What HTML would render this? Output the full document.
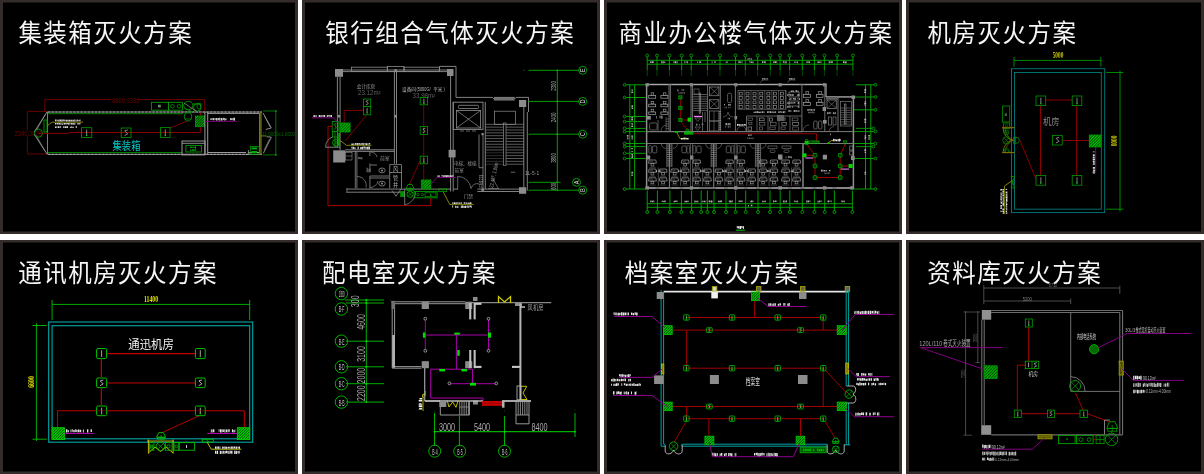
<!DOCTYPE html><html><head><meta charset="utf-8"><title>CAD</title><style>html,body{margin:0;padding:0;background:#fff;overflow:hidden}body{width:1204px;height:474px;font-family:"Liberation Sans",sans-serif}</style></head><body><svg width="1204" height="474" viewBox="0 0 1204 474" style="display:block"><defs><filter id="bl" x="-2%" y="-2%" width="104%" height="104%"><feGaussianBlur stdDeviation="0.3"/></filter><filter id="bl3" x="-2%" y="-2%" width="104%" height="104%"><feGaussianBlur stdDeviation="0.45"/></filter><filter id="bl2" x="-2%" y="-2%" width="104%" height="104%"><feGaussianBlur stdDeviation="0.35"/></filter></defs><rect width="1204" height="474" fill="#fff"/><rect x="0" y="0" width="298" height="234" fill="#332c2b" stroke="none" stroke-width="1"/><rect x="3" y="2.5" width="292" height="229" fill="#000" stroke="none" stroke-width="1"/><rect x="302" y="0" width="298" height="234" fill="#332c2b" stroke="none" stroke-width="1"/><rect x="305" y="2.5" width="292" height="229" fill="#000" stroke="none" stroke-width="1"/><rect x="604" y="0" width="298" height="234" fill="#332c2b" stroke="none" stroke-width="1"/><rect x="607" y="2.5" width="292" height="229" fill="#000" stroke="none" stroke-width="1"/><rect x="906" y="0" width="298" height="234" fill="#332c2b" stroke="none" stroke-width="1"/><rect x="909" y="2.5" width="292" height="229" fill="#000" stroke="none" stroke-width="1"/><rect x="0" y="240" width="298" height="234" fill="#332c2b" stroke="none" stroke-width="1"/><rect x="3" y="242.5" width="292" height="229" fill="#000" stroke="none" stroke-width="1"/><rect x="302" y="240" width="298" height="234" fill="#332c2b" stroke="none" stroke-width="1"/><rect x="305" y="242.5" width="292" height="229" fill="#000" stroke="none" stroke-width="1"/><rect x="604" y="240" width="298" height="234" fill="#332c2b" stroke="none" stroke-width="1"/><rect x="607" y="242.5" width="292" height="229" fill="#000" stroke="none" stroke-width="1"/><rect x="906" y="240" width="298" height="234" fill="#332c2b" stroke="none" stroke-width="1"/><rect x="909" y="242.5" width="292" height="229" fill="#000" stroke="none" stroke-width="1"/><g filter="url(#bl)"><text transform="translate(18.38 42) scale(0.94 1)" font-family="'Liberation Sans', 'Noto Sans CJK SC', sans-serif" font-size="25" letter-spacing="1.6" fill="#f6f6f6" text-anchor="start">集装箱灭火方案</text><text transform="translate(325.19 42) scale(0.94 1)" font-family="'Liberation Sans', 'Noto Sans CJK SC', sans-serif" font-size="25" letter-spacing="1.6" fill="#f6f6f6" text-anchor="start">银行组合气体灭火方案</text><text transform="translate(618.54 42) scale(0.94 1)" font-family="'Liberation Sans', 'Noto Sans CJK SC', sans-serif" font-size="25" letter-spacing="1.6" fill="#f6f6f6" text-anchor="start">商业办公楼气体灭火方案</text><text transform="translate(927.53 42) scale(0.94 1)" font-family="'Liberation Sans', 'Noto Sans CJK SC', sans-serif" font-size="25" letter-spacing="1.6" fill="#f6f6f6" text-anchor="start">机房灭火方案</text><text transform="translate(18.15 282) scale(0.94 1)" font-family="'Liberation Sans', 'Noto Sans CJK SC', sans-serif" font-size="25" letter-spacing="1.6" fill="#f6f6f6" text-anchor="start">通讯机房灭火方案</text><text transform="translate(321.92 282) scale(0.94 1)" font-family="'Liberation Sans', 'Noto Sans CJK SC', sans-serif" font-size="25" letter-spacing="1.6" fill="#f6f6f6" text-anchor="start">配电室灭火方案</text><text transform="translate(624.66 282) scale(0.94 1)" font-family="'Liberation Sans', 'Noto Sans CJK SC', sans-serif" font-size="25" letter-spacing="1.6" fill="#f6f6f6" text-anchor="start">档案室灭火方案</text><text transform="translate(927.33 282) scale(0.94 1)" font-family="'Liberation Sans', 'Noto Sans CJK SC', sans-serif" font-size="25" letter-spacing="1.6" fill="#f6f6f6" text-anchor="start">资料库灭火方案</text></g><g filter="url(#bl2)"><polyline points="44.8,111 44.8,99.5 204.6,99.5 204.6,111" fill="none" stroke="#740000" stroke-width="0.9"/><polyline points="47,111.4 27.4,111.4 27.4,154 47,154" fill="none" stroke="#740000" stroke-width="0.9"/><rect x="111" y="97.5" width="27" height="5" fill="#000" stroke="none" stroke-width="1"/><text transform="translate(112 103) scale(0.83 1)" font-family="Liberation Sans, sans-serif" font-size="7" fill="#6a0000" text-anchor="start">8860.9386</text><rect x="14" y="130.5" width="24" height="6" fill="#000" stroke="none" stroke-width="1"/><text transform="translate(14.5 136) scale(0.83 1)" font-family="Liberation Sans, sans-serif" font-size="7" fill="#6a0000" text-anchor="start">2340.0000</text><line x1="48" y1="112" x2="262" y2="112" stroke="#6c6c6c" stroke-width="1.1"/><line x1="48" y1="112" x2="262" y2="112" stroke="#b0b0b0" stroke-width="0.9" stroke-dasharray="2.4 1.2"/><line x1="48" y1="113.7" x2="183" y2="113.7" stroke="#009c00" stroke-width="0.9"/><line x1="48" y1="152.6" x2="182" y2="152.6" stroke="#009c00" stroke-width="0.9"/><line x1="48" y1="154.4" x2="262" y2="154.4" stroke="#6c6c6c" stroke-width="1.1"/><line x1="48" y1="154.4" x2="262" y2="154.4" stroke="#b0b0b0" stroke-width="0.9" stroke-dasharray="2.4 1.2"/><line x1="47.5" y1="111.5" x2="47.5" y2="154.5" stroke="#8c8c00" stroke-width="1"/><polyline points="47,112 34,132.3" fill="none" stroke="#9a9a9a" stroke-width="0.9"/><polyline points="47,154 34,134" fill="none" stroke="#9a9a9a" stroke-width="0.9"/><polyline points="45.3,114.5 36.3,130.5" fill="none" stroke="#9a9a9a" stroke-width="0.6"/><polyline points="45.3,151.5 36.3,135.5" fill="none" stroke="#9a9a9a" stroke-width="0.6"/><circle cx="38.5" cy="133.2" r="4" fill="none" stroke="#009c00" stroke-width="0.9"/><rect x="44" y="120" width="3" height="12" fill="none" stroke="#009c00" stroke-width="0.9"/><polyline points="47.5,125.5 52,122.2 83,122.2" fill="none" stroke="#8c8c00" stroke-width="0.9"/><path d="M55 119.61h0.99v1.7h-0.99zM56.41 119.61h1.03v1.62h-1.03zM57.81 119.87h0.76v1.57h-0.76zM58.82 119.62h0.9v1.87h-0.9zM60.08 119.62h1.58v1.82h-1.58zM61.92 119.62h0.81v1.8h-0.81zM63.16 119.62h1.28v1.64h-1.28zM64.65 119.7h0.89v1.57h-0.89zM65.97 119.68h1.11v1.78h-1.11zM67.38 119.65h1.22v1.83h-1.22zM68.91 119.85h1.58v1.57h-1.58zM70.75 119.74h1.14v1.71h-1.14zM72.32 119.7h1.49v1.73h-1.49zM74.24 119.61h1.11v1.87h-1.11zM75.82 119.8h0.75v1.7h-0.75zM77.1 119.6h0.96v1.71h-0.96zM78.44 120.01h0.85v1.36h-0.85zM79.55 119.61h0.92v1.83h-0.92z" fill="#fff" opacity="0.85"/><path d="M55 123.02h1.48v1.57h-1.48zM57.03 123.01h1.56v1.43h-1.56zM58.89 122.9h1.14v1.48h-1.14zM60.39 122.92h1.03v1.87h-1.03zM61.83 123.39h1.26v1.36h-1.26zM63.6 123.04h1.49v1.55h-1.49zM65.33 123.01h1.27v1.37h-1.27zM66.86 122.99h1.01v1.33h-1.01zM68.11 122.94h1.03v1.83h-1.03zM69.39 122.94h0.93v1.54h-0.93zM70.86 122.93h1.59v1.61h-1.59zM72.7 122.92h1.01v1.8h-1.01zM73.91 123.16h1.56v1.41h-1.56zM77.4 122.96h1.33v1.54h-1.33zM79.24 122.99h1.18v1.52h-1.18z" fill="#fff" opacity="0.85"/><path d="M55 126.43h1.44v1.46h-1.44zM56.78 126.31h0.73v1.49h-0.73zM57.98 126.24h1.56v1.86h-1.56zM60.12 126.29h1.03v1.46h-1.03zM63.23 126.21h1.13v1.79h-1.13zM64.83 126.27h1.52v1.76h-1.52zM66.62 126.31h1.41v1.79h-1.41zM69.94 126.64h0.85v1.42h-0.85zM71.31 126.21h0.83v1.89h-0.83zM72.49 126.75h1.19v1.34h-1.19zM75.69 126.31h1.31v1.45h-1.31z" fill="#fff" opacity="0.85"/><polyline points="38.5,133.4 68,133.4 70,132.5 200.4,132.5 200.4,112.5" fill="none" stroke="#880000" stroke-width="1"/><line x1="170" y1="128" x2="187" y2="121" stroke="#880000" stroke-width="0.9"/><rect x="81.5" y="127.7" width="10.3" height="9.8" fill="none" stroke="#009c00" stroke-width="0.8"/><line x1="86.65" y1="129.46" x2="86.65" y2="135.54" stroke="#a4a4a4" stroke-width="0.8"/><circle cx="86.65" cy="135.54" r="0.7" fill="#00e000" stroke="none" stroke-width="1"/><rect x="121.2" y="128" width="9.8" height="9.5" fill="none" stroke="#009c00" stroke-width="0.8"/><polyline points="127.86,129.9 124.73,130.85 127.67,133.89 124.53,135.6" fill="none" stroke="#a4a4a4" stroke-width="0.8"/><rect x="160.6" y="127.5" width="9.4" height="10" fill="none" stroke="#009c00" stroke-width="0.8"/><line x1="165.3" y1="129.3" x2="165.3" y2="135.5" stroke="#a4a4a4" stroke-width="0.8"/><circle cx="165.3" cy="135.5" r="0.7" fill="#00e000" stroke="none" stroke-width="1"/><text transform="translate(112.59 150.3) scale(0.8 1)" font-family="'Liberation Sans', 'Noto Sans CJK SC', sans-serif" font-size="11.6" fill="#00c8c8" text-anchor="start">集装箱</text><rect x="151.4" y="102.3" width="17.1" height="7.9" fill="none" stroke="#009c00" stroke-width="0.9"/><path d="M158 104.8h0.92v2.49h-0.92zM159.17 104.8h1.52v2.68h-1.52z" fill="#9c9" opacity="0.8"/><rect x="168.5" y="102.3" width="13.9" height="7.9" fill="none" stroke="#009c00" stroke-width="0.9"/><circle cx="172.5" cy="106.3" r="1.8" fill="none" stroke="#009c00" stroke-width="0.8"/><circle cx="179" cy="106.3" r="1.8" fill="none" stroke="#009c00" stroke-width="0.8"/><ellipse cx="188.3" cy="105.5" rx="4.6" ry="4.2" fill="none" stroke="#009c00" stroke-width="0.9"/><ellipse cx="197.3" cy="107.3" rx="3.8" ry="3.8" fill="none" stroke="#009c00" stroke-width="0.9"/><ellipse cx="188" cy="116.5" rx="3.6" ry="4.6" fill="none" stroke="#009c00" stroke-width="0.9"/><line x1="184" y1="103" x2="196" y2="111" stroke="#9a9a9a" stroke-width="0.7"/><line x1="184" y1="108" x2="193" y2="112" stroke="#009c00" stroke-width="0.8"/><line x1="193" y1="104" x2="201" y2="104" stroke="#009c00" stroke-width="0.8"/><ellipse cx="199" cy="106" rx="2" ry="3" fill="none" stroke="#009c00" stroke-width="0.7"/><line x1="184.5" y1="119" x2="191.5" y2="119" stroke="#009c00" stroke-width="0.7"/><line x1="185" y1="113" x2="191" y2="113" stroke="#009c00" stroke-width="0.7"/><clipPath id="c150"><rect x="195.4" y="116" width="9.1" height="10.7"/></clipPath><rect x="195.4" y="116" width="9.1" height="10.7" fill="#004400" stroke="none" stroke-width="1"/><path d="M184.7 126.7L195.4 116M187.3 126.7L198 116M189.9 126.7L200.6 116M192.5 126.7L203.2 116M195.1 126.7L205.8 116M197.7 126.7L208.4 116M200.3 126.7L211 116M202.9 126.7L213.6 116" stroke="#00b000" stroke-width="1" clip-path="url(#c150)" fill="none"/><rect x="195.4" y="116" width="9.1" height="10.7" fill="none" stroke="#009800" stroke-width="0.8"/><line x1="204.9" y1="112" x2="204.9" y2="154.5" stroke="#9a9a9a" stroke-width="1"/><line x1="207.7" y1="112" x2="207.7" y2="154.5" stroke="#9a9a9a" stroke-width="1"/><polyline points="207.7,113.4 259.8,113.4 259.8,152.5" fill="none" stroke="#9a9a9a" stroke-width="1"/><line x1="207.7" y1="152.5" x2="246" y2="152.5" stroke="#9a9a9a" stroke-width="1"/><line x1="248.4" y1="152.5" x2="259.8" y2="152.5" stroke="#9a9a9a" stroke-width="1"/><line x1="248.4" y1="150" x2="248.4" y2="154.5" stroke="#9a9a9a" stroke-width="0.8"/><line x1="205.2" y1="121.3" x2="236.8" y2="121.3" stroke="#800080" stroke-width="1"/><path d="M210.4 118.14h1.18v1.83h-1.18zM211.85 118.11h0.7v1.95h-0.7zM213.05 118.01h1.2v2.22h-1.2zM214.76 117.96h0.8v2.01h-0.8zM216.06 117.97h1.16v2.41h-1.16zM217.6 118.06h1.25v2.22h-1.25zM219.23 117.83h1.18v2.55h-1.18zM220.96 118.12h1.55v2.26h-1.55zM223.05 117.83h0.82v2.16h-0.82zM224.17 117.95h0.77v2.43h-0.77zM225.19 118.39h1.34v1.93h-1.34zM230.05 117.93h0.85v2.22h-0.85zM231.18 118.22h0.99v1.84h-0.99zM232.54 117.95h0.72v2.31h-0.72zM233.48 117.8h1.52v2.58h-1.52z" fill="#fff" opacity="0.85"/><rect x="182" y="141" width="23" height="13.9" fill="none" stroke="#9a9a9a" stroke-width="1"/><line x1="182" y1="143.3" x2="205" y2="143.3" stroke="#9a9a9a" stroke-width="0.9"/><rect x="185.9" y="145.4" width="15.5" height="6.6" fill="none" stroke="#009c00" stroke-width="0.9"/><path d="M190 146.65h0.74v1.41h-0.74zM191.1 146.66h1.52v1.4h-1.52zM193.19 146.63h1.21v1.31h-1.21zM194.88 146.62h1.08v1.77h-1.08z" fill="#0c0" opacity="0.9"/><path d="M190 149.4h1.48v1.44h-1.48zM192.05 149.26h0.94v1.54h-0.94zM193.23 149.33h0.85v1.37h-0.85zM194.4 149.25h1.38v1.53h-1.38z" fill="#0c0" opacity="0.9"/><line x1="261" y1="112" x2="261" y2="154.5" stroke="#8c8c00" stroke-width="1"/><polyline points="263,113 271.3,128 265.8,129.4" fill="none" stroke="#9a9a9a" stroke-width="0.9"/><polyline points="264.5,116 270,127" fill="none" stroke="#9a9a9a" stroke-width="0.6"/><polyline points="266.6,136.7 271.3,137.2 263.4,153.3" fill="none" stroke="#9a9a9a" stroke-width="0.9"/><polyline points="269.5,139 264.2,150" fill="none" stroke="#9a9a9a" stroke-width="0.6"/><line x1="261" y1="135.9" x2="266.6" y2="135.9" stroke="#8c8c00" stroke-width="0.9"/><line x1="275.8" y1="110.9" x2="275.8" y2="154.9" stroke="#009000" stroke-width="0.8"/><line x1="263" y1="111" x2="277" y2="111" stroke="#009000" stroke-width="0.8"/><line x1="263" y1="154.9" x2="277" y2="154.9" stroke="#009000" stroke-width="0.8"/><circle cx="275.8" cy="111" r="0.7" fill="#00c000" stroke="none" stroke-width="1"/><circle cx="275.8" cy="154.9" r="0.7" fill="#00c000" stroke="none" stroke-width="1"/><text transform="translate(262 135.6) scale(0.78 1)" font-family="Liberation Sans, sans-serif" font-size="6" fill="#006800" text-anchor="start">11.0000x1.0000</text><rect x="250.3" y="146.5" width="9" height="7.8" fill="none" stroke="#009c00" stroke-width="0.8"/><rect x="251.5" y="147.5" width="5.5" height="1.8" fill="#00b000" stroke="none" stroke-width="1"/><rect x="251.5" y="151" width="5.5" height="2" fill="#00b000" stroke="none" stroke-width="1"/><rect x="335" y="69" width="8" height="7.8" fill="#8c8c8c" stroke="none" stroke-width="1"/><rect x="447" y="69" width="6.5" height="7" fill="#8c8c8c" stroke="none" stroke-width="1"/><rect x="394.4" y="69.2" width="2.4" height="2.4" fill="#8c8c8c" stroke="none" stroke-width="1"/><rect x="337.8" y="115" width="2.3" height="2.5" fill="#8c8c8c" stroke="none" stroke-width="1"/><rect x="394.4" y="115" width="2.4" height="2.5" fill="#8c8c8c" stroke="none" stroke-width="1"/><rect x="333.2" y="150.3" width="12.1" height="12.2" fill="#8c8c8c" stroke="none" stroke-width="1"/><rect x="448.6" y="149.8" width="7" height="7.6" fill="#8c8c8c" stroke="none" stroke-width="1"/><rect x="519" y="100" width="7.2" height="7" fill="#8c8c8c" stroke="none" stroke-width="1"/><rect x="519" y="187.2" width="7.2" height="6.6" fill="#8c8c8c" stroke="none" stroke-width="1"/><rect x="481.5" y="133" width="2.2" height="2.2" fill="#8c8c8c" stroke="none" stroke-width="1"/><rect x="481.5" y="188.6" width="2.4" height="2.4" fill="#8c8c8c" stroke="none" stroke-width="1"/><line x1="343" y1="70" x2="447" y2="70" stroke="#8e8e8e" stroke-width="0.9"/><line x1="343" y1="71.6" x2="447" y2="71.6" stroke="#8e8e8e" stroke-width="0.9"/><rect x="351.4" y="67.2" width="35.9" height="4.4" fill="none" stroke="#8e8e8e" stroke-width="0.8"/><rect x="387.3" y="66.4" width="16.7" height="5.2" fill="none" stroke="#8e8e8e" stroke-width="0.8"/><rect x="404" y="67.2" width="35.5" height="4.4" fill="none" stroke="#8e8e8e" stroke-width="0.8"/><polyline points="439.5,71.6 439.5,66.4 456,66.4 456,97.4 492.5,97.4 494,99" fill="none" stroke="#8e8e8e" stroke-width="0.9"/><line x1="337.4" y1="77" x2="337.4" y2="147" stroke="#8e8e8e" stroke-width="0.9"/><line x1="340.1" y1="77" x2="340.1" y2="150" stroke="#8e8e8e" stroke-width="0.9"/><line x1="394.4" y1="71.6" x2="394.4" y2="163.8" stroke="#8e8e8e" stroke-width="0.9"/><line x1="396.5" y1="71.6" x2="396.5" y2="163.8" stroke="#8e8e8e" stroke-width="0.9"/><line x1="450.6" y1="76" x2="450.6" y2="191.5" stroke="#8e8e8e" stroke-width="0.9"/><line x1="453.2" y1="102" x2="453.2" y2="191.5" stroke="#8e8e8e" stroke-width="0.9"/><text x="356.84" y="88.2" font-family="'Liberation Sans', 'Noto Sans CJK SC', sans-serif" font-size="4.6" fill="#a0a0a0" text-anchor="start">会计库房</text><text transform="translate(358 95.3) scale(0.88 1)" font-family="Liberation Sans, sans-serif" font-size="7" fill="#606060" text-anchor="start">23.12m²</text><text x="402.12" y="90.6" font-family="'Liberation Sans', 'Noto Sans CJK SC', sans-serif" font-size="4.6" fill="#b8b8b8" text-anchor="start">设备间</text><text transform="translate(416.5 90.6) scale(0.78 1)" font-family="Liberation Sans, sans-serif" font-size="5" fill="#b8b8b8" text-anchor="start">(5000G/</text><text x="433.27" y="90.6" font-family="'Liberation Sans', 'Noto Sans CJK SC', sans-serif" font-size="4.6" fill="#b8b8b8" text-anchor="start">平米</text><text transform="translate(443.5 90.6) scale(0.8 1)" font-family="Liberation Sans, sans-serif" font-size="5" fill="#b8b8b8" text-anchor="start">)</text><text transform="translate(412.6 98.1) scale(0.88 1)" font-family="Liberation Sans, sans-serif" font-size="7" fill="#606060" text-anchor="start">33.98m²</text><line x1="423.7" y1="104.8" x2="423.7" y2="180" stroke="#7c0000" stroke-width="1"/><polyline points="344.2,123 344.2,110.4 363.5,110.4" fill="none" stroke="#7c0000" stroke-width="1"/><line x1="366.7" y1="114.8" x2="345.3" y2="140.8" stroke="#7c0000" stroke-width="1"/><line x1="420.2" y1="160.6" x2="409.4" y2="184.3" stroke="#7c0000" stroke-width="1"/><rect x="363.5" y="99" width="7.2" height="7.4" fill="none" stroke="#009c00" stroke-width="0.8"/><polyline points="368.4,100.48 366.09,101.22 368.25,103.59 365.95,104.92" fill="none" stroke="#a4a4a4" stroke-width="0.8"/><rect x="363.5" y="106.4" width="7.2" height="8.4" fill="none" stroke="#009c00" stroke-width="0.8"/><line x1="367.1" y1="107.91" x2="367.1" y2="113.12" stroke="#a4a4a4" stroke-width="0.8"/><circle cx="367.1" cy="113.12" r="0.7" fill="#00e000" stroke="none" stroke-width="1"/><rect x="420.2" y="97.4" width="7.4" height="7.4" fill="none" stroke="#009c00" stroke-width="0.8"/><line x1="423.9" y1="98.73" x2="423.9" y2="103.32" stroke="#a4a4a4" stroke-width="0.8"/><circle cx="423.9" cy="103.32" r="0.7" fill="#00e000" stroke="none" stroke-width="1"/><rect x="420.2" y="126.6" width="7.4" height="7.9" fill="none" stroke="#009c00" stroke-width="0.8"/><polyline points="425.23,128.18 422.86,128.97 425.08,131.5 422.72,132.92" fill="none" stroke="#a4a4a4" stroke-width="0.8"/><rect x="420.2" y="156.2" width="7.4" height="7.6" fill="none" stroke="#009c00" stroke-width="0.8"/><line x1="423.9" y1="157.57" x2="423.9" y2="162.28" stroke="#a4a4a4" stroke-width="0.8"/><circle cx="423.9" cy="162.28" r="0.7" fill="#00e000" stroke="none" stroke-width="1"/><polyline points="312,117.8 333.5,117.8 339.8,124.6" fill="none" stroke="#800080" stroke-width="1"/><path d="M313 115.38h0.72v1.55h-0.72zM314.14 114.9h0.87v2.16h-0.87zM315.53 114.94h1.09v2.09h-1.09zM318.68 115h1.45v1.96h-1.45zM320.47 115.35h0.75v1.59h-0.75zM321.52 114.99h0.85v2.1h-0.85zM322.84 115.11h0.95v1.73h-0.95zM324.05 114.92h1.1v2.17h-1.1zM326.82 115.09h1.02v1.79h-1.02zM328.24 115.07h0.88v1.54h-0.88zM329.36 115.1h1.06v1.55h-1.06zM330.71 115.01h1.23v2.04h-1.23z" fill="#fff" opacity="0.85"/><rect x="332.2" y="121.5" width="6" height="9.8" fill="none" stroke="#009c00" stroke-width="0.8"/><polyline points="336.28,123.46 334.36,124.44 336.16,127.58 334.24,129.34" fill="none" stroke="#00c000" stroke-width="0.8"/><clipPath id="c245"><rect x="340.1" y="123" width="10" height="9"/></clipPath><rect x="340.1" y="123" width="10" height="9" fill="#004400" stroke="none" stroke-width="1"/><path d="M331.1 132L340.1 123M333.9 132L342.9 123M336.7 132L345.7 123M339.5 132L348.5 123M342.3 132L351.3 123M345.1 132L354.1 123M347.9 132L356.9 123" stroke="#00b800" stroke-width="1.15" clip-path="url(#c245)" fill="none"/><rect x="340.1" y="123" width="10" height="9" fill="none" stroke="#009c00" stroke-width="0.8"/><polyline points="332.7,126.3 328,126.3 328,205.6 430.8,205.6 430.8,198" fill="none" stroke="#a80000" stroke-width="1"/><rect x="332.5" y="131.5" width="5" height="5.5" fill="none" stroke="#009c00" stroke-width="0.8"/><circle cx="335.9" cy="142.6" r="3.4" fill="none" stroke="#009c00" stroke-width="0.9"/><line x1="333.5" y1="140" x2="338.4" y2="145" stroke="#009c00" stroke-width="0.7"/><line x1="338.4" y1="140" x2="333.5" y2="145" stroke="#009c00" stroke-width="0.7"/><line x1="335" y1="131" x2="335" y2="147" stroke="#009c00" stroke-width="0.8"/><line x1="339" y1="133" x2="339" y2="146" stroke="#00c000" stroke-width="1.4"/><path d="M325.6 147.2A10.5 10.5 0 0 1 332.7 136.9" fill="none" stroke="#8e8e8e" stroke-width="0.8"/><line x1="325.6" y1="147.2" x2="340" y2="147.2" stroke="#8e8e8e" stroke-width="0.9"/><polyline points="340.6,140.8 346.5,145.3 371.5,145.3" fill="none" stroke="#909000" stroke-width="0.9"/><path d="M351.4 143.38h1.49v1.52h-1.49zM353.15 143.46h1.35v1.35h-1.35zM355.06 143.01h1.26v1.79h-1.26zM356.73 143.09h1.15v1.79h-1.15zM358.32 143.04h1.5v1.73h-1.5zM360.04 143.43h0.82v1.39h-0.82zM361.28 143.09h1.26v1.72h-1.26zM362.75 143.15h1.42v1.62h-1.42zM364.63 143.03h0.76v1.47h-0.76zM365.69 143.14h1.36v1.75h-1.36zM367.45 143.14h1.04v1.72h-1.04zM368.94 143.12h1.28v1.41h-1.28z" fill="#fff" opacity="0.85"/><path d="M351.4 146.65h0.97v1.83h-0.97zM352.68 146.67h1.3v2.35h-1.3zM354.39 147.21h1.12v1.91h-1.12zM357.58 146.61h1.11v2.58h-1.11zM360.17 146.95h1.22v2.23h-1.22zM361.65 146.66h1.44v2.51h-1.44zM363.38 146.6h1.51v1.84h-1.51zM365.28 146.83h1.11v1.93h-1.11zM366.72 146.76h1.46v2.41h-1.46zM368.42 146.62h1.53v2.52h-1.53z" fill="#fff" opacity="0.85"/><line x1="345.3" y1="149.8" x2="394.4" y2="149.8" stroke="#8e8e8e" stroke-width="0.9"/><line x1="345.3" y1="151.4" x2="394.4" y2="151.4" stroke="#8e8e8e" stroke-width="0.9"/><line x1="355.3" y1="151.4" x2="355.3" y2="188.3" stroke="#8e8e8e" stroke-width="0.8"/><line x1="356.9" y1="151.4" x2="356.9" y2="188.3" stroke="#8e8e8e" stroke-width="0.8"/><line x1="346.9" y1="189.1" x2="450.6" y2="189.1" stroke="#8e8e8e" stroke-width="0.9"/><line x1="346.9" y1="192.2" x2="404" y2="192.2" stroke="#8e8e8e" stroke-width="0.9"/><line x1="346.9" y1="188" x2="346.9" y2="193" stroke="#8e8e8e" stroke-width="0.8"/><line x1="369.9" y1="151.4" x2="369.9" y2="156" stroke="#8e8e8e" stroke-width="0.8"/><line x1="369.9" y1="163.5" x2="369.9" y2="172" stroke="#8e8e8e" stroke-width="0.8"/><line x1="369.9" y1="176" x2="369.9" y2="188.3" stroke="#8e8e8e" stroke-width="0.8"/><line x1="369.9" y1="176" x2="389" y2="176" stroke="#8e8e8e" stroke-width="0.8"/><line x1="369.9" y1="178" x2="389" y2="178" stroke="#8e8e8e" stroke-width="0.8"/><line x1="370" y1="165" x2="377" y2="165" stroke="#8e8e8e" stroke-width="0.8"/><ellipse cx="382" cy="170.4" rx="3.2" ry="2.4" fill="none" stroke="#8e8e8e" stroke-width="0.8"/><ellipse cx="382" cy="183.6" rx="3.2" ry="2.4" fill="none" stroke="#8e8e8e" stroke-width="0.8"/><circle cx="382" cy="170.4" r="1" fill="#8e8e8e" stroke="none" stroke-width="1"/><circle cx="382" cy="183.6" r="1" fill="#8e8e8e" stroke="none" stroke-width="1"/><path d="M357 176.5A9 9 0 0 1 366 187.5" fill="none" stroke="#8e8e8e" stroke-width="0.7"/><path d="M370 187.5A8 8 0 0 0 378 181" fill="none" stroke="#8e8e8e" stroke-width="0.7"/><path d="M370.5 152A7 7 0 0 1 377 157" fill="none" stroke="#8e8e8e" stroke-width="0.7"/><rect x="345.5" y="152.5" width="6.5" height="7.5" fill="none" stroke="#8e8e8e" stroke-width="0.6"/><line x1="346" y1="156" x2="352" y2="156" stroke="#8e8e8e" stroke-width="0.6"/><path d="M358 157.02h1.02v1.72h-1.02zM359.27 157.01h1.45v2.16h-1.45zM361.02 157.4h1.16v1.79h-1.16zM362.74 157.05h0.26v2.14h-0.26z" fill="#999" opacity="0.7"/><path d="M366.5 167.68h1.35v4.6h-1.35zM368.35 168.82h1.28v3.57h-1.28zM369.88 168.28h0.62v3.95h-0.62z" fill="#888" opacity="0.7"/><text x="380.06" y="159.6" font-family="'Liberation Sans', 'Noto Sans CJK SC', sans-serif" font-size="4.8" fill="#8c8c8c" text-anchor="start">前室</text><polyline points="389.7,188.3 389.7,164.6 401.5,164.6 401.5,188.3 396,196.2 392,190.5" fill="none" stroke="#8e8e8e" stroke-width="0.8"/><line x1="389.7" y1="172.5" x2="401.5" y2="172.5" stroke="#8e8e8e" stroke-width="0.8"/><text x="393.12" y="171.2" font-family="'Liberation Sans', 'Noto Sans CJK SC', sans-serif" font-size="5.2" fill="#b0b0b0" text-anchor="start">风</text><text x="393.11" y="180" font-family="'Liberation Sans', 'Noto Sans CJK SC', sans-serif" font-size="5.2" fill="#b0b0b0" text-anchor="start">管</text><text x="393.01" y="186.8" font-family="'Liberation Sans', 'Noto Sans CJK SC', sans-serif" font-size="5.2" fill="#b0b0b0" text-anchor="start">井</text><clipPath id="c300"><rect x="421.3" y="180" width="9.5" height="9"/></clipPath><rect x="421.3" y="180" width="9.5" height="9" fill="#004400" stroke="none" stroke-width="1"/><path d="M412.3 189L421.3 180M415.1 189L424.1 180M417.9 189L426.9 180M420.7 189L429.7 180M423.5 189L432.5 180M426.3 189L435.3 180M429.1 189L438.1 180" stroke="#00b800" stroke-width="1.15" clip-path="url(#c300)" fill="none"/><rect x="421.3" y="180" width="9.5" height="9" fill="none" stroke="#009c00" stroke-width="0.8"/><polyline points="430.8,184.3 437.1,177.4 456,177.4" fill="none" stroke="#800080" stroke-width="1"/><path d="M437.5 175.16h0.93v1.74h-0.93zM438.79 175.37h0.85v1.68h-0.85zM441.54 174.95h1.1v1.67h-1.1zM442.98 175.18h0.78v1.71h-0.78zM444.32 175.1h1.37v1.81h-1.37zM446.04 175.36h1v1.72h-1zM447.3 174.92h1.15v2.11h-1.15zM448.76 175.25h0.92v1.83h-0.92zM450.22 175.35h1.49v1.56h-1.49zM452.27 175.16h1.13v1.54h-1.13z" fill="#fff" opacity="0.85"/><polygon points="408,184.5 412,184.5 414,188.7 406,188.7" fill="none" stroke="#009c00" stroke-width="0.9"/><rect x="406.8" y="188.7" width="6.4" height="1.8" fill="none" stroke="#009c00" stroke-width="0.8"/><line x1="410" y1="186.6" x2="410" y2="190.5" stroke="#009c00" stroke-width="0.7"/><circle cx="410" cy="194.3" r="3.1" fill="none" stroke="#009c00" stroke-width="0.9"/><line x1="407.83" y1="192.13" x2="412.17" y2="196.47" stroke="#009c00" stroke-width="0.7"/><line x1="412.17" y1="192.13" x2="407.83" y2="196.47" stroke="#009c00" stroke-width="0.7"/><rect x="400.2" y="191.3" width="4.8" height="5.7" fill="#009000" stroke="none" stroke-width="1"/><rect x="414.2" y="191.5" width="22.9" height="6.3" fill="none" stroke="#009c00" stroke-width="0.9"/><circle cx="418" cy="194.6" r="1.2" fill="none" stroke="#009c00" stroke-width="0.7"/><circle cx="422.5" cy="194.6" r="1.2" fill="none" stroke="#009c00" stroke-width="0.7"/><rect x="425" y="192.8" width="11" height="3.8" fill="none" stroke="#009c00" stroke-width="0.7"/><circle cx="430.7" cy="195" r="0.8" fill="#0d0" stroke="none" stroke-width="1"/><rect x="438.7" y="189" width="7.9" height="2.5" fill="none" stroke="#009c00" stroke-width="0.8"/><line x1="441" y1="189" x2="444" y2="191.5" stroke="#009c00" stroke-width="0.6"/><polyline points="443.4,192.2 449.7,204.4 473.7,204.4" fill="none" stroke="#909000" stroke-width="0.9"/><path d="M452.2 202.45h0.92v1.42h-0.92zM453.6 202.35h1.55v1.7h-1.55zM455.53 202.23h1.2v1.78h-1.2zM457.29 202.33h1.28v1.4h-1.28zM459.03 202.48h1.33v1.37h-1.33zM460.79 202.2h1.05v1.67h-1.05zM463.73 202.31h1.5v1.46h-1.5zM465.81 202.48h1.33v1.34h-1.33zM467.61 202.38h1.08v1.71h-1.08zM468.98 202.43h0.73v1.57h-0.73zM469.99 202.26h1.42v1.62h-1.42z" fill="#fff" opacity="0.85"/><path d="M452.2 205.53h0.98v2h-0.98zM455.05 205.7h0.87v2.15h-0.87zM456.5 206h0.83v1.99h-0.83zM457.59 205.83h0.75v2.13h-0.75zM460.82 205.44h1v2.55h-1zM462.03 205.56h1.3v2.11h-1.3zM463.59 205.88h0.7v2.09h-0.7zM464.54 205.81h1.57v2.1h-1.57zM466.64 205.55h1.09v2.19h-1.09zM468.3 205.4h0.87v2.52h-0.87zM469.54 205.43h1.43v1.85h-1.43zM471.19 205.58h0.61v2.4h-0.61z" fill="#fff" opacity="0.85"/><line x1="404.7" y1="189" x2="404.7" y2="205" stroke="#8e8e8e" stroke-width="0.8"/><path d="M404.7 205A14 14 0 0 0 415.8 192" fill="none" stroke="#8e8e8e" stroke-width="0.7"/><rect x="494" y="97.4" width="20.6" height="3.2" fill="#707070" stroke="none" stroke-width="1"/><line x1="494" y1="97.4" x2="514.6" y2="97.4" stroke="#8e8e8e" stroke-width="0.8"/><polyline points="514.6,99 516.2,97.4 528.5,97.4 528.5,112" fill="none" stroke="#8e8e8e" stroke-width="0.9"/><rect x="453.2" y="102.2" width="29.8" height="27.2" fill="none" stroke="#8e8e8e" stroke-width="0.9"/><rect x="458.4" y="105.3" width="20.1" height="3.2" fill="none" stroke="#8e8e8e" stroke-width="0.8" rx="1"/><rect x="456.4" y="110.4" width="24.2" height="17.6" fill="none" stroke="#8e8e8e" stroke-width="0.8"/><line x1="456.4" y1="110.4" x2="480.6" y2="128" stroke="#8e8e8e" stroke-width="0.7"/><line x1="480.6" y1="110.4" x2="456.4" y2="128" stroke="#8e8e8e" stroke-width="0.7"/><line x1="460" y1="131" x2="477" y2="131" stroke="#8e8e8e" stroke-width="0.7" stroke-dasharray="4 2"/><line x1="485.3" y1="102" x2="485.3" y2="189" stroke="#8e8e8e" stroke-width="0.9"/><line x1="523.8" y1="107" x2="523.8" y2="187" stroke="#8e8e8e" stroke-width="0.9"/><line x1="527.3" y1="112" x2="527.3" y2="190.7" stroke="#8e8e8e" stroke-width="0.9"/><rect x="494.4" y="111.2" width="21" height="13.1" fill="none" stroke="#8e8e8e" stroke-width="0.7"/><line x1="485.8" y1="124.3" x2="503.5" y2="124.3" stroke="#8e8e8e" stroke-width="0.7" stroke-opacity="0.9"/><line x1="506" y1="124.3" x2="523.8" y2="124.3" stroke="#8e8e8e" stroke-width="0.7" stroke-opacity="0.9"/><line x1="485.8" y1="127.15" x2="503.5" y2="127.15" stroke="#8e8e8e" stroke-width="0.7" stroke-opacity="0.9"/><line x1="506" y1="127.15" x2="523.8" y2="127.15" stroke="#8e8e8e" stroke-width="0.7" stroke-opacity="0.9"/><line x1="485.8" y1="130" x2="503.5" y2="130" stroke="#8e8e8e" stroke-width="0.7" stroke-opacity="0.9"/><line x1="506" y1="130" x2="523.8" y2="130" stroke="#8e8e8e" stroke-width="0.7" stroke-opacity="0.9"/><line x1="485.8" y1="132.85" x2="503.5" y2="132.85" stroke="#8e8e8e" stroke-width="0.7" stroke-opacity="0.9"/><line x1="506" y1="132.85" x2="523.8" y2="132.85" stroke="#8e8e8e" stroke-width="0.7" stroke-opacity="0.9"/><line x1="485.8" y1="135.7" x2="503.5" y2="135.7" stroke="#8e8e8e" stroke-width="0.7" stroke-opacity="0.9"/><line x1="506" y1="135.7" x2="523.8" y2="135.7" stroke="#8e8e8e" stroke-width="0.7" stroke-opacity="0.9"/><line x1="485.8" y1="138.55" x2="503.5" y2="138.55" stroke="#8e8e8e" stroke-width="0.7" stroke-opacity="0.9"/><line x1="506" y1="138.55" x2="523.8" y2="138.55" stroke="#8e8e8e" stroke-width="0.7" stroke-opacity="0.9"/><line x1="485.8" y1="141.4" x2="503.5" y2="141.4" stroke="#8e8e8e" stroke-width="0.7" stroke-opacity="0.9"/><line x1="506" y1="141.4" x2="523.8" y2="141.4" stroke="#8e8e8e" stroke-width="0.7" stroke-opacity="0.9"/><line x1="485.8" y1="144.25" x2="503.5" y2="144.25" stroke="#8e8e8e" stroke-width="0.7" stroke-opacity="0.9"/><line x1="506" y1="144.25" x2="523.8" y2="144.25" stroke="#8e8e8e" stroke-width="0.7" stroke-opacity="0.9"/><line x1="485.8" y1="147.1" x2="503.5" y2="147.1" stroke="#8e8e8e" stroke-width="0.7" stroke-opacity="0.9"/><line x1="506" y1="147.1" x2="523.8" y2="147.1" stroke="#8e8e8e" stroke-width="0.7" stroke-opacity="0.9"/><line x1="485.8" y1="149.95" x2="503.5" y2="149.95" stroke="#8e8e8e" stroke-width="0.7" stroke-opacity="0.9"/><line x1="506" y1="149.95" x2="523.8" y2="149.95" stroke="#8e8e8e" stroke-width="0.7" stroke-opacity="0.9"/><line x1="485.8" y1="152.8" x2="503.5" y2="152.8" stroke="#8e8e8e" stroke-width="0.7" stroke-opacity="0.45"/><line x1="506" y1="152.8" x2="523.8" y2="152.8" stroke="#8e8e8e" stroke-width="0.7" stroke-opacity="0.9"/><line x1="485.8" y1="155.65" x2="503.5" y2="155.65" stroke="#8e8e8e" stroke-width="0.7" stroke-opacity="0.45"/><line x1="506" y1="155.65" x2="523.8" y2="155.65" stroke="#8e8e8e" stroke-width="0.7" stroke-opacity="0.9"/><line x1="485.8" y1="158.5" x2="503.5" y2="158.5" stroke="#8e8e8e" stroke-width="0.7" stroke-opacity="0.45"/><line x1="506" y1="158.5" x2="523.8" y2="158.5" stroke="#8e8e8e" stroke-width="0.7" stroke-opacity="0.9"/><line x1="485.8" y1="161.35" x2="503.5" y2="161.35" stroke="#8e8e8e" stroke-width="0.7" stroke-opacity="0.45"/><line x1="506" y1="161.35" x2="523.8" y2="161.35" stroke="#8e8e8e" stroke-width="0.7" stroke-opacity="0.9"/><line x1="485.8" y1="164.2" x2="503.5" y2="164.2" stroke="#8e8e8e" stroke-width="0.7" stroke-opacity="0.45"/><line x1="506" y1="164.2" x2="523.8" y2="164.2" stroke="#8e8e8e" stroke-width="0.7" stroke-opacity="0.9"/><rect x="503.5" y="123" width="2.5" height="42.3" fill="none" stroke="#8e8e8e" stroke-width="0.7"/><line x1="479" y1="134.5" x2="479" y2="167.7" stroke="#8e8e8e" stroke-width="0.8"/><line x1="483" y1="134.5" x2="483" y2="189" stroke="#8e8e8e" stroke-width="0.8"/><line x1="479" y1="167.7" x2="483" y2="167.7" stroke="#8e8e8e" stroke-width="0.8"/><line x1="477.4" y1="189.1" x2="519" y2="189.1" stroke="#8e8e8e" stroke-width="0.9"/><line x1="477.4" y1="191.5" x2="519" y2="191.5" stroke="#8e8e8e" stroke-width="0.9"/><line x1="453.2" y1="189.1" x2="458" y2="189.1" stroke="#8e8e8e" stroke-width="0.9"/><text transform="translate(454.06 164.6) scale(0.98 1)" font-family="'Liberation Sans', 'Noto Sans CJK SC', sans-serif" font-size="4.6" fill="#8c8c8c" text-anchor="start">电梯、楼梯</text><text x="454.57" y="172" font-family="'Liberation Sans', 'Noto Sans CJK SC', sans-serif" font-size="4.6" fill="#8c8c8c" text-anchor="start">前室</text><text x="463.78" y="198.4" font-family="'Liberation Sans', 'Noto Sans CJK SC', sans-serif" font-size="4.8" fill="#9a9a9a" text-anchor="start">门禁</text><path d="M457.7 176.4A13.5 13.5 0 0 1 471 188.5" fill="none" stroke="#8e8e8e" stroke-width="0.7"/><path d="M479 183.9A6 6 0 0 0 471.2 188.5" fill="none" stroke="#8e8e8e" stroke-width="0.7"/><line x1="457.7" y1="176.4" x2="457.7" y2="189" stroke="#8e8e8e" stroke-width="0.7"/><text transform="translate(482.6 187.5) rotate(-90) scale(0.7 1)" font-family="Liberation Sans, sans-serif" font-size="5" fill="#a0a0a0" text-anchor="start">FM1221</text><text transform="translate(493 188) rotate(-78) scale(0.72 1)" font-family="Liberation Sans, sans-serif" font-size="5.6" fill="#9a9a9a" text-anchor="start">22.407, 1.80m</text><line x1="492.5" y1="178" x2="498" y2="188" stroke="#8e8e8e" stroke-width="0.6"/><line x1="488" y1="188.5" x2="499" y2="188.5" stroke="#8e8e8e" stroke-width="0.6"/><text transform="translate(524.9 174.6) scale(0.85 1)" font-family="Liberation Sans, sans-serif" font-size="5.8" fill="#9a9a9a" text-anchor="start">1L-5-1</text><line x1="510.7" y1="172.2" x2="515.4" y2="172.2" stroke="#8e8e8e" stroke-width="0.7"/><line x1="528.5" y1="70.3" x2="579.2" y2="70.3" stroke="#00b000" stroke-width="0.9"/><circle cx="557.3" cy="70.3" r="0.8" fill="#00d000" stroke="none" stroke-width="1"/><line x1="528.5" y1="101.4" x2="579.2" y2="101.4" stroke="#00b000" stroke-width="0.9"/><circle cx="557.3" cy="101.4" r="0.8" fill="#00d000" stroke="none" stroke-width="1"/><line x1="528.5" y1="134.2" x2="579.2" y2="134.2" stroke="#00b000" stroke-width="0.9"/><circle cx="557.3" cy="134.2" r="0.8" fill="#00d000" stroke="none" stroke-width="1"/><line x1="528.5" y1="182.3" x2="560.5" y2="182.3" stroke="#00b000" stroke-width="0.9"/><circle cx="557.3" cy="182.3" r="0.8" fill="#00d000" stroke="none" stroke-width="1"/><line x1="528.5" y1="190.2" x2="579" y2="190.2" stroke="#00b000" stroke-width="0.9"/><circle cx="557.3" cy="190.2" r="0.8" fill="#00d000" stroke="none" stroke-width="1"/><line x1="557.3" y1="70.3" x2="557.3" y2="190.2" stroke="#00b000" stroke-width="0.9"/><circle cx="524" cy="70.3" r="0.5" fill="#00b000" stroke="none" stroke-width="1"/><circle cx="582.7" cy="70.3" r="4" fill="none" stroke="#00b000" stroke-width="0.9"/><text transform="translate(585 70.3) rotate(-90) scale(0.85 1)" font-family="Liberation Sans, sans-serif" font-size="6.6" fill="#d8d8d8" text-anchor="middle">E</text><circle cx="582.7" cy="101.4" r="4" fill="none" stroke="#00b000" stroke-width="0.9"/><text transform="translate(585 101.4) rotate(-90) scale(0.85 1)" font-family="Liberation Sans, sans-serif" font-size="6.6" fill="#d8d8d8" text-anchor="middle">D</text><circle cx="582.7" cy="134.2" r="4" fill="none" stroke="#00b000" stroke-width="0.9"/><text transform="translate(585 134.2) rotate(-90) scale(0.85 1)" font-family="Liberation Sans, sans-serif" font-size="6.6" fill="#d8d8d8" text-anchor="middle">C</text><circle cx="576.5" cy="182.3" r="4" fill="none" stroke="#00b000" stroke-width="0.9"/><text transform="translate(578.8 182.3) rotate(-90) scale(0.85 1)" font-family="Liberation Sans, sans-serif" font-size="6.6" fill="#d8d8d8" text-anchor="middle">A</text><circle cx="582.7" cy="190.2" r="4" fill="none" stroke="#00b000" stroke-width="0.9"/><text transform="translate(585 190.2) rotate(-90) scale(0.85 1)" font-family="Liberation Sans, sans-serif" font-size="6.6" fill="#d8d8d8" text-anchor="middle">B</text><text transform="translate(556.4 86) rotate(-90) scale(0.62 1)" font-family="Liberation Sans, sans-serif" font-size="7" fill="#a8a8a8" text-anchor="middle">2300</text><text transform="translate(556.4 117.5) rotate(-90) scale(0.62 1)" font-family="Liberation Sans, sans-serif" font-size="7" fill="#a8a8a8" text-anchor="middle">2400</text><text transform="translate(556.4 158) rotate(-90) scale(0.62 1)" font-family="Liberation Sans, sans-serif" font-size="7" fill="#a8a8a8" text-anchor="middle">3800</text><text transform="translate(556.4 186.4) rotate(-90) scale(0.62 1)" font-family="Liberation Sans, sans-serif" font-size="7" fill="#a8a8a8" text-anchor="middle">600</text><line x1="1014" y1="60.4" x2="1100.9" y2="60.4" stroke="#009800" stroke-width="0.9"/><line x1="1014" y1="57" x2="1014" y2="66.7" stroke="#009800" stroke-width="0.9"/><line x1="1100.9" y1="57" x2="1100.9" y2="66.7" stroke="#009800" stroke-width="0.9"/><text transform="translate(1058 58.2) scale(0.7 1)" font-family="Liberation Serif, sans-serif" font-size="7.6" fill="#c8c800" text-anchor="middle" font-weight="bold">5000</text><rect x="1011.5" y="68.7" width="93.2" height="143.9" fill="none" stroke="#007c7c" stroke-width="0.9"/><rect x="1014.5" y="72.5" width="86.8" height="136.7" fill="none" stroke="#007c7c" stroke-width="0.9"/><line x1="1120" y1="70.7" x2="1120" y2="211.5" stroke="#009800" stroke-width="0.9"/><line x1="1106.3" y1="72.5" x2="1123.3" y2="72.5" stroke="#009800" stroke-width="0.9"/><line x1="1106.3" y1="209.2" x2="1123.3" y2="209.2" stroke="#009800" stroke-width="0.9"/><text transform="translate(1116.9 141) rotate(-90) scale(0.7 1)" font-family="Liberation Serif, sans-serif" font-size="7.6" fill="#c8c800" text-anchor="middle" font-weight="bold">8000</text><line x1="1045.7" y1="100" x2="1072.2" y2="100" stroke="#880000" stroke-width="1"/><line x1="1040.5" y1="105.6" x2="1040.5" y2="175.5" stroke="#880000" stroke-width="1"/><line x1="1076.6" y1="105.6" x2="1076.6" y2="175.5" stroke="#880000" stroke-width="1"/><line x1="1062.2" y1="140.5" x2="1089.3" y2="140.5" stroke="#880000" stroke-width="1"/><line x1="1019.7" y1="140" x2="1036" y2="179" stroke="#880000" stroke-width="1"/><rect x="1036" y="96" width="9.7" height="9.6" fill="none" stroke="#009800" stroke-width="0.8"/><line x1="1040.85" y1="97.73" x2="1040.85" y2="103.68" stroke="#a4a4a4" stroke-width="0.8"/><circle cx="1040.85" cy="103.68" r="0.7" fill="#00e000" stroke="none" stroke-width="1"/><rect x="1072.2" y="96" width="9.6" height="9.6" fill="none" stroke="#009800" stroke-width="0.8"/><line x1="1077" y1="97.73" x2="1077" y2="103.68" stroke="#a4a4a4" stroke-width="0.8"/><circle cx="1077" cy="103.68" r="0.7" fill="#00e000" stroke="none" stroke-width="1"/><rect x="1036" y="175.5" width="9.7" height="9.7" fill="none" stroke="#009800" stroke-width="0.8"/><line x1="1040.85" y1="177.25" x2="1040.85" y2="183.26" stroke="#a4a4a4" stroke-width="0.8"/><circle cx="1040.85" cy="183.26" r="0.7" fill="#00e000" stroke="none" stroke-width="1"/><rect x="1072.2" y="175.5" width="9.6" height="9.7" fill="none" stroke="#009800" stroke-width="0.8"/><line x1="1077" y1="177.25" x2="1077" y2="183.26" stroke="#a4a4a4" stroke-width="0.8"/><circle cx="1077" cy="183.26" r="0.7" fill="#00e000" stroke="none" stroke-width="1"/><rect x="1052.6" y="135.4" width="9.6" height="9.6" fill="none" stroke="#009800" stroke-width="0.8"/><polyline points="1059.13,137.32 1056.06,138.28 1058.94,141.35 1055.86,143.08" fill="none" stroke="#a4a4a4" stroke-width="0.8"/><clipPath id="c454"><rect x="1089.3" y="135" width="11.6" height="12"/></clipPath><rect x="1089.3" y="135" width="11.6" height="12" fill="#004000" stroke="none" stroke-width="1"/><path d="M1077.3 147L1089.3 135M1080.2 147L1092.2 135M1083.1 147L1095.1 135M1086 147L1098 135M1088.9 147L1100.9 135M1091.8 147L1103.8 135M1094.7 147L1106.7 135M1097.6 147L1109.6 135M1100.5 147L1112.5 135" stroke="#00c000" stroke-width="1.2" clip-path="url(#c454)" fill="none"/><rect x="1089.3" y="135" width="11.6" height="12" fill="none" stroke="#00a000" stroke-width="0.8"/><line x1="1095.7" y1="147" x2="1095.7" y2="173" stroke="#800080" stroke-width="1"/><path d="M1092.74 151.39h1.91v0.94h-1.91zM1092.86 154.36h1.85v1.55h-1.85zM1092.83 156.49h1.86v1.56h-1.86zM1092.7 158.45h2.26v1.54h-2.26zM1092.75 160.51h1.92v1.4h-1.92zM1093.04 162.26h1.82v1.4h-1.82zM1092.7 163.96h2.08v0.76h-2.08zM1092.86 167.11h2.04v0.78h-2.04zM1092.78 168.26h2.13v0.91h-2.13zM1093.13 169.67h1.77v1.46h-1.77zM1092.64 171.45h2.21v1.21h-2.21zM1092.65 172.96h2.32v0.54h-2.32z" fill="#fff" opacity="0.85"/><text transform="translate(1043.1 125) scale(0.86 1)" font-family="'Liberation Sans', 'Noto Sans CJK SC', sans-serif" font-size="9.6" fill="#8a8a8a" text-anchor="start">机房</text><rect x="1002.4" y="106" width="7.3" height="16" fill="none" stroke="#008400" stroke-width="0.9"/><path d="M1004.85 113.46h2.15v0.91h-2.15zM1004.7 114.61h2.29v1.13h-2.29zM1005.17 115.95h1.82v0.05h-1.82z" fill="#6a6" opacity="0.8"/><rect x="1003.6" y="123" width="6.1" height="5.6" fill="none" stroke="#008400" stroke-width="0.9"/><circle cx="1006.6" cy="125.8" r="1.2" fill="none" stroke="#008400" stroke-width="0.6"/><line x1="1002" y1="127.7" x2="1014.8" y2="127.7" stroke="#857500" stroke-width="1.1"/><line x1="1002" y1="152.6" x2="1014.8" y2="152.6" stroke="#857500" stroke-width="1.1"/><path d="M1003 128.2Q1004 138 1012.4 140.2Q1004 142.4 1003 152.2" fill="none" stroke="#857500" stroke-width="0.9"/><path d="M1005 128.2Q1006 136 1012.4 140.2M1005 152.2Q1006 144.5 1012.4 140.2" fill="none" stroke="#857500" stroke-width="0.6"/><circle cx="1006.5" cy="132.4" r="2.4" fill="none" stroke="#008400" stroke-width="0.8"/><polygon points="1005.6,131 1007.8,132.4 1005.6,133.8" fill="none" stroke="#008400" stroke-width="0.6"/><circle cx="1006.4" cy="140.4" r="3.7" fill="none" stroke="#008400" stroke-width="0.8"/><line x1="1003.81" y1="137.81" x2="1008.99" y2="142.99" stroke="#008400" stroke-width="0.7"/><line x1="1008.99" y1="137.81" x2="1003.81" y2="142.99" stroke="#008400" stroke-width="0.7"/><path d="M1003.6 152Q1006.6 143.5 1010 152M1004.8 152Q1006.8 147 1008.8 152" fill="none" stroke="#008400" stroke-width="0.7"/><polygon points="1013.6,137.2 1018.2,137.8 1019.4,140.2 1018.2,142.8 1013.6,143.6" fill="none" stroke="#008400" stroke-width="0.9"/><line x1="1015.6" y1="136.6" x2="1015.6" y2="144.2" stroke="#008400" stroke-width="0.8"/><circle cx="1012.6" cy="140.3" r="0.7" fill="#a06000" stroke="none" stroke-width="1"/><polygon points="1011,176.5 1014.5,187.8 1011,187.8 1014.5,176.5" fill="none" stroke="#009800" stroke-width="0.8"/><polyline points="1011.7,181 1004.4,186 1004.4,214" fill="none" stroke="#909000" stroke-width="0.9"/><path d="M1000.33 189h1.73v1.54h-1.73zM1000.46 192.48h1.38v1.24h-1.38zM1000.44 193.98h1.58v0.88h-1.58zM1000.33 195.14h1.63v0.71h-1.63zM1000.32 196.18h1.56v0.88h-1.56zM1000.32 197.3h1.61v1.06h-1.61zM1000.42 198.62h1.41v1.33h-1.41zM1000.44 200.53h1.45v0.98h-1.45zM1000.62 202.06h1.37v1.6h-1.37zM1000.33 205.01h1.74v1.44h-1.74zM1000.48 206.71h1.61v0.71h-1.61zM1000.34 207.66h1.53v1.26h-1.53zM1000.3 210.65h1.78v1.14h-1.78z" fill="#fff" opacity="0.85"/><path d="M1002.41 189h1.52v1.51h-1.52zM1002.46 191.03h1.53v0.9h-1.53zM1002.49 192.2h1.37v0.9h-1.37zM1002.4 193.35h1.55v0.92h-1.55zM1002.41 194.69h1.52v1.38h-1.52zM1002.54 196.52h1.27v1.2h-1.27zM1002.52 198.14h1.33v1.08h-1.33zM1002.68 199.44h1.23v1.26h-1.23zM1002.43 201.21h1.35v1.11h-1.35zM1002.54 202.57h1.33v1.09h-1.33zM1002.5 203.87h1.47v1.27h-1.47zM1002.68 205.55h1.3v0.75h-1.3zM1002.4 208.52h1.59v1.43h-1.59zM1002.49 210.53h1.5v1.52h-1.5zM1002.76 212.28h1.2v1.02h-1.2zM1002.62 213.61h1.36v0.39h-1.36z" fill="#fff" opacity="0.85"/><path d="M1005.61 189h1.51v0.94h-1.51zM1005.61 191.53h1.78v1.51h-1.78zM1005.64 193.44h1.83v1.27h-1.83zM1005.6 195.15h1.9v1.49h-1.9zM1005.6 197h1.89v1.42h-1.89zM1005.95 198.76h1.43v1.39h-1.43zM1005.8 200.37h1.69v1.44h-1.69zM1005.62 202.24h1.33v1.3h-1.33zM1005.85 203.8h1.62v1.25h-1.62zM1005.6 205.31h1.34v0.9h-1.34zM1005.86 206.55h1.46v0.8h-1.46zM1005.64 207.79h1.6v0.88h-1.6zM1005.93 209.24h1.38v0.92h-1.38zM1005.6 210.71h1.48v1.4h-1.48zM1005.69 212.57h1.7v1.21h-1.7z" fill="#fff" opacity="0.85"/><line x1="52.1" y1="304.4" x2="249.7" y2="304.4" stroke="#00c000" stroke-width="0.9"/><line x1="52.1" y1="300" x2="52.1" y2="320" stroke="#00c000" stroke-width="0.9"/><line x1="249.7" y1="300" x2="249.7" y2="320" stroke="#00c000" stroke-width="0.9"/><text transform="translate(151 301.8) scale(0.74 1)" font-family="Liberation Serif, sans-serif" font-size="7.8" fill="#e0e000" text-anchor="middle" font-weight="bold">11400</text><rect x="48.7" y="322" width="204" height="120.2" fill="none" stroke="#00a8a8" stroke-width="1.1"/><rect x="52.1" y="325.7" width="197.6" height="113.1" fill="none" stroke="#00a8a8" stroke-width="1.1"/><line x1="36.4" y1="323" x2="36.4" y2="441" stroke="#00c000" stroke-width="0.9"/><line x1="32.4" y1="325.5" x2="46.7" y2="325.5" stroke="#00c000" stroke-width="0.9"/><line x1="32.4" y1="439.2" x2="46.7" y2="439.2" stroke="#00c000" stroke-width="0.9"/><text transform="translate(34.2 382) rotate(-90) scale(0.74 1)" font-family="Liberation Serif, sans-serif" font-size="7.8" fill="#e0e000" text-anchor="middle" font-weight="bold">6600</text><text transform="translate(128.23 348.6) scale(0.92 1)" font-family="'Liberation Sans', 'Noto Sans CJK SC', sans-serif" font-size="12.4" fill="#f0f0f0" text-anchor="start">通迅机房</text><line x1="106.6" y1="353.6" x2="195.4" y2="353.6" stroke="#b80000" stroke-width="1.1"/><line x1="106.6" y1="383" x2="195.4" y2="383" stroke="#b80000" stroke-width="1.1"/><line x1="101.4" y1="358.6" x2="101.4" y2="406" stroke="#b80000" stroke-width="1.1"/><line x1="57.5" y1="410.7" x2="244.3" y2="410.7" stroke="#b80000" stroke-width="1.1"/><line x1="57.5" y1="410.7" x2="57.5" y2="427.7" stroke="#b80000" stroke-width="1.1"/><line x1="244.3" y1="410.7" x2="244.3" y2="427.7" stroke="#b80000" stroke-width="1.1"/><line x1="199.2" y1="415.7" x2="161" y2="433.2" stroke="#b80000" stroke-width="1"/><rect x="96.6" y="348.5" width="10" height="10.1" fill="#000" stroke="none" stroke-width="1"/><rect x="96.6" y="378" width="10" height="9.6" fill="#000" stroke="none" stroke-width="1"/><rect x="96.6" y="406" width="10" height="9.7" fill="#000" stroke="none" stroke-width="1"/><rect x="96.6" y="348.5" width="10" height="10.1" fill="none" stroke="#00c000" stroke-width="1" rx="1.3"/><line x1="101.6" y1="350.32" x2="101.6" y2="356.58" stroke="#d0d0d0" stroke-width="0.8"/><circle cx="101.6" cy="356.58" r="0.7" fill="#00e000" stroke="none" stroke-width="1"/><rect x="96.6" y="378" width="10" height="9.6" fill="none" stroke="#00c000" stroke-width="1" rx="1.3"/><polyline points="103.4,379.92 100.2,380.88 103.2,383.95 100,385.68" fill="none" stroke="#d0d0d0" stroke-width="0.8"/><rect x="96.6" y="406" width="10" height="9.7" fill="none" stroke="#00c000" stroke-width="1" rx="1.3"/><line x1="101.6" y1="407.75" x2="101.6" y2="413.76" stroke="#d0d0d0" stroke-width="0.8"/><circle cx="101.6" cy="413.76" r="0.7" fill="#00e000" stroke="none" stroke-width="1"/><rect x="195.4" y="348.5" width="9.8" height="10.1" fill="#000" stroke="none" stroke-width="1"/><rect x="195.4" y="378" width="9.8" height="9.6" fill="#000" stroke="none" stroke-width="1"/><rect x="195.4" y="406" width="9.8" height="9.7" fill="#000" stroke="none" stroke-width="1"/><rect x="195.4" y="348.5" width="9.8" height="10.1" fill="none" stroke="#00c000" stroke-width="1" rx="1.3"/><line x1="200.3" y1="350.32" x2="200.3" y2="356.58" stroke="#d0d0d0" stroke-width="0.8"/><circle cx="200.3" cy="356.58" r="0.7" fill="#00e000" stroke="none" stroke-width="1"/><rect x="195.4" y="378" width="9.8" height="9.6" fill="none" stroke="#00c000" stroke-width="1" rx="1.3"/><polyline points="202.06,379.92 198.93,380.88 201.87,383.95 198.73,385.68" fill="none" stroke="#d0d0d0" stroke-width="0.8"/><rect x="195.4" y="406" width="9.8" height="9.7" fill="none" stroke="#00c000" stroke-width="1" rx="1.3"/><line x1="200.3" y1="407.75" x2="200.3" y2="413.76" stroke="#d0d0d0" stroke-width="0.8"/><circle cx="200.3" cy="413.76" r="0.7" fill="#00e000" stroke="none" stroke-width="1"/><line x1="101.4" y1="358.6" x2="101.4" y2="378" stroke="#b80000" stroke-width="1.1"/><line x1="101.4" y1="387.6" x2="101.4" y2="406" stroke="#b80000" stroke-width="1.1"/><line x1="96.6" y1="410.7" x2="106.6" y2="410.7" stroke="#b80000" stroke-width="0.9" stroke-opacity="0.6"/><line x1="195.4" y1="410.7" x2="205.2" y2="410.7" stroke="#b80000" stroke-width="0.9" stroke-opacity="0.6"/><clipPath id="c535"><rect x="52.1" y="427.7" width="12.4" height="11.9"/></clipPath><rect x="52.1" y="427.7" width="12.4" height="11.9" fill="#00d000" stroke="none" stroke-width="1"/><path d="M40.2 439.6L52.1 427.7M42.9 439.6L54.8 427.7M45.6 439.6L57.5 427.7M48.3 439.6L60.2 427.7M51 439.6L62.9 427.7M53.7 439.6L65.6 427.7M56.4 439.6L68.3 427.7M59.1 439.6L71 427.7M61.8 439.6L73.7 427.7" stroke="#004800" stroke-width="1" clip-path="url(#c535)" fill="none"/><rect x="52.1" y="427.7" width="12.4" height="11.9" fill="none" stroke="#00d000" stroke-width="0.8"/><clipPath id="c539"><rect x="237.3" y="427.7" width="12.4" height="11.9"/></clipPath><rect x="237.3" y="427.7" width="12.4" height="11.9" fill="#00d000" stroke="none" stroke-width="1"/><path d="M225.4 439.6L237.3 427.7M228.1 439.6L240 427.7M230.8 439.6L242.7 427.7M233.5 439.6L245.4 427.7M236.2 439.6L248.1 427.7M238.9 439.6L250.8 427.7M241.6 439.6L253.5 427.7M244.3 439.6L256.2 427.7M247 439.6L258.9 427.7" stroke="#004800" stroke-width="1" clip-path="url(#c539)" fill="none"/><rect x="237.3" y="427.7" width="12.4" height="11.9" fill="none" stroke="#00d000" stroke-width="0.8"/><line x1="64.5" y1="433.4" x2="93.8" y2="433.4" stroke="#c000c0" stroke-width="1"/><path d="M66 429.2h1.36v3.2h-1.36zM67.77 429.93h1.07v2.37h-1.07zM70.5 429.51h0.88v2.81h-0.88zM71.9 429.23h0.86v2.61h-0.86zM73.31 430.03h1.4v2.32h-1.4zM75.22 429.32h1.12v2.76h-1.12zM76.58 429.69h0.91v2.64h-0.91zM77.96 429.6h1.46v2.57h-1.46zM79.8 429.67h1.41v2.57h-1.41zM82.9 429.44h0.93v3.05h-0.93zM87.02 429.21h1.32v3.28h-1.32zM90.58 429.35h1.35v2.61h-1.35z" fill="#fff" opacity="0.9"/><line x1="207.2" y1="433.4" x2="237.3" y2="433.4" stroke="#c000c0" stroke-width="1"/><path d="M210.83 429.22h0.72v3.23h-0.72zM211.81 429.39h0.73v3h-0.73zM213.01 429.35h1.36v2.89h-1.36zM218.63 429.23h0.8v2.42h-0.8zM219.96 429.31h1.43v3.13h-1.43zM221.71 429.25h0.79v3.06h-0.79zM222.83 429.41h1.08v2.56h-1.08zM224.39 429.22h1.03v3.26h-1.03zM225.96 429.45h1.26v2.72h-1.26zM227.73 429.3h1.01v2.84h-1.01zM229.29 429.2h0.78v2.48h-0.78zM231.94 429.24h1.14v3.1h-1.14zM233.48 429.89h1.01v2.57h-1.01zM234.8 429.25h0.5v2.8h-0.5z" fill="#fff" opacity="0.9"/><polygon points="158.8,432.6 163.4,432.6 165.7,437.22 156.5,437.22" fill="none" stroke="#00c000" stroke-width="0.9"/><rect x="157.42" y="437.22" width="7.36" height="1.98" fill="none" stroke="#00c000" stroke-width="0.8"/><line x1="161.1" y1="434.91" x2="161.1" y2="439.2" stroke="#00c000" stroke-width="0.7"/><line x1="148.4" y1="439.5" x2="148.4" y2="453.5" stroke="#d0d000" stroke-width="0.9"/><line x1="173.1" y1="439.5" x2="173.1" y2="453.5" stroke="#d0d000" stroke-width="0.9"/><line x1="147" y1="441" x2="174" y2="441" stroke="#d0d000" stroke-width="0.8"/><polyline points="148.4,453 155,447 160.5,451.5 166,447 173.1,453" fill="none" stroke="#d0d000" stroke-width="0.9"/><circle cx="160.5" cy="446.3" r="4.3" fill="none" stroke="#00c000" stroke-width="0.9"/><line x1="157.49" y1="443.29" x2="163.51" y2="449.31" stroke="#00c000" stroke-width="0.7"/><line x1="163.51" y1="443.29" x2="157.49" y2="449.31" stroke="#00c000" stroke-width="0.7"/><rect x="149.5" y="442.6" width="4.5" height="7.6" fill="none" stroke="#00c000" stroke-width="0.8"/><path d="M150.3 444.34h0.77v4.36h-0.77zM151.52 444.78h1.02v3.93h-1.02zM152.78 444.3h0.52v3.66h-0.52z" fill="#0c0" opacity="0.9"/><circle cx="168.5" cy="446.3" r="1.6" fill="none" stroke="#00c000" stroke-width="0.8"/><rect x="165.5" y="442.6" width="6.5" height="7.6" fill="none" stroke="#00c000" stroke-width="0.8"/><rect x="174" y="442.6" width="5" height="7.6" fill="none" stroke="#00c000" stroke-width="0.9"/><circle cx="176.4" cy="446.4" r="1.3" fill="none" stroke="#00c000" stroke-width="0.7"/><rect x="179" y="442.6" width="15.6" height="7.6" fill="none" stroke="#00c000" stroke-width="0.9"/><line x1="186.5" y1="445" x2="186.5" y2="448" stroke="#e0e0e0" stroke-width="0.9"/><rect x="202.2" y="439.2" width="11" height="3" fill="none" stroke="#00c000" stroke-width="0.9"/><line x1="205" y1="439.2" x2="210" y2="442.2" stroke="#00c000" stroke-width="0.6"/><polyline points="207.2,442.2 211.2,449.2 241.3,449.2" fill="none" stroke="#d0d000" stroke-width="0.9"/><path d="M215 446.42h1.15v2.32h-1.15zM216.54 446.51h1.18v2.22h-1.18zM218.05 446.47h0.99v2.29h-0.99zM219.54 446.49h0.85v2.24h-0.85zM222.06 446.58h0.87v2.19h-0.87zM223.19 446.65h0.84v1.92h-0.84zM224.3 446.41h1v2.38h-1zM225.53 446.84h1.57v1.96h-1.57zM227.62 446.77h1.36v1.82h-1.36zM229.22 446.68h0.89v1.7h-0.89zM230.62 446.52h1.32v2.14h-1.32zM232.2 446.57h1.24v2.21h-1.24zM233.82 446.5h1.22v1.98h-1.22zM235.52 446.58h1.49v2.18h-1.49zM237.49 446.71h1.28v1.91h-1.28zM239 446.53h1v2.19h-1z" fill="#fff" opacity="0.9"/><path d="M215 450.76h1.08v3.01h-1.08zM216.55 450.87h1.54v3.05h-1.54zM219.8 450.81h1.19v3.18h-1.19zM221.4 450.94h0.79v2.93h-0.79zM222.59 450.8h1.28v2.91h-1.28zM224.45 451.07h0.89v2.78h-0.89zM225.59 450.86h1.59v2.44h-1.59zM227.53 451.01h0.71v2.81h-0.71zM228.58 450.85h0.94v3.14h-0.94zM229.93 450.73h0.9v2.78h-0.9zM231.08 450.78h1.4v3.03h-1.4zM234.15 450.69h1.27v3.21h-1.27zM235.74 450.66h1.19v3.23h-1.19zM237.48 450.92h0.94v2.64h-0.94zM238.69 450.78h0.7v2.67h-0.7zM239.72 450.84h0.28v3.03h-0.28z" fill="#fff" opacity="0.9"/><circle cx="341.4" cy="293.6" r="6.2" fill="none" stroke="#00b000" stroke-width="1"/><text transform="translate(341.6 297) scale(0.3 1)" font-family="Liberation Sans, sans-serif" font-size="9.6" fill="#c8c8c8" text-anchor="middle">1/B0</text><circle cx="341.4" cy="309" r="6.2" fill="none" stroke="#00b000" stroke-width="1"/><text transform="translate(341.6 312.4) scale(0.36 1)" font-family="Liberation Sans, sans-serif" font-size="9.6" fill="#c8c8c8" text-anchor="middle">B-F</text><circle cx="341.4" cy="341.2" r="6.2" fill="none" stroke="#00b000" stroke-width="1"/><text transform="translate(341.6 344.6) scale(0.36 1)" font-family="Liberation Sans, sans-serif" font-size="9.6" fill="#c8c8c8" text-anchor="middle">B-E</text><circle cx="341.4" cy="366.8" r="6.2" fill="none" stroke="#00b000" stroke-width="1"/><text transform="translate(341.6 370.2) scale(0.36 1)" font-family="Liberation Sans, sans-serif" font-size="9.6" fill="#c8c8c8" text-anchor="middle">B-D</text><circle cx="341.4" cy="383.7" r="6.2" fill="none" stroke="#00b000" stroke-width="1"/><text transform="translate(341.6 387.1) scale(0.36 1)" font-family="Liberation Sans, sans-serif" font-size="9.6" fill="#c8c8c8" text-anchor="middle">B-C</text><circle cx="341.4" cy="402.1" r="6.2" fill="none" stroke="#00b000" stroke-width="1"/><text transform="translate(341.6 405.5) scale(0.36 1)" font-family="Liberation Sans, sans-serif" font-size="9.6" fill="#c8c8c8" text-anchor="middle">B-B</text><line x1="366.3" y1="299" x2="366.3" y2="402.1" stroke="#00b000" stroke-width="1"/><line x1="345" y1="300" x2="384" y2="300" stroke="#00b000" stroke-width="1"/><circle cx="366.3" cy="300" r="0.9" fill="#00e000" stroke="none" stroke-width="1"/><line x1="346" y1="303" x2="384" y2="303" stroke="#00b000" stroke-width="1"/><circle cx="366.3" cy="303" r="0.9" fill="#00e000" stroke="none" stroke-width="1"/><line x1="346" y1="341.2" x2="384" y2="341.2" stroke="#00b000" stroke-width="1"/><circle cx="366.3" cy="341.2" r="0.9" fill="#00e000" stroke="none" stroke-width="1"/><line x1="346" y1="366.8" x2="384" y2="366.8" stroke="#00b000" stroke-width="1"/><circle cx="366.3" cy="366.8" r="0.9" fill="#00e000" stroke="none" stroke-width="1"/><line x1="346" y1="383.7" x2="384" y2="383.7" stroke="#00b000" stroke-width="1"/><circle cx="366.3" cy="383.7" r="0.9" fill="#00e000" stroke="none" stroke-width="1"/><line x1="346" y1="402.1" x2="384" y2="402.1" stroke="#00b000" stroke-width="1"/><circle cx="366.3" cy="402.1" r="0.9" fill="#00e000" stroke="none" stroke-width="1"/><line x1="390.3" y1="300" x2="390.8" y2="300" stroke="#00b000" stroke-width="0.8"/><text transform="translate(359.2 301.3) rotate(-90) scale(0.7 1)" font-family="Liberation Sans, sans-serif" font-size="10" fill="#a8a8a8" text-anchor="middle">300</text><text transform="translate(365 322) rotate(-90) scale(0.7 1)" font-family="Liberation Sans, sans-serif" font-size="10" fill="#a8a8a8" text-anchor="middle">4600</text><text transform="translate(365 354) rotate(-90) scale(0.7 1)" font-family="Liberation Sans, sans-serif" font-size="10" fill="#a8a8a8" text-anchor="middle">3100</text><text transform="translate(365 375.6) rotate(-90) scale(0.7 1)" font-family="Liberation Sans, sans-serif" font-size="10" fill="#a8a8a8" text-anchor="middle">2000</text><text transform="translate(365 393.2) rotate(-90) scale(0.7 1)" font-family="Liberation Sans, sans-serif" font-size="10" fill="#a8a8a8" text-anchor="middle">2200</text><line x1="391.2" y1="301.8" x2="465" y2="301.8" stroke="#a8a8a8" stroke-width="0.9"/><line x1="394.6" y1="303.7" x2="465" y2="303.7" stroke="#a8a8a8" stroke-width="0.9"/><line x1="465" y1="302.7" x2="551.3" y2="302.7" stroke="#a8a8a8" stroke-width="1"/><line x1="392.2" y1="301.7" x2="392.2" y2="367.8" stroke="#a8a8a8" stroke-width="0.9"/><line x1="394.6" y1="303.7" x2="394.6" y2="335" stroke="#a8a8a8" stroke-width="0.9"/><rect x="391.6" y="300.8" width="3.2" height="8.2" fill="#707070" stroke="none" stroke-width="1"/><rect x="392.2" y="335" width="2.8" height="32.8" fill="#b0b0b0" stroke="none" stroke-width="1"/><line x1="392.2" y1="366.6" x2="421.3" y2="366.6" stroke="#a8a8a8" stroke-width="0.9"/><line x1="392.2" y1="368.2" x2="421.3" y2="368.2" stroke="#a8a8a8" stroke-width="0.9"/><rect x="421.7" y="301.7" width="7.2" height="7.3" fill="#8c8c8c" stroke="none" stroke-width="1"/><rect x="421.7" y="361.2" width="7.2" height="7" fill="#8c8c8c" stroke="none" stroke-width="1"/><rect x="465.2" y="301.7" width="7" height="7.3" fill="#8c8c8c" stroke="none" stroke-width="1"/><rect x="465.2" y="361.2" width="7" height="7" fill="#8c8c8c" stroke="none" stroke-width="1"/><rect x="473" y="297" width="4.5" height="4" fill="#8c8c8c" stroke="none" stroke-width="1"/><rect x="439.3" y="400" width="7" height="7" fill="#8c8c8c" stroke="none" stroke-width="1"/><rect x="515" y="302.5" width="7" height="3.5" fill="#8c8c8c" stroke="none" stroke-width="1"/><rect x="473" y="400.5" width="5" height="4" fill="#8c8c8c" stroke="none" stroke-width="1"/><rect x="469.2" y="303" width="2.1" height="16.4" fill="#c0c0c0" stroke="none" stroke-width="1"/><rect x="473.6" y="303" width="2.1" height="16.4" fill="#c0c0c0" stroke="none" stroke-width="1"/><line x1="475" y1="303.9" x2="481.5" y2="303.9" stroke="#c8c8c8" stroke-width="1.9"/><rect x="469.2" y="350" width="2.1" height="18.2" fill="#c0c0c0" stroke="none" stroke-width="1"/><rect x="473.6" y="350" width="2.1" height="18.2" fill="#c0c0c0" stroke="none" stroke-width="1"/><line x1="475" y1="366.9" x2="481.5" y2="366.9" stroke="#c8c8c8" stroke-width="2.1"/><line x1="512" y1="366.9" x2="521" y2="366.9" stroke="#c8c8c8" stroke-width="2.1"/><line x1="520.4" y1="303.7" x2="520.4" y2="400" stroke="#b4b4b4" stroke-width="2"/><line x1="520" y1="307" x2="525" y2="307" stroke="#c0c0c0" stroke-width="1.5"/><text transform="translate(527.62 309.8) scale(0.8 1)" font-family="'Liberation Sans', 'Noto Sans CJK SC', sans-serif" font-size="6.6" fill="#9a9a9a" text-anchor="start">风机房</text><polyline points="498.5,303 498.5,296.6 504.5,302 510.5,296.6 510.5,303" fill="none" stroke="#d0d000" stroke-width="1.3"/><line x1="425.3" y1="319.5" x2="425.3" y2="350" stroke="#a800a8" stroke-width="1"/><line x1="425.3" y1="335" x2="488.5" y2="335" stroke="#a800a8" stroke-width="1"/><line x1="488.5" y1="319.5" x2="488.5" y2="350" stroke="#a800a8" stroke-width="1"/><line x1="456.4" y1="335" x2="456.4" y2="369.2" stroke="#a800a8" stroke-width="1"/><polyline points="472.5,383.7 472.5,369.2 430.7,369.2 430.7,398 483,398 483,401" fill="none" stroke="#a800a8" stroke-width="1"/><line x1="449.4" y1="383.7" x2="496" y2="383.7" stroke="#a800a8" stroke-width="1"/><circle cx="425.3" cy="318.7" r="1.4" fill="#000" stroke="#c8c8c8" stroke-width="0.7"/><circle cx="425.3" cy="350.8" r="1.4" fill="#000" stroke="#c8c8c8" stroke-width="0.7"/><circle cx="488.5" cy="318.7" r="1.4" fill="#000" stroke="#c8c8c8" stroke-width="0.7"/><circle cx="488.5" cy="350.8" r="1.4" fill="#000" stroke="#c8c8c8" stroke-width="0.7"/><circle cx="449.4" cy="383.4" r="1.4" fill="#000" stroke="#c8c8c8" stroke-width="0.7"/><circle cx="496.3" cy="383.4" r="1.4" fill="#000" stroke="#c8c8c8" stroke-width="0.7"/><rect x="422.9" y="332.5" width="2.4" height="5.2" fill="#00e000" stroke="none" stroke-width="1"/><rect x="488" y="332.5" width="3" height="5.2" fill="#00e000" stroke="none" stroke-width="1"/><rect x="454.3" y="332.6" width="5.5" height="2" fill="#00e000" stroke="none" stroke-width="1"/><rect x="457.3" y="350" width="2.4" height="5.8" fill="#00e000" stroke="none" stroke-width="1"/><rect x="439.3" y="369" width="5.7" height="2.4" fill="#00e000" stroke="none" stroke-width="1"/><rect x="461.4" y="369" width="5.6" height="2.4" fill="#00e000" stroke="none" stroke-width="1"/><rect x="470" y="382.8" width="6" height="2.8" fill="#00e000" stroke="none" stroke-width="1"/><rect x="424.3" y="391" width="1.4" height="5" fill="#00e000" stroke="none" stroke-width="1"/><line x1="424.7" y1="368" x2="424.7" y2="401" stroke="#a0a0a0" stroke-width="1.2"/><line x1="424.7" y1="401" x2="440" y2="401" stroke="#b8b8b8" stroke-width="1.8"/><line x1="446" y1="401" x2="483" y2="401" stroke="#b8b8b8" stroke-width="1.6"/><line x1="502" y1="401" x2="531" y2="401" stroke="#b8b8b8" stroke-width="1.8"/><rect x="502" y="401" width="2.5" height="6.7" fill="#b0b0b0" stroke="none" stroke-width="1"/><rect x="482" y="401" width="20" height="4.8" fill="#e00000" stroke="none" stroke-width="1"/><line x1="484" y1="401" x2="484" y2="405.8" stroke="#700000" stroke-width="0.5"/><line x1="486" y1="401" x2="486" y2="405.8" stroke="#700000" stroke-width="0.5"/><line x1="488" y1="401" x2="488" y2="405.8" stroke="#700000" stroke-width="0.5"/><line x1="490" y1="401" x2="490" y2="405.8" stroke="#700000" stroke-width="0.5"/><line x1="492" y1="401" x2="492" y2="405.8" stroke="#700000" stroke-width="0.5"/><line x1="494" y1="401" x2="494" y2="405.8" stroke="#700000" stroke-width="0.5"/><line x1="496" y1="401" x2="496" y2="405.8" stroke="#700000" stroke-width="0.5"/><line x1="498" y1="401" x2="498" y2="405.8" stroke="#700000" stroke-width="0.5"/><line x1="500" y1="401" x2="500" y2="405.8" stroke="#700000" stroke-width="0.5"/><line x1="482" y1="403.4" x2="502" y2="403.4" stroke="#700000" stroke-width="0.5"/><line x1="423" y1="394" x2="423" y2="411" stroke="#c0c000" stroke-width="0.9"/><path d="M423.3 398C421 396 424 392 425 395" fill="none" stroke="#c0c000" stroke-width="0.8"/><path d="M419.44 398h2.58v1.54h-2.58zM418.72 400.1h3.42v1.41h-3.42zM418.82 402.88h2.67v0.93h-2.67zM418.68 404.32h3.5v1.01h-3.5zM418.76 405.6h3.36v1.5h-3.36zM419.2 407.66h2.73v1.41h-2.73zM418.67 409.48h3.47v0.52h-3.47z" fill="#fff" opacity="0.95"/><polyline points="447.2,400.5 449,407 452.6,402 456,407.3 458.2,400.5" fill="none" stroke="#c0c000" stroke-width="1"/><polyline points="440.3,407 440.3,415 469.4,415 469.4,401" fill="none" stroke="#a8a8a8" stroke-width="0.9"/><line x1="459.7" y1="401.5" x2="459.7" y2="415" stroke="#a8a8a8" stroke-width="0.8"/><line x1="461.9" y1="401.5" x2="461.9" y2="415" stroke="#a8a8a8" stroke-width="0.8"/><line x1="464.1" y1="401.5" x2="464.1" y2="415" stroke="#a8a8a8" stroke-width="0.8"/><line x1="466.3" y1="401.5" x2="466.3" y2="415" stroke="#a8a8a8" stroke-width="0.8"/><line x1="468.4" y1="401.5" x2="468.4" y2="415" stroke="#a8a8a8" stroke-width="0.8"/><line x1="459.7" y1="407" x2="469.4" y2="407" stroke="#a8a8a8" stroke-width="0.6"/><rect x="517" y="386" width="3.8" height="13.8" fill="none" stroke="#c0c0c0" stroke-width="0.8"/><polyline points="520.8,386.3 526.8,386.3 523,393 527,399.5 520.8,399.5" fill="none" stroke="#c0c000" stroke-width="1"/><polyline points="516,401 516,423.8 529,423.8 529,401" fill="none" stroke="#a8a8a8" stroke-width="0.9"/><line x1="516" y1="415" x2="529" y2="415" stroke="#a8a8a8" stroke-width="0.8"/><line x1="518.2" y1="401.5" x2="518.2" y2="415" stroke="#a8a8a8" stroke-width="0.8"/><line x1="520.4" y1="401.5" x2="520.4" y2="415" stroke="#a8a8a8" stroke-width="0.8"/><line x1="522.6" y1="401.5" x2="522.6" y2="415" stroke="#a8a8a8" stroke-width="0.8"/><line x1="524.8" y1="401.5" x2="524.8" y2="415" stroke="#a8a8a8" stroke-width="0.8"/><line x1="527" y1="401.5" x2="527" y2="415" stroke="#a8a8a8" stroke-width="0.8"/><line x1="434.5" y1="431.6" x2="575" y2="431.6" stroke="#00b000" stroke-width="1.1"/><line x1="434.5" y1="413" x2="434.5" y2="446" stroke="#00b000" stroke-width="1"/><line x1="459.4" y1="416" x2="459.4" y2="446" stroke="#00b000" stroke-width="1"/><line x1="504.5" y1="416" x2="504.5" y2="446" stroke="#00b000" stroke-width="1"/><line x1="575" y1="413" x2="575" y2="437" stroke="#00b000" stroke-width="1"/><circle cx="434.5" cy="431.6" r="0.9" fill="#00e000" stroke="none" stroke-width="1"/><circle cx="459.4" cy="431.6" r="0.9" fill="#00e000" stroke="none" stroke-width="1"/><circle cx="504.5" cy="431.6" r="0.9" fill="#00e000" stroke="none" stroke-width="1"/><circle cx="575" cy="431.6" r="0.9" fill="#00e000" stroke="none" stroke-width="1"/><circle cx="434.5" cy="411" r="0.4" fill="#00b000" stroke="none" stroke-width="1"/><circle cx="504.5" cy="411" r="0.4" fill="#00b000" stroke="none" stroke-width="1"/><circle cx="575" cy="410" r="0.4" fill="#00b000" stroke="none" stroke-width="1"/><text transform="translate(447 430.6) scale(0.7 1)" font-family="Liberation Sans, sans-serif" font-size="10.4" fill="#a8a8a8" text-anchor="middle">3000</text><text transform="translate(482 430.6) scale(0.7 1)" font-family="Liberation Sans, sans-serif" font-size="10.4" fill="#a8a8a8" text-anchor="middle">5400</text><text transform="translate(539.5 430.6) scale(0.7 1)" font-family="Liberation Sans, sans-serif" font-size="10.4" fill="#a8a8a8" text-anchor="middle">8400</text><circle cx="434.7" cy="451.2" r="6" fill="none" stroke="#00b000" stroke-width="1"/><text transform="translate(434.9 454.6) scale(0.36 1)" font-family="Liberation Sans, sans-serif" font-size="9.6" fill="#c8c8c8" text-anchor="middle">B-4</text><circle cx="459.7" cy="451.2" r="6" fill="none" stroke="#00b000" stroke-width="1"/><text transform="translate(459.9 454.6) scale(0.36 1)" font-family="Liberation Sans, sans-serif" font-size="9.6" fill="#c8c8c8" text-anchor="middle">B-5</text><circle cx="504.5" cy="451.2" r="6" fill="none" stroke="#00b000" stroke-width="1"/><text transform="translate(504.7 454.6) scale(0.36 1)" font-family="Liberation Sans, sans-serif" font-size="9.6" fill="#c8c8c8" text-anchor="middle">B-6</text><line x1="663.6" y1="291.6" x2="849.2" y2="291.6" stroke="#e4e4e4" stroke-width="1.9"/><rect x="712.3" y="286.6" width="4.5" height="4.6" fill="#d0d0d0" stroke="#a8a800" stroke-width="0.9"/><rect x="756.4" y="286.6" width="4.5" height="4.6" fill="#606060" stroke="#a8a800" stroke-width="0.9"/><rect x="800.5" y="286.6" width="4.5" height="4.6" fill="#606060" stroke="#a8a800" stroke-width="0.9"/><rect x="845.2" y="286.6" width="4.5" height="4.6" fill="#606060" stroke="#a8a800" stroke-width="0.9"/><line x1="661.1" y1="290" x2="661.1" y2="446.2" stroke="#00a0a0" stroke-width="1"/><line x1="663.6" y1="292" x2="663.6" y2="444.2" stroke="#00a0a0" stroke-width="1"/><polyline points="661.1,446.2 665.2,446.2" fill="none" stroke="#00a0a0" stroke-width="1"/><line x1="663.6" y1="444.2" x2="665.2" y2="444.2" stroke="#00a0a0" stroke-width="1"/><line x1="681.8" y1="444.2" x2="827.2" y2="444.2" stroke="#00a0a0" stroke-width="1"/><line x1="681.8" y1="446.2" x2="827.2" y2="446.2" stroke="#00a0a0" stroke-width="1"/><line x1="681.8" y1="444.2" x2="681.8" y2="446.2" stroke="#00a0a0" stroke-width="1"/><line x1="846.2" y1="291" x2="846.2" y2="386" stroke="#00a0a0" stroke-width="1"/><line x1="848.6" y1="291" x2="848.6" y2="386" stroke="#00a0a0" stroke-width="1"/><line x1="846.2" y1="403" x2="846.2" y2="444.5" stroke="#00a0a0" stroke-width="1"/><line x1="848.6" y1="403" x2="848.6" y2="444.5" stroke="#00a0a0" stroke-width="1"/><line x1="844.2" y1="444.8" x2="850.2" y2="444.8" stroke="#00a0a0" stroke-width="1.2"/><rect x="656.7" y="292" width="6.9" height="7" fill="#8c8c8c" stroke="none" stroke-width="1"/><rect x="711.3" y="291.6" width="6.6" height="6.8" fill="#f0f0f0" stroke="none" stroke-width="1"/><rect x="799" y="292" width="7.5" height="7" fill="#8c8c8c" stroke="none" stroke-width="1"/><rect x="654.1" y="375.4" width="9.5" height="8.6" fill="#8c8c8c" stroke="none" stroke-width="1"/><rect x="709.9" y="375" width="9" height="9" fill="#8c8c8c" stroke="none" stroke-width="1"/><rect x="798" y="375" width="9.5" height="9" fill="#8c8c8c" stroke="none" stroke-width="1"/><line x1="686.4" y1="317.5" x2="823.2" y2="317.5" stroke="#a00000" stroke-width="1"/><line x1="672.2" y1="330.1" x2="837.2" y2="330.1" stroke="#a00000" stroke-width="1"/><line x1="823.2" y1="317.5" x2="823.2" y2="330.1" stroke="#a00000" stroke-width="1"/><line x1="754.6" y1="300" x2="754.6" y2="317.5" stroke="#a00000" stroke-width="1"/><line x1="686.4" y1="330.1" x2="686.4" y2="368.2" stroke="#a00000" stroke-width="1"/><line x1="686.4" y1="368.2" x2="823.2" y2="368.2" stroke="#a00000" stroke-width="1"/><line x1="823.2" y1="368.2" x2="823.2" y2="406.5" stroke="#a00000" stroke-width="1"/><line x1="672.2" y1="406.5" x2="837.2" y2="406.5" stroke="#a00000" stroke-width="1"/><line x1="686.4" y1="406.5" x2="686.4" y2="418.7" stroke="#a00000" stroke-width="1"/><line x1="686.4" y1="418.7" x2="823.2" y2="418.7" stroke="#a00000" stroke-width="1"/><line x1="708.9" y1="418.7" x2="708.9" y2="436.2" stroke="#a00000" stroke-width="1"/><line x1="800.5" y1="418.7" x2="800.5" y2="436.2" stroke="#a00000" stroke-width="1"/><line x1="685.8" y1="422.1" x2="674.2" y2="442.2" stroke="#a00000" stroke-width="1"/><line x1="825.2" y1="370" x2="846.6" y2="393" stroke="#a00000" stroke-width="1"/><line x1="825.2" y1="421.5" x2="835.2" y2="438.2" stroke="#a00000" stroke-width="1"/><rect x="683.7" y="314.8" width="5.4" height="5.4" fill="none" stroke="#00b000" stroke-width="0.9" rx="0.8"/><line x1="686.4" y1="315.77" x2="686.4" y2="319.12" stroke="#60d060" stroke-width="0.8"/><circle cx="686.4" cy="319.12" r="0.7" fill="#00e000" stroke="none" stroke-width="1"/><rect x="729.3" y="314.8" width="5.4" height="5.4" fill="none" stroke="#00b000" stroke-width="0.9" rx="0.8"/><line x1="732" y1="315.77" x2="732" y2="319.12" stroke="#60d060" stroke-width="0.8"/><circle cx="732" cy="319.12" r="0.7" fill="#00e000" stroke="none" stroke-width="1"/><rect x="775" y="314.8" width="5.4" height="5.4" fill="none" stroke="#00b000" stroke-width="0.9" rx="0.8"/><line x1="777.7" y1="315.77" x2="777.7" y2="319.12" stroke="#60d060" stroke-width="0.8"/><circle cx="777.7" cy="319.12" r="0.7" fill="#00e000" stroke="none" stroke-width="1"/><rect x="820.5" y="314.8" width="5.4" height="5.4" fill="none" stroke="#00b000" stroke-width="0.9" rx="0.8"/><line x1="823.2" y1="315.77" x2="823.2" y2="319.12" stroke="#60d060" stroke-width="0.8"/><circle cx="823.2" cy="319.12" r="0.7" fill="#00e000" stroke="none" stroke-width="1"/><rect x="683.7" y="365.5" width="5.4" height="5.4" fill="none" stroke="#00b000" stroke-width="0.9" rx="0.8"/><line x1="686.4" y1="366.47" x2="686.4" y2="369.82" stroke="#60d060" stroke-width="0.8"/><circle cx="686.4" cy="369.82" r="0.7" fill="#00e000" stroke="none" stroke-width="1"/><rect x="729.3" y="365.5" width="5.4" height="5.4" fill="none" stroke="#00b000" stroke-width="0.9" rx="0.8"/><line x1="732" y1="366.47" x2="732" y2="369.82" stroke="#60d060" stroke-width="0.8"/><circle cx="732" cy="369.82" r="0.7" fill="#00e000" stroke="none" stroke-width="1"/><rect x="775" y="365.5" width="5.4" height="5.4" fill="none" stroke="#00b000" stroke-width="0.9" rx="0.8"/><line x1="777.7" y1="366.47" x2="777.7" y2="369.82" stroke="#60d060" stroke-width="0.8"/><circle cx="777.7" cy="369.82" r="0.7" fill="#00e000" stroke="none" stroke-width="1"/><rect x="820.5" y="365.5" width="5.4" height="5.4" fill="none" stroke="#00b000" stroke-width="0.9" rx="0.8"/><line x1="823.2" y1="366.47" x2="823.2" y2="369.82" stroke="#60d060" stroke-width="0.8"/><circle cx="823.2" cy="369.82" r="0.7" fill="#00e000" stroke="none" stroke-width="1"/><rect x="683.7" y="416" width="5.4" height="5.4" fill="none" stroke="#00b000" stroke-width="0.9" rx="0.8"/><line x1="686.4" y1="416.97" x2="686.4" y2="420.32" stroke="#60d060" stroke-width="0.8"/><circle cx="686.4" cy="420.32" r="0.7" fill="#00e000" stroke="none" stroke-width="1"/><rect x="729.3" y="416" width="5.4" height="5.4" fill="none" stroke="#00b000" stroke-width="0.9" rx="0.8"/><line x1="732" y1="416.97" x2="732" y2="420.32" stroke="#60d060" stroke-width="0.8"/><circle cx="732" cy="420.32" r="0.7" fill="#00e000" stroke="none" stroke-width="1"/><rect x="775" y="416" width="5.4" height="5.4" fill="none" stroke="#00b000" stroke-width="0.9" rx="0.8"/><line x1="777.7" y1="416.97" x2="777.7" y2="420.32" stroke="#60d060" stroke-width="0.8"/><circle cx="777.7" cy="420.32" r="0.7" fill="#00e000" stroke="none" stroke-width="1"/><rect x="820.5" y="416" width="5.4" height="5.4" fill="none" stroke="#00b000" stroke-width="0.9" rx="0.8"/><line x1="823.2" y1="416.97" x2="823.2" y2="420.32" stroke="#60d060" stroke-width="0.8"/><circle cx="823.2" cy="420.32" r="0.7" fill="#00e000" stroke="none" stroke-width="1"/><rect x="706.4" y="327.7" width="5.8" height="4.8" fill="none" stroke="#00b000" stroke-width="0.9" rx="0.8"/><polyline points="710.34,328.66 708.49,329.14 710.23,330.68 708.37,331.54" fill="none" stroke="#60d060" stroke-width="0.8"/><rect x="797.6" y="327.7" width="5.8" height="4.8" fill="none" stroke="#00b000" stroke-width="0.9" rx="0.8"/><polyline points="801.54,328.66 799.69,329.14 801.43,330.68 799.57,331.54" fill="none" stroke="#60d060" stroke-width="0.8"/><rect x="706.4" y="404.1" width="5.8" height="4.8" fill="none" stroke="#00b000" stroke-width="0.9" rx="0.8"/><polyline points="710.34,405.06 708.49,405.54 710.23,407.08 708.37,407.94" fill="none" stroke="#60d060" stroke-width="0.8"/><rect x="797.6" y="404.1" width="5.8" height="4.8" fill="none" stroke="#00b000" stroke-width="0.9" rx="0.8"/><polyline points="801.54,405.06 799.69,405.54 801.43,407.08 799.57,407.94" fill="none" stroke="#60d060" stroke-width="0.8"/><clipPath id="c792"><rect x="663.6" y="325.7" width="8.6" height="8.8"/></clipPath><rect x="663.6" y="325.7" width="8.6" height="8.8" fill="#00c400" stroke="none" stroke-width="1"/><path d="M654.8 334.5L663.6 325.7M657.4 334.5L666.2 325.7M660 334.5L668.8 325.7M662.6 334.5L671.4 325.7M665.2 334.5L674 325.7M667.8 334.5L676.6 325.7M670.4 334.5L679.2 325.7" stroke="#004400" stroke-width="1" clip-path="url(#c792)" fill="none"/><rect x="663.6" y="325.7" width="8.6" height="8.8" fill="none" stroke="#00c000" stroke-width="0.8"/><clipPath id="c796"><rect x="837.2" y="325.7" width="9" height="8.8"/></clipPath><rect x="837.2" y="325.7" width="9" height="8.8" fill="#00c400" stroke="none" stroke-width="1"/><path d="M828.4 334.5L837.2 325.7M831 334.5L839.8 325.7M833.6 334.5L842.4 325.7M836.2 334.5L845 325.7M838.8 334.5L847.6 325.7M841.4 334.5L850.2 325.7M844 334.5L852.8 325.7" stroke="#004400" stroke-width="1" clip-path="url(#c796)" fill="none"/><rect x="837.2" y="325.7" width="9" height="8.8" fill="none" stroke="#00c000" stroke-width="0.8"/><clipPath id="c800"><rect x="663.6" y="402.1" width="8.6" height="8.6"/></clipPath><rect x="663.6" y="402.1" width="8.6" height="8.6" fill="#00c400" stroke="none" stroke-width="1"/><path d="M655 410.7L663.6 402.1M657.6 410.7L666.2 402.1M660.2 410.7L668.8 402.1M662.8 410.7L671.4 402.1M665.4 410.7L674 402.1M668 410.7L676.6 402.1M670.6 410.7L679.2 402.1" stroke="#004400" stroke-width="1" clip-path="url(#c800)" fill="none"/><rect x="663.6" y="402.1" width="8.6" height="8.6" fill="none" stroke="#00c000" stroke-width="0.8"/><clipPath id="c804"><rect x="837.2" y="402.1" width="9" height="8.6"/></clipPath><rect x="837.2" y="402.1" width="9" height="8.6" fill="#00c400" stroke="none" stroke-width="1"/><path d="M828.6 410.7L837.2 402.1M831.2 410.7L839.8 402.1M833.8 410.7L842.4 402.1M836.4 410.7L845 402.1M839 410.7L847.6 402.1M841.6 410.7L850.2 402.1M844.2 410.7L852.8 402.1" stroke="#004400" stroke-width="1" clip-path="url(#c804)" fill="none"/><rect x="837.2" y="402.1" width="9" height="8.6" fill="none" stroke="#00c000" stroke-width="0.8"/><clipPath id="c808"><rect x="751.4" y="292" width="8.2" height="8.6"/></clipPath><rect x="751.4" y="292" width="8.2" height="8.6" fill="#00c400" stroke="none" stroke-width="1"/><path d="M742.8 300.6L751.4 292M745.4 300.6L754 292M748 300.6L756.6 292M750.6 300.6L759.2 292M753.2 300.6L761.8 292M755.8 300.6L764.4 292M758.4 300.6L767 292" stroke="#004400" stroke-width="1" clip-path="url(#c808)" fill="none"/><rect x="751.4" y="292" width="8.2" height="8.6" fill="none" stroke="#00c000" stroke-width="0.8"/><clipPath id="c812"><rect x="704.9" y="436.2" width="9" height="8.6"/></clipPath><rect x="704.9" y="436.2" width="9" height="8.6" fill="#00c400" stroke="none" stroke-width="1"/><path d="M696.3 444.8L704.9 436.2M698.9 444.8L707.5 436.2M701.5 444.8L710.1 436.2M704.1 444.8L712.7 436.2M706.7 444.8L715.3 436.2M709.3 444.8L717.9 436.2M711.9 444.8L720.5 436.2" stroke="#004400" stroke-width="1" clip-path="url(#c812)" fill="none"/><rect x="704.9" y="436.2" width="9" height="8.6" fill="none" stroke="#00c000" stroke-width="0.8"/><clipPath id="c816"><rect x="796.1" y="436.2" width="8.6" height="8.6"/></clipPath><rect x="796.1" y="436.2" width="8.6" height="8.6" fill="#00c400" stroke="none" stroke-width="1"/><path d="M787.5 444.8L796.1 436.2M790.1 444.8L798.7 436.2M792.7 444.8L801.3 436.2M795.3 444.8L803.9 436.2M797.9 444.8L806.5 436.2M800.5 444.8L809.1 436.2M803.1 444.8L811.7 436.2" stroke="#004400" stroke-width="1" clip-path="url(#c816)" fill="none"/><rect x="796.1" y="436.2" width="8.6" height="8.6" fill="none" stroke="#00c000" stroke-width="0.8"/><rect x="661.5" y="364" width="2.3" height="10" fill="#808000" stroke="#c0c000" stroke-width="0.8"/><rect x="845.8" y="363" width="2.8" height="11" fill="#808000" stroke="#c0c000" stroke-width="0.8"/><polyline points="614,316.5 652.1,316.5 664.2,327" fill="none" stroke="#900090" stroke-width="1"/><path d="M613.6 312.23h0.91v2.88h-0.91zM614.9 312.48h0.83v2.89h-0.83zM616.27 312.51h0.71v2.86h-0.71zM617.44 312.77h1.46v2.81h-1.46zM619.13 312.8h1.27v2.41h-1.27zM620.88 312.21h1.54v3.38h-1.54zM622.81 312.38h1.51v3.11h-1.51zM624.65 312.48h1.48v2.86h-1.48zM626.64 312.53h0.89v2.81h-0.89zM628.06 312.51h0.96v2.79h-0.96zM630.95 312.41h1.41v2.7h-1.41zM632.79 312.91h1.27v2.42h-1.27zM634.62 312.2h1.19v2.69h-1.19zM636.09 312.48h1.51v3.05h-1.51z" fill="#fff" opacity="0.9"/><polyline points="757.6,298 768,306.5 806.5,306.5" fill="none" stroke="#900090" stroke-width="1"/><path d="M768.4 303.23h1.25v2.66h-1.25zM770.09 303.14h1.31v2.7h-1.31zM771.91 303.67h0.79v2.13h-0.79zM773.26 303.13h1.29v2.84h-1.29zM774.98 303.17h0.93v2.48h-0.93zM777.78 303.64h1.21v2.21h-1.21zM779.42 303.34h1.53v2.11h-1.53zM783.32 303.07h1.07v2.68h-1.07zM784.65 303.03h0.71v2.72h-0.71zM786.98 303.5h0.72v2.32h-0.72zM787.98 303.22h0.75v2.74h-0.75zM789.21 303.12h0.78v2.74h-0.78zM791.98 303.26h0.02v2.69h-0.02z" fill="#fff" opacity="0.9"/><polyline points="842.2,330.1 855.3,314.5 893.8,314.5" fill="none" stroke="#900090" stroke-width="1"/><path d="M854.3 311.33h0.98v2.55h-0.98zM855.67 310.79h0.75v2.97h-0.75zM856.9 311.02h0.83v2.75h-0.83zM858.18 310.81h1.08v3.18h-1.08zM859.77 311.53h1.21v2.44h-1.21zM861.46 310.99h1.44v3h-1.44zM863.44 311.12h1.24v2.82h-1.24zM865.03 310.69h1.32v3.29h-1.32zM866.66 310.95h0.7v2.81h-0.7zM867.89 310.74h1.5v3.23h-1.5zM869.93 310.72h1.21v3.25h-1.21zM871.62 311.12h1.52v2.47h-1.52zM873.66 310.62h0.88v3.33h-0.88zM874.99 310.81h1.31v2.59h-1.31zM876.8 311.35h1.41v2.47h-1.41zM878.72 310.69h0.58v3.29h-0.58z" fill="#fff" opacity="0.9"/><polyline points="619,377.4 652.1,377.4 662.2,369" fill="none" stroke="#900090" stroke-width="1"/><path d="M619 374.14h1.13v2.19h-1.13zM620.4 374.15h1.33v2.52h-1.33zM622.14 374h0.83v2.9h-0.83zM623.22 374.44h1.27v2.17h-1.27zM624.82 374.83h1.17v2.06h-1.17zM626.54 374.5h1.14v2.26h-1.14zM628.05 374.15h1.55v2.74h-1.55zM629.9 374.06h0.73v2.19h-0.73z" fill="#fff" opacity="0.9"/><path d="M611 379.31h1.24v2.06h-1.24zM612.54 378.62h1.21v2.76h-1.21zM614.11 378.63h1.1v2.77h-1.1zM615.5 379.09h0.73v2.26h-0.73zM616.8 378.73h1.45v2.62h-1.45zM618.71 379.14h1.59v2.08h-1.59zM620.87 378.86h1.31v2.46h-1.31zM622.42 378.95h0.99v2.06h-0.99zM623.68 378.6h0.91v2.53h-0.91zM625.08 378.61h0.88v2.74h-0.88zM628.27 378.65h1.1v2.74h-1.1zM629.82 378.67h1.11v2.65h-1.11z" fill="#fff" opacity="0.9"/><path d="M611 383.77h0.83v2.01h-0.83zM613.39 383.71h1.07v2.19h-1.07zM614.79 383.72h0.85v2.23h-0.85zM615.89 383.26h1.58v2.71h-1.58zM617.75 383.33h1.13v2.18h-1.13zM621.39 383.21h0.79v2.71h-0.79zM623.84 383.2h1.43v2.08h-1.43zM625.8 383.63h1.17v2.33h-1.17zM627.26 383.73h1.21v2.11h-1.21zM628.96 383.67h0.88v2.03h-0.88zM630.23 383.43h0.95v2.47h-0.95zM631.7 383.78h1.22v2.02h-1.22zM633.29 383.25h1.35v2.64h-1.35zM635.18 383.95h1.48v1.97h-1.48zM637.05 383.77h1.48v2.12h-1.48zM638.88 383.2h0.85v2.46h-0.85zM640.13 383.73h0.87v2.06h-0.87z" fill="#fff" opacity="0.9"/><polyline points="613,395.5 652.1,395.5 668.2,407.1" fill="none" stroke="#900090" stroke-width="1"/><path d="M613 391.32h1.48v3.2h-1.48zM616.32 391.46h1.15v3.01h-1.15zM617.67 391.29h1.57v2.64h-1.57zM619.54 391.86h1.44v2.55h-1.44zM621.25 391.43h0.72v3.06h-0.72zM623.73 391.47h0.74v2.97h-0.74zM624.78 391.74h0.81v2.59h-0.81zM626.14 391.24h0.83v3.23h-0.83zM627.5 391.71h1.54v2.89h-1.54zM631.02 391.5h1v2.8h-1zM634.57 391.69h1.46v2.99h-1.46zM636.6 391.34h0.4v3.11h-0.4z" fill="#fff" opacity="0.9"/><polyline points="848.2,369 856.3,376.6 890,376.6" fill="none" stroke="#900090" stroke-width="1"/><path d="M856.3 373.01h0.76v2.47h-0.76zM857.32 373.03h1.57v2.85h-1.57zM861.12 373.08h1.28v2.62h-1.28zM862.82 373.34h1.53v2.25h-1.53zM864.72 373.39h1.56v2.3h-1.56zM868.17 373.06h0.94v2.49h-0.94zM869.36 373.15h0.82v2.38h-0.82zM870.47 373.09h0.78v2.76h-0.78zM871.68 373.12h0.62v2.65h-0.62z" fill="#fff" opacity="0.9"/><path d="M857 378.15h1.25v2.3h-1.25zM858.54 378h1.16v2.54h-1.16zM860.04 378.19h1.48v2.51h-1.48zM861.83 378.03h1.59v2.7h-1.59zM863.65 378.32h1.48v2.08h-1.48zM865.51 378.65h1.36v2.23h-1.36zM867.36 378.38h0.84v2.34h-0.84zM868.65 378.31h1.46v2.48h-1.46zM870.61 378.13h1.38v2.71h-1.38zM873.58 378.42h1.39v2.46h-1.39zM875.4 378.07h1.08v2.79h-1.08zM876.82 378.07h1.11v2.66h-1.11zM878.29 378.46h0.71v2.31h-0.71z" fill="#fff" opacity="0.9"/><path d="M856.3 382.82h1.15v2.19h-1.15zM857.71 383.33h1.22v2.11h-1.22zM859.26 382.61h1.46v2.86h-1.46zM861.08 383.07h1.52v2.07h-1.52zM863 383h1.53v2.5h-1.53zM864.94 382.79h1.17v2.37h-1.17zM868.03 382.82h1.17v2.36h-1.17zM871.43 382.93h1.14v2.57h-1.14zM872.9 382.83h1.18v2.18h-1.18zM874.67 383.29h1.44v2.13h-1.44zM878.59 382.92h1.08v2.28h-1.08zM880.07 382.79h0.87v2.58h-0.87zM881.28 382.94h1.59v2.07h-1.59zM883.39 382.86h0.98v2.03h-0.98zM884.9 382.95h1.23v2.2h-1.23z" fill="#fff" opacity="0.9"/><polyline points="845.2,408.1 854.3,416.7 893.8,416.7" fill="none" stroke="#900090" stroke-width="1"/><path d="M855.3 412.69h0.94v3.01h-0.94zM856.67 412.87h1.07v2.61h-1.07zM857.98 412.61h0.79v3h-0.79zM859.22 413h1.43v2.46h-1.43zM860.97 412.43h1.34v2.63h-1.34zM862.56 412.51h1.51v2.82h-1.51zM865.61 412.3h1.56v3.1h-1.56zM869.25 412.64h1.51v2.77h-1.51zM872.79 412.45h1.05v2.68h-1.05zM874.39 412.34h1.14v2.71h-1.14zM877.05 412.39h1.21v3.01h-1.21zM878.62 412.26h0.68v3.32h-0.68z" fill="#fff" opacity="0.9"/><polyline points="709.3,442.2 712.3,456.7 793.1,456.7 800.1,442.2" fill="none" stroke="#900090" stroke-width="1"/><path d="M712.3 452.83h0.87v2.7h-0.87zM713.64 452.83h1.01v3.19h-1.01zM714.95 453.29h1.45v2.92h-1.45zM716.93 452.91h0.84v3.21h-0.84zM719.64 453.44h0.9v2.59h-0.9zM720.85 452.96h1.51v2.84h-1.51zM723.94 453.39h1.16v2.73h-1.16zM725.46 453.08h1.29v2.78h-1.29zM728.17 452.97h1.3v3.04h-1.3zM729.87 452.96h0.97v2.78h-0.97zM731.09 453.37h1.35v2.87h-1.35zM734.69 453.02h0.95v3.16h-0.95zM735.98 452.88h0.32v3.18h-0.32z" fill="#fff" opacity="0.9"/><path d="M754 452.9h1.02v2.64h-1.02zM755.58 452.84h1.36v2.49h-1.36zM757.21 452.83h0.88v2.85h-0.88zM758.41 452.9h1.27v3.33h-1.27zM760.17 452.92h0.93v3.17h-0.93zM761.3 452.83h1.45v2.75h-1.45zM763.29 452.89h1.25v2.71h-1.25zM766.45 453.28h0.78v2.86h-0.78zM767.75 452.82h0.95v3.44h-0.95zM769.28 452.91h1.32v3.32h-1.32zM770.98 453.11h0.75v2.9h-0.75zM772.3 453.51h0.81v2.5h-0.81zM773.64 452.82h0.94v3.47h-0.94zM774.99 453.08h0.92v2.83h-0.92zM776.2 453.01h0.98v3.19h-0.98zM777.47 453.35h0.53v2.92h-0.53z" fill="#fff" opacity="0.9"/><text transform="translate(745.79 384.6) scale(0.52 1)" font-family="'Liberation Sans', 'Noto Sans CJK SC', sans-serif" font-size="9" fill="#e0e0e0" text-anchor="start">档案室</text><circle cx="673.6" cy="446.2" r="4.3" fill="none" stroke="#00b000" stroke-width="0.9"/><line x1="670.59" y1="443.19" x2="676.61" y2="449.21" stroke="#00b000" stroke-width="0.7"/><line x1="676.61" y1="443.19" x2="670.59" y2="449.21" stroke="#00b000" stroke-width="0.7"/><path d="M665.2 445.2V451C665.2 455 672 455 673.6 450C675 455 682.2 455 682.2 451V445.2" fill="none" stroke="#c0c0c0" stroke-width="0.9"/><circle cx="849.2" cy="394.1" r="4.2" fill="none" stroke="#00b000" stroke-width="0.9"/><line x1="846.26" y1="391.16" x2="852.14" y2="397.04" stroke="#00b000" stroke-width="0.7"/><line x1="852.14" y1="391.16" x2="846.26" y2="397.04" stroke="#00b000" stroke-width="0.7"/><path d="M846.6 386H853C856.5 386 856.5 392 853 394.5C857 396 856.5 403 853 403H846.6" fill="none" stroke="#c0c0c0" stroke-width="0.9"/><polygon points="833.95,438.2 837.45,438.2 839.2,441.84 832.2,441.84" fill="none" stroke="#00b000" stroke-width="0.9"/><rect x="832.9" y="441.84" width="5.6" height="1.56" fill="none" stroke="#00b000" stroke-width="0.8"/><line x1="835.7" y1="440.02" x2="835.7" y2="443.4" stroke="#00b000" stroke-width="0.7"/><rect x="800.1" y="447.2" width="26.1" height="5.6" fill="#005800" stroke="#00b000" stroke-width="0.8"/><path d="M803.23 448.69h1.21v2.64h-1.21zM804.94 448.76h0.85v2.46h-0.85zM806.3 448.82h1.45v2.2h-1.45zM808.03 449.07h0.75v2.13h-0.75zM809.16 448.76h0.8v2.35h-0.8zM810.23 448.6h0.76v2.79h-0.76zM813 448.69h0.8v2.32h-0.8zM817.1 448.62h0.93v2.08h-0.93zM818.54 449.04h1.46v2.12h-1.46zM820.53 448.75h1.53v2.62h-1.53zM822.57 448.65h0.99v2.65h-0.99zM823.91 448.63h0.09v2.66h-0.09z" fill="#0d0" opacity="0.8"/><path d="M827.2 444.5V451C827.2 455 834 455 835.8 450C837.5 455 844.2 455 844.2 451V444.5" fill="none" stroke="#c0c0c0" stroke-width="0.9"/><circle cx="835.8" cy="449.4" r="3.4" fill="none" stroke="#00b000" stroke-width="0.9"/><line x1="833.42" y1="447.02" x2="838.18" y2="451.78" stroke="#00b000" stroke-width="0.7"/><line x1="838.18" y1="447.02" x2="833.42" y2="451.78" stroke="#00b000" stroke-width="0.7"/><line x1="983.8" y1="288" x2="1119.8" y2="288" stroke="#545454" stroke-width="0.9"/><line x1="983.8" y1="301" x2="1070.7" y2="301" stroke="#545454" stroke-width="0.9"/><line x1="983.8" y1="285" x2="983.8" y2="304" stroke="#545454" stroke-width="0.9"/><line x1="1119.8" y1="285.6" x2="1119.8" y2="294" stroke="#545454" stroke-width="0.9"/><line x1="1070.7" y1="298.5" x2="1070.7" y2="304" stroke="#545454" stroke-width="0.9"/><text transform="translate(1027.2 300.6) scale(0.7 1)" font-family="Liberation Sans, sans-serif" font-size="5.8" fill="#808080" text-anchor="middle">5200</text><text transform="translate(1053 287.4) scale(0.7 1)" font-family="Liberation Sans, sans-serif" font-size="5.4" fill="#707070" text-anchor="middle">8712</text><line x1="965.6" y1="311" x2="965.6" y2="435.2" stroke="#545454" stroke-width="0.9"/><line x1="977.8" y1="311" x2="977.8" y2="363" stroke="#545454" stroke-width="0.9"/><line x1="963.5" y1="312" x2="980" y2="312" stroke="#545454" stroke-width="0.8"/><line x1="975.5" y1="362.6" x2="980" y2="362.6" stroke="#545454" stroke-width="0.8"/><line x1="963.5" y1="435.2" x2="972" y2="435.2" stroke="#545454" stroke-width="0.8"/><text transform="translate(976.6 338) rotate(-90) scale(0.7 1)" font-family="Liberation Sans, sans-serif" font-size="5.6" fill="#606060" text-anchor="middle">3000</text><text transform="translate(965 374) rotate(-90) scale(0.7 1)" font-family="Liberation Sans, sans-serif" font-size="5.6" fill="#606060" text-anchor="middle">7300</text><rect x="981.8" y="310" width="9.4" height="9.7" fill="#909090" stroke="none" stroke-width="1"/><rect x="981.2" y="425.2" width="10" height="9.6" fill="#909090" stroke="none" stroke-width="1"/><line x1="991.2" y1="310.5" x2="1122.6" y2="310.5" stroke="#868686" stroke-width="0.8"/><line x1="991.2" y1="312.5" x2="1119.8" y2="312.5" stroke="#868686" stroke-width="0.8"/><line x1="981.8" y1="319.7" x2="981.8" y2="425.2" stroke="#868686" stroke-width="0.9"/><line x1="984.2" y1="319.7" x2="984.2" y2="425.2" stroke="#868686" stroke-width="0.9"/><line x1="1119.8" y1="312.5" x2="1119.8" y2="434.8" stroke="#868686" stroke-width="0.9"/><line x1="1122.6" y1="310.5" x2="1122.6" y2="434.8" stroke="#868686" stroke-width="0.9"/><line x1="991.2" y1="434.8" x2="1122.6" y2="434.8" stroke="#6c6c6c" stroke-width="1.3"/><line x1="1070.7" y1="312.5" x2="1070.7" y2="391.2" stroke="#8c8c8c" stroke-width="0.8"/><line x1="1070.7" y1="391.4" x2="1119.8" y2="391.4" stroke="#8c8c8c" stroke-width="0.8"/><path d="M1070.7 376.6A14.6 14.6 0 0 1 1085.1 391.2" fill="none" stroke="#8c8c8c" stroke-width="0.8"/><text transform="translate(919.3 345.8) scale(0.7 1)" font-family="Liberation Sans, sans-serif" font-size="8" fill="#a0a0a0" text-anchor="start">120L/110</text><text transform="translate(943.26 345.6) scale(0.6 1)" font-family="'Liberation Sans', 'Noto Sans CJK SC', sans-serif" font-size="7.6" fill="#b0b0b0" text-anchor="start">卷式灭火装置</text><polyline points="1002.7,347.6 920.4,347.6 989.2,371.2" fill="none" stroke="#800080" stroke-width="1"/><clipPath id="c901"><rect x="984.2" y="365.8" width="13" height="12.8"/></clipPath><rect x="984.2" y="365.8" width="13" height="12.8" fill="#004000" stroke="none" stroke-width="1"/><path d="M971.4 378.6L984.2 365.8M974.3 378.6L987.1 365.8M977.2 378.6L990 365.8M980.1 378.6L992.9 365.8M983 378.6L995.8 365.8M985.9 378.6L998.7 365.8M988.8 378.6L1001.6 365.8M991.7 378.6L1004.5 365.8M994.6 378.6L1007.4 365.8" stroke="#00b800" stroke-width="1.2" clip-path="url(#c901)" fill="none"/><rect x="984.2" y="365.8" width="13" height="12.8" fill="none" stroke="#00a000" stroke-width="0.8"/><line x1="1028.7" y1="327" x2="1028.7" y2="361.2" stroke="#a80000" stroke-width="1"/><polyline points="1025.3,365.2 1017.3,365.2 1017.3,410.1" fill="none" stroke="#a80000" stroke-width="1"/><line x1="1021.3" y1="413.7" x2="1080" y2="413.7" stroke="#a80000" stroke-width="1"/><line x1="1075.5" y1="393" x2="1083.1" y2="410.1" stroke="#a80000" stroke-width="1"/><line x1="1087.5" y1="413.7" x2="1109.2" y2="421.7" stroke="#a80000" stroke-width="1"/><line x1="1111.6" y1="431" x2="1111.6" y2="433.2" stroke="#a80000" stroke-width="1"/><rect x="1025.3" y="319" width="7" height="8" fill="none" stroke="#00a000" stroke-width="0.8"/><line x1="1028.8" y1="320.44" x2="1028.8" y2="325.4" stroke="#a4a4a4" stroke-width="0.8"/><circle cx="1028.8" cy="325.4" r="0.7" fill="#00e000" stroke="none" stroke-width="1"/><rect x="1025.3" y="361.2" width="13.4" height="7.4" fill="none" stroke="#00a000" stroke-width="0.9"/><line x1="1032" y1="361.2" x2="1032" y2="368.6" stroke="#00a000" stroke-width="0.8"/><line x1="1028.6" y1="362.5" x2="1028.6" y2="367.3" stroke="#c8c8c8" stroke-width="0.8"/><polyline points="1036.8,362.6 1034,363.6 1036.6,366 1034,367.4" fill="none" stroke="#c8c8c8" stroke-width="0.7"/><rect x="1014.3" y="410.1" width="7" height="7.4" fill="#000" stroke="none" stroke-width="1"/><rect x="1014.3" y="410.1" width="7" height="7.4" fill="none" stroke="#00a000" stroke-width="0.8"/><line x1="1017.8" y1="411.43" x2="1017.8" y2="416.02" stroke="#a4a4a4" stroke-width="0.8"/><circle cx="1017.8" cy="416.02" r="0.7" fill="#00e000" stroke="none" stroke-width="1"/><rect x="1047.4" y="410.1" width="7" height="7.4" fill="#000" stroke="none" stroke-width="1"/><rect x="1047.4" y="410.1" width="7" height="7.4" fill="none" stroke="#00a000" stroke-width="0.8"/><polyline points="1052.16,411.58 1049.92,412.32 1052.02,414.69 1049.78,416.02" fill="none" stroke="#a4a4a4" stroke-width="0.8"/><rect x="1080" y="410.1" width="7.5" height="7.4" fill="#000" stroke="none" stroke-width="1"/><rect x="1080" y="410.1" width="7.5" height="7.4" fill="none" stroke="#00a000" stroke-width="0.8"/><line x1="1083.75" y1="411.43" x2="1083.75" y2="416.02" stroke="#a4a4a4" stroke-width="0.8"/><circle cx="1083.75" cy="416.02" r="0.7" fill="#00e000" stroke="none" stroke-width="1"/><text transform="translate(1028.59 376.3) scale(0.9 1)" font-family="'Liberation Sans', 'Noto Sans CJK SC', sans-serif" font-size="5.2" fill="#d0d0d0" text-anchor="start">机房</text><text transform="translate(1076.69 338.8) scale(0.489 1)" font-family="'Liberation Sans', 'Noto Sans CJK SC', sans-serif" font-size="6.6" fill="#d0d0d0" text-anchor="start">内部电话系统</text><circle cx="1094.1" cy="349.2" r="4.6" fill="#006c00" stroke="#00a400" stroke-width="1"/><polyline points="1098.1,347.8 1127.2,333.5 1191.4,333.5" fill="none" stroke="#800080" stroke-width="1"/><text transform="translate(1125.2 332) scale(0.66 1)" font-family="Liberation Sans, sans-serif" font-size="6" fill="#b0b0b0" text-anchor="start">30L/3</text><text transform="translate(1135.51 331.8) scale(0.5207 1)" font-family="'Liberation Sans', 'Noto Sans CJK SC', sans-serif" font-size="5.8" fill="#c0c0c0" text-anchor="start">卷式温控自动灭火装置</text><rect x="1119.2" y="361.2" width="4" height="13.8" fill="#4c4c00" stroke="#a0a000" stroke-width="0.9"/><line x1="1119.2" y1="361.2" x2="1123.2" y2="375" stroke="#a0a000" stroke-width="0.6"/><polyline points="1122.2,369 1133.2,380.4 1184,380.4" fill="none" stroke="#800080" stroke-width="1"/><path d="M1133.2 375.76h1.21v3.97h-1.21zM1134.97 375.7h1.55v3.57h-1.55zM1136.84 375.66h1.22v3.81h-1.22zM1138.44 376.13h1.57v2.99h-1.57zM1140.29 375.77h1.35v4h-1.35zM1142.16 375.82h0.04v3.77h-0.04z" fill="#fff" opacity="0.9"/><text transform="translate(1143 380) scale(0.7 1)" font-family="Liberation Sans, sans-serif" font-size="5" fill="#c0c0c0" text-anchor="start">90.13m²</text><path d="M1133.2 383.15h1v3.78h-1zM1134.77 383.2h0.85v3.5h-0.85zM1135.95 383.19h0.88v3.35h-0.88zM1137.42 382.83h1.52v4.17h-1.52zM1139.38 383.05h1.43v3.79h-1.43zM1142.74 383.53h1.28v3.37h-1.28zM1144.23 382.86h0.87v3.5h-0.87zM1145.57 383.19h1.03v3.46h-1.03zM1147.03 383.72h1.06v3.17h-1.06zM1148.5 382.89h0.8v3.26h-0.8zM1149.72 382.93h0.93v3.64h-0.93zM1151.07 382.84h0.8v3.68h-0.8zM1152.24 382.89h0.77v4.03h-0.77zM1153.49 382.81h1.38v4.19h-1.38zM1155.11 383.8h1.45v3.16h-1.45zM1156.98 382.82h1.4v3.92h-1.4zM1158.68 382.91h1.04v3.69h-1.04zM1160.03 382.89h1.34v4.06h-1.34zM1163.67 383.43h0.85v3.37h-0.85zM1165 383.38h1.44v3.41h-1.44zM1167.02 382.85h1.35v3.7h-1.35zM1168.79 382.86h0.41v4.11h-0.41z" fill="#d8d8d8" opacity="0.85"/><path d="M1133.2 389.71h0.87v3.62h-0.87zM1134.32 389.64h0.72v3.57h-0.72zM1135.46 389.7h0.96v3.09h-0.96zM1136.97 389.81h1.18v3.58h-1.18zM1138.36 390.1h1.01v3.23h-1.01zM1139.89 389.74h0.73v3.59h-0.73zM1140.98 389.67h1.13v3.62h-1.13zM1142.66 389.77h1.25v3.04h-1.25zM1144.46 389.94h0.74v2.85h-0.74z" fill="#fff" opacity="0.85"/><text transform="translate(1146 393.4) scale(0.72 1)" font-family="Liberation Sans, sans-serif" font-size="4.6" fill="#b0b0b0" text-anchor="start">0.12mm-4.00mm</text><circle cx="1075.1" cy="386" r="5.5" fill="none" stroke="#00a000" stroke-width="0.9"/><line x1="1071.25" y1="382.15" x2="1078.95" y2="389.85" stroke="#00a000" stroke-width="0.7"/><line x1="1078.95" y1="382.15" x2="1071.25" y2="389.85" stroke="#00a000" stroke-width="0.7"/><line x1="1104.5" y1="420.1" x2="1104.5" y2="434.2" stroke="#a0a0a0" stroke-width="0.8"/><line x1="1104.5" y1="420.1" x2="1110" y2="420.1" stroke="#a0a0a0" stroke-width="0.8"/><polygon points="1109.47,421.7 1115.03,421.7 1117.8,428.35 1106.7,428.35" fill="none" stroke="#00a000" stroke-width="0.9"/><rect x="1107.81" y="428.35" width="8.88" height="2.85" fill="none" stroke="#00a000" stroke-width="0.8"/><line x1="1112.25" y1="425.02" x2="1112.25" y2="431.2" stroke="#00a000" stroke-width="0.7"/><rect x="1058.4" y="435.5" width="16.7" height="8.1" fill="none" stroke="#00a000" stroke-width="0.9"/><circle cx="1067" cy="439" r="0.8" fill="#0c0" stroke="none" stroke-width="1"/><rect x="1076.5" y="435.5" width="16.6" height="8.1" fill="none" stroke="#00a000" stroke-width="0.9"/><circle cx="1080.8" cy="439.6" r="1.9" fill="none" stroke="#00a000" stroke-width="0.8"/><circle cx="1089" cy="439.6" r="1.9" fill="none" stroke="#00a000" stroke-width="0.8"/><rect x="1096.1" y="435.5" width="8" height="8.1" fill="none" stroke="#00a000" stroke-width="0.8"/><line x1="1100" y1="435.5" x2="1100" y2="443.6" stroke="#00a000" stroke-width="0.7"/><line x1="1096.1" y1="439.5" x2="1104.1" y2="439.5" stroke="#00a000" stroke-width="0.7"/><line x1="1093.1" y1="439.5" x2="1096.1" y2="439.5" stroke="#a80000" stroke-width="0.8"/><circle cx="1111.6" cy="439.4" r="6.2" fill="none" stroke="#00a000" stroke-width="0.9"/><line x1="1107.26" y1="435.06" x2="1115.94" y2="443.74" stroke="#00a000" stroke-width="0.7"/><line x1="1115.94" y1="435.06" x2="1107.26" y2="443.74" stroke="#00a000" stroke-width="0.7"/><rect x="1038" y="434.8" width="14" height="4" fill="#4c4c00" stroke="#a0a000" stroke-width="0.9"/><line x1="1038" y1="436.8" x2="1052" y2="436.8" stroke="#a0a000" stroke-width="0.6"/><polyline points="1044.4,438.2 1032.3,449.2 982.2,449.2" fill="none" stroke="#800080" stroke-width="1"/><path d="M982.2 444.4h1.22v3.39h-1.22zM983.85 445.07h1v3.52h-1zM985.07 444.65h0.83v3.28h-0.83zM986.3 444.97h0.94v3.61h-0.94zM987.83 444.65h0.73v3.91h-0.73zM989.07 444.63h1.27v3.4h-1.27zM990.86 444.52h0.34v3.8h-0.34z" fill="#fff" opacity="0.9"/><text transform="translate(992 448.8) scale(0.7 1)" font-family="Liberation Sans, sans-serif" font-size="5" fill="#c0c0c0" text-anchor="start">90.13m²</text><path d="M982.2 451.56h1.37v3.74h-1.37zM983.99 451.67h1.07v3.36h-1.07zM985.65 451.62h1.13v3.25h-1.13zM987.12 451.47h0.82v4.04h-0.82zM988.32 451.47h1.21v3.15h-1.21zM989.85 451.93h0.98v3.63h-0.98zM991.17 451.61h1.53v3.04h-1.53zM993.13 451.52h1.59v3.92h-1.59zM995.26 451.44h0.76v4.07h-0.76zM996.33 452.05h0.72v3.28h-0.72zM997.34 451.83h1.06v3.7h-1.06zM998.85 451.43h0.88v4.15h-0.88zM999.96 451.51h1.43v3.37h-1.43zM1001.67 451.82h1.18v3.75h-1.18zM1003.14 451.58h0.99v3.76h-0.99zM1004.6 451.43h1v3.46h-1zM1006.06 451.53h1v3.69h-1zM1008.58 451.75h1.59v3.71h-1.59zM1010.5 452.23h0.78v3.12h-0.78zM1011.52 451.74h1.43v3.62h-1.43zM1013.37 452.02h1.29v3.36h-1.29zM1014.97 451.49h1.23v3.92h-1.23z" fill="#d8d8d8" opacity="0.85"/><path d="M982.2 457.79h1.58v2.66h-1.58zM984.36 457.75h0.82v2.87h-0.82zM987 457.53h1.38v2.41h-1.38zM988.61 458.18h1.15v2.57h-1.15zM990.1 457.65h0.83v3.13h-0.83zM991.2 458.16h0.73v2.63h-0.73zM992.33 457.49h1.27v3.2h-1.27zM993.93 457.42h0.27v3.13h-0.27z" fill="#fff" opacity="0.85"/><text transform="translate(995 460.6) scale(0.72 1)" font-family="Liberation Sans, sans-serif" font-size="4.4" fill="#b0b0b0" text-anchor="start">0.12mm-4.00mm</text></g><g filter="url(#bl3)"><line x1="647.2" y1="60.3" x2="852.9" y2="60.3" stroke="#00b000" stroke-width="0.9"/><line x1="647.2" y1="64.2" x2="852.9" y2="64.2" stroke="#00b000" stroke-width="0.9"/><circle cx="647.2" cy="55.5" r="1.5" fill="none" stroke="#00b000" stroke-width="0.8"/><line x1="647.2" y1="57" x2="647.2" y2="70" stroke="#00b000" stroke-width="0.9"/><line x1="647.2" y1="70" x2="647.2" y2="76" stroke="#00b000" stroke-width="0.9" stroke-opacity="0.45"/><path d="M650.1 61.52h1.06v1.44h-1.06zM651.53 61.25h1.53v1.78h-1.53zM653.35 61.29h0.75v1.54h-0.75z" fill="#e0e0e0" opacity="0.8"/><circle cx="657" cy="55.5" r="1.5" fill="none" stroke="#00b000" stroke-width="0.8"/><line x1="657" y1="57" x2="657" y2="70" stroke="#00b000" stroke-width="0.9"/><line x1="657" y1="70" x2="657" y2="76" stroke="#00b000" stroke-width="0.9" stroke-opacity="0.45"/><path d="M661.2 61.2h1.28v2h-1.28zM662.91 61.22h0.84v1.92h-0.84zM664.25 61.39h0.95v1.6h-0.95z" fill="#e0e0e0" opacity="0.8"/><circle cx="669.4" cy="55.5" r="1.5" fill="none" stroke="#00b000" stroke-width="0.8"/><line x1="669.4" y1="57" x2="669.4" y2="70" stroke="#00b000" stroke-width="0.9"/><line x1="669.4" y1="70" x2="669.4" y2="76" stroke="#00b000" stroke-width="0.9" stroke-opacity="0.45"/><path d="M673.55 61.31h0.85v1.76h-0.85zM674.83 61.23h1.49v1.93h-1.49zM676.83 61.28h0.72v1.92h-0.72z" fill="#e0e0e0" opacity="0.8"/><circle cx="681.7" cy="55.5" r="1.5" fill="none" stroke="#00b000" stroke-width="0.8"/><line x1="681.7" y1="57" x2="681.7" y2="70" stroke="#00b000" stroke-width="0.9"/><line x1="681.7" y1="70" x2="681.7" y2="76" stroke="#00b000" stroke-width="0.9" stroke-opacity="0.45"/><path d="M684.45 61.2h0.72v1.98h-0.72zM685.74 61.29h0.84v1.46h-0.84zM687.05 61.24h0.78v1.95h-0.78zM688.38 61.56h0.07v1.54h-0.07z" fill="#e0e0e0" opacity="0.8"/><circle cx="691.2" cy="55.5" r="1.5" fill="none" stroke="#00b000" stroke-width="0.8"/><line x1="691.2" y1="57" x2="691.2" y2="70" stroke="#00b000" stroke-width="0.9"/><line x1="691.2" y1="70" x2="691.2" y2="76" stroke="#00b000" stroke-width="0.9" stroke-opacity="0.45"/><path d="M697.3 61.4h0.73v1.54h-0.73zM699.32 61.24h1.49v1.69h-1.49zM701.18 61.58h0.12v1.49h-0.12z" fill="#e0e0e0" opacity="0.8"/><circle cx="707.4" cy="55.5" r="1.5" fill="none" stroke="#00b000" stroke-width="0.8"/><line x1="707.4" y1="57" x2="707.4" y2="70" stroke="#00b000" stroke-width="0.9"/><line x1="707.4" y1="70" x2="707.4" y2="76" stroke="#00b000" stroke-width="0.9" stroke-opacity="0.45"/><path d="M711.7 61.48h0.8v1.7h-0.8zM714.29 61.33h1.36v1.51h-1.36z" fill="#e0e0e0" opacity="0.8"/><circle cx="720" cy="55.5" r="1.5" fill="none" stroke="#00b000" stroke-width="0.8"/><line x1="720" y1="57" x2="720" y2="70" stroke="#00b000" stroke-width="0.9"/><line x1="720" y1="70" x2="720" y2="76" stroke="#00b000" stroke-width="0.9" stroke-opacity="0.45"/><path d="M725.75 61.4h0.74v1.64h-0.74zM726.83 61.31h0.71v1.79h-0.71z" fill="#e0e0e0" opacity="0.8"/><circle cx="735.5" cy="55.5" r="1.5" fill="none" stroke="#00b000" stroke-width="0.8"/><line x1="735.5" y1="57" x2="735.5" y2="70" stroke="#00b000" stroke-width="0.9"/><line x1="735.5" y1="70" x2="735.5" y2="76" stroke="#00b000" stroke-width="0.9" stroke-opacity="0.45"/><path d="M738.4 61.37h1.35v1.59h-1.35zM740.34 61.25h1.05v1.65h-1.05zM741.98 61.21h0.42v1.96h-0.42z" fill="#e0e0e0" opacity="0.8"/><circle cx="745.3" cy="55.5" r="1.5" fill="none" stroke="#00b000" stroke-width="0.8"/><line x1="745.3" y1="57" x2="745.3" y2="70" stroke="#00b000" stroke-width="0.9"/><line x1="745.3" y1="70" x2="745.3" y2="76" stroke="#00b000" stroke-width="0.9" stroke-opacity="0.45"/><path d="M749.5 61.26h1.04v1.52h-1.04zM751.08 61.6h1.41v1.43h-1.41zM752.81 61.6h0.69v1.59h-0.69z" fill="#e0e0e0" opacity="0.8"/><circle cx="757.7" cy="55.5" r="1.5" fill="none" stroke="#00b000" stroke-width="0.8"/><line x1="757.7" y1="57" x2="757.7" y2="70" stroke="#00b000" stroke-width="0.9"/><line x1="757.7" y1="70" x2="757.7" y2="76" stroke="#00b000" stroke-width="0.9" stroke-opacity="0.45"/><path d="M762 61.37h1.37v1.71h-1.37zM763.97 61.26h0.91v1.85h-0.91zM765.37 61.36h0.63v1.77h-0.63z" fill="#e0e0e0" opacity="0.8"/><circle cx="770.3" cy="55.5" r="1.5" fill="none" stroke="#00b000" stroke-width="0.8"/><line x1="770.3" y1="57" x2="770.3" y2="70" stroke="#00b000" stroke-width="0.9"/><line x1="770.3" y1="70" x2="770.3" y2="76" stroke="#00b000" stroke-width="0.9" stroke-opacity="0.45"/><path d="M773.2 61.49h1.27v1.53h-1.27zM774.77 61.29h1.52v1.83h-1.52zM776.68 61.22h0.52v1.96h-0.52z" fill="#e0e0e0" opacity="0.8"/><circle cx="780.1" cy="55.5" r="1.5" fill="none" stroke="#00b000" stroke-width="0.8"/><line x1="780.1" y1="57" x2="780.1" y2="70" stroke="#00b000" stroke-width="0.9"/><line x1="780.1" y1="70" x2="780.1" y2="76" stroke="#00b000" stroke-width="0.9" stroke-opacity="0.45"/><path d="M782.85 61.28h1.17v1.54h-1.17zM784.55 61.29h1.11v1.9h-1.11zM786.21 61.28h0.64v1.9h-0.64z" fill="#e0e0e0" opacity="0.8"/><circle cx="789.6" cy="55.5" r="1.5" fill="none" stroke="#00b000" stroke-width="0.8"/><line x1="789.6" y1="57" x2="789.6" y2="70" stroke="#00b000" stroke-width="0.9"/><line x1="789.6" y1="70" x2="789.6" y2="76" stroke="#00b000" stroke-width="0.9" stroke-opacity="0.45"/><path d="M793.95 61.39h0.84v1.46h-0.84zM795.31 61.42h1.17v1.45h-1.17zM797.08 61.45h0.87v1.69h-0.87z" fill="#e0e0e0" opacity="0.8"/><circle cx="802.3" cy="55.5" r="1.5" fill="none" stroke="#00b000" stroke-width="0.8"/><line x1="802.3" y1="57" x2="802.3" y2="70" stroke="#00b000" stroke-width="0.9"/><line x1="802.3" y1="70" x2="802.3" y2="76" stroke="#00b000" stroke-width="0.9" stroke-opacity="0.45"/><path d="M806.35 61.4h0.83v1.62h-0.83zM807.48 61.21h1.03v1.63h-1.03zM808.79 61.55h1.21v1.51h-1.21zM810.32 61.21h0.03v1.9h-0.03z" fill="#e0e0e0" opacity="0.8"/><circle cx="814.4" cy="55.5" r="1.5" fill="none" stroke="#00b000" stroke-width="0.8"/><line x1="814.4" y1="57" x2="814.4" y2="70" stroke="#00b000" stroke-width="0.9"/><line x1="814.4" y1="70" x2="814.4" y2="76" stroke="#00b000" stroke-width="0.9" stroke-opacity="0.45"/><path d="M817.4 61.47h1.47v1.65h-1.47zM819.32 61.32h1.03v1.67h-1.03zM820.84 61.37h0.56v1.79h-0.56z" fill="#e0e0e0" opacity="0.8"/><circle cx="824.4" cy="55.5" r="1.5" fill="none" stroke="#00b000" stroke-width="0.8"/><line x1="824.4" y1="57" x2="824.4" y2="70" stroke="#00b000" stroke-width="0.9"/><line x1="824.4" y1="70" x2="824.4" y2="76" stroke="#00b000" stroke-width="0.9" stroke-opacity="0.45"/><path d="M828.75 61.21h1.05v1.95h-1.05zM830.39 61.27h1.34v1.8h-1.34zM831.95 61.34h0.8v1.72h-0.8z" fill="#e0e0e0" opacity="0.8"/><circle cx="837.1" cy="55.5" r="1.5" fill="none" stroke="#00b000" stroke-width="0.8"/><line x1="837.1" y1="57" x2="837.1" y2="70" stroke="#00b000" stroke-width="0.9"/><line x1="837.1" y1="70" x2="837.1" y2="76" stroke="#00b000" stroke-width="0.9" stroke-opacity="0.45"/><path d="M843 61.31h1.38v1.76h-1.38zM844.77 61.48h1.46v1.68h-1.46zM846.6 61.27h0.4v1.89h-0.4z" fill="#e0e0e0" opacity="0.8"/><circle cx="852.9" cy="55.5" r="1.5" fill="none" stroke="#00b000" stroke-width="0.8"/><line x1="852.9" y1="57" x2="852.9" y2="70" stroke="#00b000" stroke-width="0.9"/><line x1="852.9" y1="70" x2="852.9" y2="76" stroke="#00b000" stroke-width="0.9" stroke-opacity="0.45"/><path d="M747.5 58.29h1.06v1.45h-1.06zM749.07 58.23h1.39v1.23h-1.39zM750.99 58.27h0.79v1.48h-0.79z" fill="#e0e0e0" opacity="0.7"/><path d="M762 78.02h1.31v1.52h-1.31zM763.79 78h1.08v1.8h-1.08zM765.41 78h0.83v1.54h-0.83zM766.84 78.09h0.95v1.43h-0.95z" fill="#c0c0c0" opacity="0.75"/><line x1="760.5" y1="82.5" x2="762.5" y2="80" stroke="#909090" stroke-width="0.5"/><line x1="762" y1="80" x2="768.5" y2="80" stroke="#909090" stroke-width="0.5"/><path d="M789 78.02h1.2v1.49h-1.2zM790.52 78.02h1.48v1.72h-1.48zM792.28 78.16h0.75v1.46h-0.75zM793.43 78.02h1.23v1.69h-1.23z" fill="#c0c0c0" opacity="0.75"/><line x1="787.5" y1="82.5" x2="789.5" y2="80" stroke="#909090" stroke-width="0.5"/><line x1="789" y1="80" x2="795.5" y2="80" stroke="#909090" stroke-width="0.5"/><line x1="647.2" y1="203.7" x2="852.4" y2="203.7" stroke="#00b000" stroke-width="0.9"/><line x1="647.2" y1="207.3" x2="852.4" y2="207.3" stroke="#00b000" stroke-width="0.9"/><circle cx="647.2" cy="212.1" r="1.5" fill="none" stroke="#00b000" stroke-width="0.8"/><line x1="647.2" y1="190.5" x2="647.2" y2="210.6" stroke="#00b000" stroke-width="0.9"/><path d="M650.3 200.62h1.2v1.59h-1.2zM651.86 200.75h1.21v1.56h-1.21zM653.39 200.51h0.91v1.76h-0.91z" fill="#e0e0e0" opacity="0.8"/><circle cx="657.4" cy="212.1" r="1.5" fill="none" stroke="#00b000" stroke-width="0.8"/><line x1="657.4" y1="190.5" x2="657.4" y2="210.6" stroke="#00b000" stroke-width="0.9"/><path d="M661.65 200.65h1.1v1.43h-1.1zM663.21 200.73h0.74v1.44h-0.74zM664.22 200.46h1.43v1.88h-1.43z" fill="#e0e0e0" opacity="0.8"/><circle cx="669.9" cy="212.1" r="1.5" fill="none" stroke="#00b000" stroke-width="0.8"/><line x1="669.9" y1="190.5" x2="669.9" y2="210.6" stroke="#00b000" stroke-width="0.9"/><path d="M673.65 200.8h1.31v1.53h-1.31zM675.22 200.45h1.53v1.46h-1.53zM677.26 200.45h0.39v1.8h-0.39z" fill="#e0e0e0" opacity="0.8"/><circle cx="681.4" cy="212.1" r="1.5" fill="none" stroke="#00b000" stroke-width="0.8"/><line x1="681.4" y1="190.5" x2="681.4" y2="210.6" stroke="#00b000" stroke-width="0.9"/><path d="M684.5 200.79h1.32v1.43h-1.32zM686.03 200.67h1.45v1.54h-1.45zM687.81 200.42h0.69v1.95h-0.69z" fill="#e0e0e0" opacity="0.8"/><circle cx="691.6" cy="212.1" r="1.5" fill="none" stroke="#00b000" stroke-width="0.8"/><line x1="691.6" y1="190.5" x2="691.6" y2="210.6" stroke="#00b000" stroke-width="0.9"/><path d="M694.4 200.4h0.84v1.99h-0.84zM695.45 200.65h1.04v1.53h-1.04zM696.73 200.63h1.12v1.66h-1.12zM698.09 200.45h0.31v1.95h-0.31z" fill="#e0e0e0" opacity="0.8"/><circle cx="701.2" cy="212.1" r="1.5" fill="none" stroke="#00b000" stroke-width="0.8"/><line x1="701.2" y1="190.5" x2="701.2" y2="210.6" stroke="#00b000" stroke-width="0.9"/><path d="M702.3 200.69h1.17v1.61h-1.17zM703.87 200.67h1.54v1.69h-1.54zM705.85 200.54h0.45v1.48h-0.45z" fill="#e0e0e0" opacity="0.8"/><circle cx="707.4" cy="212.1" r="1.5" fill="none" stroke="#00b000" stroke-width="0.8"/><line x1="707.4" y1="190.5" x2="707.4" y2="210.6" stroke="#00b000" stroke-width="0.9"/><path d="M708.7 200.4h1.46v1.95h-1.46zM710.6 200.42h1.57v1.97h-1.57zM712.39 200.74h0.31v1.55h-0.31z" fill="#e0e0e0" opacity="0.8"/><circle cx="714" cy="212.1" r="1.5" fill="none" stroke="#00b000" stroke-width="0.8"/><line x1="714" y1="190.5" x2="714" y2="210.6" stroke="#00b000" stroke-width="0.9"/><path d="M718 200.71h1.41v1.44h-1.41zM719.65 200.51h1.2v1.76h-1.2zM721.06 200.43h0.94v1.79h-0.94z" fill="#e0e0e0" opacity="0.8"/><circle cx="726" cy="212.1" r="1.5" fill="none" stroke="#00b000" stroke-width="0.8"/><line x1="726" y1="190.5" x2="726" y2="210.6" stroke="#00b000" stroke-width="0.9"/><path d="M728.8 200.43h1.02v1.8h-1.02zM730.09 200.48h1.55v1.91h-1.55zM732.02 200.41h0.78v1.93h-0.78z" fill="#e0e0e0" opacity="0.8"/><circle cx="735.6" cy="212.1" r="1.5" fill="none" stroke="#00b000" stroke-width="0.8"/><line x1="735.6" y1="190.5" x2="735.6" y2="210.6" stroke="#00b000" stroke-width="0.9"/><path d="M738.65 200.45h1.18v1.68h-1.18zM740.25 200.59h1.16v1.52h-1.16zM741.68 200.44h0.81v1.92h-0.81z" fill="#e0e0e0" opacity="0.8"/><circle cx="745.7" cy="212.1" r="1.5" fill="none" stroke="#00b000" stroke-width="0.8"/><line x1="745.7" y1="190.5" x2="745.7" y2="210.6" stroke="#00b000" stroke-width="0.9"/><path d="M749.85 200.64h0.71v1.69h-0.71zM750.99 200.42h1.32v1.85h-1.32zM752.62 200.48h0.73v1.71h-0.73z" fill="#e0e0e0" opacity="0.8"/><circle cx="758" cy="212.1" r="1.5" fill="none" stroke="#00b000" stroke-width="0.8"/><line x1="758" y1="190.5" x2="758" y2="210.6" stroke="#00b000" stroke-width="0.9"/><path d="M762 200.67h0.78v1.54h-0.78zM763.29 200.67h1.34v1.55h-1.34zM765.22 200.55h0.74v1.82h-0.74z" fill="#e0e0e0" opacity="0.8"/><circle cx="770" cy="212.1" r="1.5" fill="none" stroke="#00b000" stroke-width="0.8"/><line x1="770" y1="190.5" x2="770" y2="210.6" stroke="#00b000" stroke-width="0.9"/><path d="M773.1 200.4h1.43v1.95h-1.43zM775.11 200.53h1.07v1.45h-1.07zM776.67 200.46h0.43v1.61h-0.43z" fill="#e0e0e0" opacity="0.8"/><circle cx="780.2" cy="212.1" r="1.5" fill="none" stroke="#00b000" stroke-width="0.8"/><line x1="780.2" y1="190.5" x2="780.2" y2="210.6" stroke="#00b000" stroke-width="0.9"/><path d="M783 200.41h0.9v1.99h-0.9zM784.41 200.52h1.13v1.87h-1.13zM786.05 200.59h0.95v1.78h-0.95z" fill="#e0e0e0" opacity="0.8"/><circle cx="789.8" cy="212.1" r="1.5" fill="none" stroke="#00b000" stroke-width="0.8"/><line x1="789.8" y1="190.5" x2="789.8" y2="210.6" stroke="#00b000" stroke-width="0.9"/><path d="M794.05 200.46h0.78v1.61h-0.78zM795.42 200.83h1.31v1.48h-1.31zM797.3 200.48h0.75v1.9h-0.75z" fill="#e0e0e0" opacity="0.8"/><circle cx="802.3" cy="212.1" r="1.5" fill="none" stroke="#00b000" stroke-width="0.8"/><line x1="802.3" y1="190.5" x2="802.3" y2="210.6" stroke="#00b000" stroke-width="0.9"/><path d="M806.35 200.51h1.09v1.87h-1.09zM807.76 200.4h1.56v1.97h-1.56zM809.91 200.42h0.44v1.9h-0.44z" fill="#e0e0e0" opacity="0.8"/><circle cx="814.4" cy="212.1" r="1.5" fill="none" stroke="#00b000" stroke-width="0.8"/><line x1="814.4" y1="190.5" x2="814.4" y2="210.6" stroke="#00b000" stroke-width="0.9"/><path d="M817.55 200.68h1.11v1.7h-1.11zM819.14 200.5h1.34v1.87h-1.34zM820.95 200.43h0.6v1.64h-0.6z" fill="#e0e0e0" opacity="0.8"/><circle cx="824.7" cy="212.1" r="1.5" fill="none" stroke="#00b000" stroke-width="0.8"/><line x1="824.7" y1="190.5" x2="824.7" y2="210.6" stroke="#00b000" stroke-width="0.9"/><path d="M827.55 200.6h1.45v1.76h-1.45zM829.52 200.47h0.7v1.41h-0.7zM830.75 200.51h0.8v1.67h-0.8z" fill="#e0e0e0" opacity="0.8"/><circle cx="834.4" cy="212.1" r="1.5" fill="none" stroke="#00b000" stroke-width="0.8"/><line x1="834.4" y1="190.5" x2="834.4" y2="210.6" stroke="#00b000" stroke-width="0.9"/><path d="M841.4 200.47h1.02v1.77h-1.02zM842.65 200.62h0.94v1.67h-0.94zM844.12 200.87h0.81v1.42h-0.81z" fill="#e0e0e0" opacity="0.8"/><circle cx="852.4" cy="212.1" r="1.5" fill="none" stroke="#00b000" stroke-width="0.8"/><line x1="852.4" y1="190.5" x2="852.4" y2="210.6" stroke="#00b000" stroke-width="0.9"/><path d="M748 204.88h0.9v1.5h-0.9zM750.81 204.71h1.59v1.61h-1.59z" fill="#e0e0e0" opacity="0.75"/><line x1="629.8" y1="84.8" x2="629.8" y2="189" stroke="#00b000" stroke-width="0.9"/><line x1="634.6" y1="84.8" x2="634.6" y2="189" stroke="#00b000" stroke-width="0.9"/><circle cx="624.6" cy="84.8" r="1.4" fill="none" stroke="#00b000" stroke-width="0.8"/><line x1="626" y1="84.8" x2="645.6" y2="84.8" stroke="#00b000" stroke-width="0.9"/><path d="M631.21 89.15h1.97v0.7h-1.97zM631.5 90.37h1.46v0.93h-1.46zM631.24 91.84h1.96v1.16h-1.96z" fill="#e0e0e0" opacity="0.75"/><circle cx="624.6" cy="97.5" r="1.4" fill="none" stroke="#00b000" stroke-width="0.8"/><line x1="626" y1="97.5" x2="645.6" y2="97.5" stroke="#00b000" stroke-width="0.9"/><path d="M631.52 105h1.67v0.77h-1.67zM631.4 106.11h1.63v1.3h-1.63zM631.57 107.88h1.62v1.12h-1.62z" fill="#e0e0e0" opacity="0.75"/><circle cx="624.6" cy="116.5" r="1.4" fill="none" stroke="#00b000" stroke-width="0.8"/><line x1="626" y1="116.5" x2="645.6" y2="116.5" stroke="#00b000" stroke-width="0.9"/><path d="M631.32 117.05h1.73v1.45h-1.73zM631.21 119h1.85v1.5h-1.85z" fill="#e0e0e0" opacity="0.75"/><circle cx="624.6" cy="121.6" r="1.4" fill="none" stroke="#00b000" stroke-width="0.8"/><line x1="626" y1="121.6" x2="645.6" y2="121.6" stroke="#00b000" stroke-width="0.9"/><path d="M631.21 123h1.75v0.83h-1.75zM631.53 124.19h1.57v1.37h-1.57zM631.21 125.88h1.99v1.12h-1.99z" fill="#e0e0e0" opacity="0.75"/><circle cx="624.6" cy="128.4" r="1.4" fill="none" stroke="#00b000" stroke-width="0.8"/><line x1="626" y1="128.4" x2="645.6" y2="128.4" stroke="#00b000" stroke-width="0.9"/><circle cx="624.6" cy="131.6" r="1.4" fill="none" stroke="#00b000" stroke-width="0.8"/><line x1="626" y1="131.6" x2="645.6" y2="131.6" stroke="#00b000" stroke-width="0.9"/><path d="M631.22 135.55h1.98v1.31h-1.98zM631.41 137.34h1.75v0.95h-1.75zM631.45 138.8h1.71v0.75h-1.71z" fill="#e0e0e0" opacity="0.75"/><circle cx="624.6" cy="143.5" r="1.4" fill="none" stroke="#00b000" stroke-width="0.8"/><line x1="626" y1="143.5" x2="645.6" y2="143.5" stroke="#00b000" stroke-width="0.9"/><circle cx="624.6" cy="146.6" r="1.4" fill="none" stroke="#00b000" stroke-width="0.8"/><line x1="626" y1="146.6" x2="645.6" y2="146.6" stroke="#00b000" stroke-width="0.9"/><path d="M631.22 147.95h1.59v1.36h-1.59zM631.21 151.26h1.97v0.69h-1.97z" fill="#e0e0e0" opacity="0.75"/><circle cx="624.6" cy="153.3" r="1.4" fill="none" stroke="#00b000" stroke-width="0.8"/><line x1="626" y1="153.3" x2="645.6" y2="153.3" stroke="#00b000" stroke-width="0.9"/><path d="M631.37 153.9h1.56v1.09h-1.56zM631.63 155.35h1.52v1.57h-1.52zM631.24 157.3h1.87v0.6h-1.87z" fill="#e0e0e0" opacity="0.75"/><circle cx="624.6" cy="158.5" r="1.4" fill="none" stroke="#00b000" stroke-width="0.8"/><line x1="626" y1="158.5" x2="645.6" y2="158.5" stroke="#00b000" stroke-width="0.9"/><path d="M631.38 171.75h1.74v1.38h-1.74zM631.23 173.63h1.95v0.95h-1.95zM631.21 174.9h1.86v0.85h-1.86z" fill="#e0e0e0" opacity="0.75"/><circle cx="624.6" cy="189" r="1.4" fill="none" stroke="#00b000" stroke-width="0.8"/><line x1="626" y1="189" x2="645.6" y2="189" stroke="#00b000" stroke-width="0.9"/><path d="M626.81 135h1.77v1.21h-1.77zM626.89 136.51h1.67v0.76h-1.67zM627.04 137.64h1.43v1.43h-1.43zM626.85 139.65h1.68v0.35h-1.68z" fill="#e0e0e0" opacity="0.7"/><line x1="865.5" y1="84.8" x2="865.5" y2="189" stroke="#00b000" stroke-width="0.9"/><line x1="870.8" y1="84.8" x2="870.8" y2="189" stroke="#00b000" stroke-width="0.9"/><circle cx="875.5" cy="84.8" r="1.4" fill="none" stroke="#00b000" stroke-width="0.8"/><line x1="856" y1="84.8" x2="874" y2="84.8" stroke="#00b000" stroke-width="0.9"/><path d="M864.49 88.9h1.64v1.37h-1.64zM864.35 90.61h1.72v0.87h-1.72zM864.23 91.94h1.6v0.96h-1.6z" fill="#e0e0e0" opacity="0.75"/><circle cx="875.5" cy="97" r="1.4" fill="none" stroke="#00b000" stroke-width="0.8"/><line x1="853.7" y1="97" x2="874" y2="97" stroke="#00b000" stroke-width="0.9"/><path d="M864.32 101.4h1.8v1.15h-1.8zM864.27 102.91h1.91v1.22h-1.91zM864.27 104.67h1.85v0.73h-1.85z" fill="#e0e0e0" opacity="0.75"/><circle cx="875.5" cy="109.8" r="1.4" fill="none" stroke="#00b000" stroke-width="0.8"/><line x1="853.7" y1="109.8" x2="874" y2="109.8" stroke="#00b000" stroke-width="0.9"/><path d="M864.27 118.7h1.89v1.51h-1.89zM864.31 120.76h1.82v0.82h-1.82zM864.23 121.89h1.89v0.76h-1.89z" fill="#e0e0e0" opacity="0.75"/><circle cx="875.5" cy="131.6" r="1.4" fill="none" stroke="#00b000" stroke-width="0.8"/><line x1="853.7" y1="131.6" x2="874" y2="131.6" stroke="#00b000" stroke-width="0.9"/><path d="M864.39 135.55h1.81v0.9h-1.81zM864.67 136.97h1.44v1.02h-1.44zM864.34 138.33h1.48v0.7h-1.48zM864.2 139.25h1.88v0.3h-1.88z" fill="#e0e0e0" opacity="0.75"/><circle cx="875.5" cy="143.5" r="1.4" fill="none" stroke="#00b000" stroke-width="0.8"/><line x1="853.7" y1="143.5" x2="874" y2="143.5" stroke="#00b000" stroke-width="0.9"/><path d="M864.28 149h1.78v0.8h-1.78zM864.23 150.13h1.88v1.21h-1.88zM864.65 151.88h1.42v1.12h-1.42z" fill="#e0e0e0" opacity="0.75"/><circle cx="875.5" cy="158.5" r="1.4" fill="none" stroke="#00b000" stroke-width="0.8"/><line x1="853.7" y1="158.5" x2="874" y2="158.5" stroke="#00b000" stroke-width="0.9"/><path d="M864.55 171.75h1.44v1.15h-1.44zM864.37 173.39h1.71v1.23h-1.71z" fill="#e0e0e0" opacity="0.75"/><circle cx="875.5" cy="189" r="1.4" fill="none" stroke="#00b000" stroke-width="0.8"/><line x1="853.7" y1="189" x2="874" y2="189" stroke="#00b000" stroke-width="0.9"/><circle cx="873.5" cy="128.4" r="1.3" fill="none" stroke="#00b000" stroke-width="0.8"/><line x1="856" y1="128.4" x2="872" y2="128.4" stroke="#00b000" stroke-width="0.8"/><circle cx="873.5" cy="146.6" r="1.3" fill="none" stroke="#00b000" stroke-width="0.8"/><line x1="856" y1="146.6" x2="872" y2="146.6" stroke="#00b000" stroke-width="0.8"/><path d="M868.2 135h1.79v1.57h-1.79zM868.32 136.96h1.63v0.82h-1.63zM868.29 138.16h1.48v1.01h-1.48zM868.26 139.44h1.5v0.56h-1.5z" fill="#e0e0e0" opacity="0.7"/><line x1="645.6" y1="84.5" x2="826.5" y2="84.5" stroke="#909090" stroke-width="1.6"/><line x1="826" y1="96.9" x2="853.9" y2="96.9" stroke="#909090" stroke-width="1.6"/><line x1="826" y1="84" x2="826" y2="97" stroke="#909090" stroke-width="1.4"/><line x1="853.4" y1="96.7" x2="853.4" y2="188.6" stroke="#909090" stroke-width="1.5"/><line x1="645.6" y1="188" x2="853.9" y2="188" stroke="#909090" stroke-width="1.6"/><line x1="646.6" y1="84" x2="646.6" y2="188.6" stroke="#909090" stroke-width="1.5"/><line x1="650" y1="84.5" x2="668" y2="84.5" stroke="#b8b8b8" stroke-width="0.7"/><line x1="672" y1="84.5" x2="689" y2="84.5" stroke="#b8b8b8" stroke-width="0.7"/><line x1="694" y1="84.5" x2="705" y2="84.5" stroke="#b8b8b8" stroke-width="0.7"/><line x1="739" y1="84.5" x2="756" y2="84.5" stroke="#b8b8b8" stroke-width="0.7"/><line x1="760" y1="84.5" x2="778" y2="84.5" stroke="#b8b8b8" stroke-width="0.7"/><line x1="782" y1="84.5" x2="799" y2="84.5" stroke="#b8b8b8" stroke-width="0.7"/><line x1="805" y1="84.5" x2="822" y2="84.5" stroke="#b8b8b8" stroke-width="0.7"/><line x1="649.2" y1="188" x2="655.4" y2="188" stroke="#b8b8b8" stroke-width="0.7"/><line x1="659.4" y1="188" x2="667.9" y2="188" stroke="#b8b8b8" stroke-width="0.7"/><line x1="671.9" y1="188" x2="679.4" y2="188" stroke="#b8b8b8" stroke-width="0.7"/><line x1="683.4" y1="188" x2="689.6" y2="188" stroke="#b8b8b8" stroke-width="0.7"/><line x1="693.6" y1="188" x2="699.2" y2="188" stroke="#b8b8b8" stroke-width="0.7"/><line x1="716" y1="188" x2="724" y2="188" stroke="#b8b8b8" stroke-width="0.7"/><line x1="728" y1="188" x2="733.6" y2="188" stroke="#b8b8b8" stroke-width="0.7"/><line x1="737.6" y1="188" x2="743.7" y2="188" stroke="#b8b8b8" stroke-width="0.7"/><line x1="747.7" y1="188" x2="756" y2="188" stroke="#b8b8b8" stroke-width="0.7"/><line x1="760" y1="188" x2="768" y2="188" stroke="#b8b8b8" stroke-width="0.7"/><line x1="772" y1="188" x2="778.2" y2="188" stroke="#b8b8b8" stroke-width="0.7"/><line x1="782.2" y1="188" x2="787.8" y2="188" stroke="#b8b8b8" stroke-width="0.7"/><line x1="791.8" y1="188" x2="800.3" y2="188" stroke="#b8b8b8" stroke-width="0.7"/><line x1="804.3" y1="188" x2="812.4" y2="188" stroke="#b8b8b8" stroke-width="0.7"/><line x1="816.4" y1="188" x2="822.7" y2="188" stroke="#b8b8b8" stroke-width="0.7"/><line x1="826.7" y1="188" x2="832.4" y2="188" stroke="#b8b8b8" stroke-width="0.7"/><line x1="836.4" y1="188" x2="850.4" y2="188" stroke="#b8b8b8" stroke-width="0.7"/><line x1="646.6" y1="131.6" x2="803" y2="131.6" stroke="#7a7a7a" stroke-width="1.2"/><line x1="646.6" y1="143.5" x2="853.4" y2="143.5" stroke="#7a7a7a" stroke-width="1.2"/><line x1="803" y1="131.6" x2="853.4" y2="131.6" stroke="#7a7a7a" stroke-width="1"/><rect x="645.6" y="83.2" width="3.2" height="3.2" fill="#8c8c8c" stroke="none" stroke-width="1"/><rect x="645.4" y="186.2" width="3.6" height="3.4" fill="#8c8c8c" stroke="none" stroke-width="1"/><rect x="689.9" y="83.2" width="3.2" height="3.2" fill="#8c8c8c" stroke="none" stroke-width="1"/><rect x="689.7" y="186.2" width="3.6" height="3.4" fill="#8c8c8c" stroke="none" stroke-width="1"/><rect x="734.2" y="83.2" width="3.2" height="3.2" fill="#8c8c8c" stroke="none" stroke-width="1"/><rect x="734" y="186.2" width="3.6" height="3.4" fill="#8c8c8c" stroke="none" stroke-width="1"/><rect x="778.6" y="83.2" width="3.2" height="3.2" fill="#8c8c8c" stroke="none" stroke-width="1"/><rect x="778.4" y="186.2" width="3.6" height="3.4" fill="#8c8c8c" stroke="none" stroke-width="1"/><rect x="823" y="83.2" width="3.2" height="3.2" fill="#8c8c8c" stroke="none" stroke-width="1"/><rect x="822.8" y="186.2" width="3.6" height="3.4" fill="#8c8c8c" stroke="none" stroke-width="1"/><rect x="850.2" y="186.2" width="3.6" height="3.4" fill="#8c8c8c" stroke="none" stroke-width="1"/><rect x="646.2" y="116" width="4.6" height="3.6" fill="#8c8c8c" stroke="none" stroke-width="1"/><rect x="646.2" y="155.5" width="4" height="4" fill="#8c8c8c" stroke="none" stroke-width="1"/><rect x="690" y="155.5" width="3.4" height="4" fill="#8c8c8c" stroke="none" stroke-width="1"/><rect x="734.5" y="116" width="2.6" height="3.4" fill="#8c8c8c" stroke="none" stroke-width="1"/><rect x="734.2" y="155.5" width="3.4" height="4" fill="#8c8c8c" stroke="none" stroke-width="1"/><rect x="823" y="154.8" width="4" height="4.4" fill="#8c8c8c" stroke="none" stroke-width="1"/><rect x="851.5" y="95.5" width="3.6" height="3.4" fill="#8c8c8c" stroke="none" stroke-width="1"/><rect x="851" y="156" width="3.6" height="4" fill="#8c8c8c" stroke="none" stroke-width="1"/><rect x="779" y="156" width="3.2" height="3.6" fill="#8c8c8c" stroke="none" stroke-width="1"/><line x1="669" y1="84.5" x2="669" y2="131.6" stroke="#7a7a7a" stroke-width="0.9"/><line x1="670.4" y1="84.5" x2="670.4" y2="131.6" stroke="#7a7a7a" stroke-width="0.9"/><line x1="691" y1="84.5" x2="691" y2="131.6" stroke="#7a7a7a" stroke-width="0.9"/><line x1="692.4" y1="84.5" x2="692.4" y2="131.6" stroke="#7a7a7a" stroke-width="0.9"/><line x1="707.6" y1="84.5" x2="707.6" y2="131.6" stroke="#7a7a7a" stroke-width="0.9"/><line x1="720.3" y1="84.5" x2="720.3" y2="131.6" stroke="#7a7a7a" stroke-width="0.9"/><line x1="735.4" y1="84.5" x2="735.4" y2="131.6" stroke="#7a7a7a" stroke-width="0.9"/><line x1="801.9" y1="84.5" x2="801.9" y2="131.6" stroke="#7a7a7a" stroke-width="0.9"/><line x1="824.8" y1="84.5" x2="824.8" y2="131.6" stroke="#7a7a7a" stroke-width="0.9"/><rect x="648.7" y="95.6" width="7" height="2.6" fill="none" stroke="#a0a0a0" stroke-width="0.7"/><rect x="651.15" y="92.8" width="2.6" height="2.4" fill="none" stroke="#a0a0a0" stroke-width="0.6"/><rect x="660.9" y="95.6" width="7" height="2.6" fill="none" stroke="#a0a0a0" stroke-width="0.7"/><rect x="663.35" y="92.8" width="2.6" height="2.4" fill="none" stroke="#a0a0a0" stroke-width="0.6"/><rect x="648.7" y="104.2" width="7" height="2.6" fill="none" stroke="#a0a0a0" stroke-width="0.7"/><rect x="651.15" y="101.4" width="2.6" height="2.4" fill="none" stroke="#a0a0a0" stroke-width="0.6"/><rect x="660.9" y="104.2" width="7" height="2.6" fill="none" stroke="#a0a0a0" stroke-width="0.7"/><rect x="663.35" y="101.4" width="2.6" height="2.4" fill="none" stroke="#a0a0a0" stroke-width="0.6"/><rect x="648.7" y="112" width="7" height="2.6" fill="none" stroke="#a0a0a0" stroke-width="0.7"/><rect x="651.15" y="109.2" width="2.6" height="2.4" fill="none" stroke="#a0a0a0" stroke-width="0.6"/><rect x="660.9" y="112" width="7" height="2.6" fill="none" stroke="#a0a0a0" stroke-width="0.7"/><rect x="663.35" y="109.2" width="2.6" height="2.4" fill="none" stroke="#a0a0a0" stroke-width="0.6"/><path d="M656 115.91h0.88v2.95h-0.88zM659.41 115.8h1.35v2.44h-1.35zM660.96 115.7h1.48v3.02h-1.48zM662.78 115.6h0.22v3.39h-0.22z" fill="#a0a0a0" opacity="0.7"/><rect x="649.6" y="123" width="7.5" height="7" fill="none" stroke="#7a7a7a" stroke-width="0.7" rx="1.5"/><line x1="658" y1="120" x2="658" y2="131" stroke="#7a7a7a" stroke-width="0.7"/><path d="M661 131A6 6 0 0 1 667 125" fill="none" stroke="#7a7a7a" stroke-width="0.6"/><line x1="666" y1="119" x2="669" y2="119" stroke="#7a7a7a" stroke-width="0.6"/><line x1="666" y1="121.4" x2="669" y2="121.4" stroke="#7a7a7a" stroke-width="0.6"/><line x1="666" y1="123.8" x2="669" y2="123.8" stroke="#7a7a7a" stroke-width="0.6"/><line x1="666" y1="126.2" x2="669" y2="126.2" stroke="#7a7a7a" stroke-width="0.6"/><line x1="666" y1="128.6" x2="669" y2="128.6" stroke="#7a7a7a" stroke-width="0.6"/><line x1="666" y1="117" x2="666" y2="131" stroke="#7a7a7a" stroke-width="0.6"/><path d="M677 89.35h0.86v1.94h-0.86zM678.24 89.69h0.79v1.49h-0.79zM681.53 89.36h1.13v1.48h-1.13zM683.08 89.31h1.16v1.55h-1.16z" fill="#a0a0a0" opacity="0.7"/><path d="M678.43 92.3h1.09v1.63h-1.09zM680.06 92.28h0.82v1.53h-0.82zM681.23 92.06h0.71v1.87h-0.71zM682.16 92.18h1.5v1.44h-1.5zM684.11 92.04h0.89v1.78h-0.89z" fill="#808080" opacity="0.7"/><line x1="680.4" y1="97.4" x2="680.4" y2="120" stroke="#8c0000" stroke-width="1"/><line x1="680.4" y1="120" x2="688" y2="120" stroke="#8c0000" stroke-width="1"/><line x1="680.6" y1="121.5" x2="688" y2="131" stroke="#8c0000" stroke-width="1"/><rect x="678.8" y="95.8" width="3.2" height="3.2" fill="#001800" stroke="none" stroke-width="1"/><rect x="678.8" y="95.8" width="3.2" height="3.2" fill="none" stroke="#00b800" stroke-width="0.7"/><line x1="678.8" y1="95.8" x2="682" y2="99" stroke="#00b800" stroke-width="0.6"/><line x1="682" y1="95.8" x2="678.8" y2="99" stroke="#00b800" stroke-width="0.6"/><rect x="678.8" y="106.2" width="3.2" height="3.2" fill="#001800" stroke="none" stroke-width="1"/><rect x="678.8" y="106.2" width="3.2" height="3.2" fill="none" stroke="#00b800" stroke-width="0.7"/><line x1="678.8" y1="106.2" x2="682" y2="109.4" stroke="#00b800" stroke-width="0.6"/><line x1="682" y1="106.2" x2="678.8" y2="109.4" stroke="#00b800" stroke-width="0.6"/><rect x="678.8" y="118.4" width="3.2" height="3.2" fill="#001800" stroke="none" stroke-width="1"/><rect x="678.8" y="118.4" width="3.2" height="3.2" fill="none" stroke="#00b800" stroke-width="0.7"/><line x1="678.8" y1="118.4" x2="682" y2="121.6" stroke="#00b800" stroke-width="0.6"/><line x1="682" y1="118.4" x2="678.8" y2="121.6" stroke="#00b800" stroke-width="0.6"/><rect x="687.6" y="117.7" width="3.6" height="4" fill="#00d800" stroke="none" stroke-width="1"/><rect x="674.8" y="131" width="3.5" height="1.8" fill="#00c800" stroke="none" stroke-width="1"/><rect x="684" y="131.8" width="9.4" height="2.8" fill="#00a800" stroke="none" stroke-width="1"/><circle cx="687.5" cy="130.4" r="1.4" fill="none" stroke="#00c800" stroke-width="0.8"/><polyline points="677,133 680,138.6 688,138.6" fill="none" stroke="#a0a000" stroke-width="0.8"/><path d="M681 137.92h1.52v1.46h-1.52zM682.77 137.76h0.88v1.75h-0.88zM684.13 137.61h1.1v1.83h-1.1zM685.61 137.64h1.06v1.83h-1.06zM687.13 138.07h1.32v1.49h-1.32zM688.89 137.6h0.11v1.99h-0.11z" fill="#fff" opacity="0.95"/><line x1="692.6" y1="94.5" x2="707.3" y2="94.5" stroke="#7a7a7a" stroke-width="0.7"/><line x1="692.6" y1="96.8" x2="707.3" y2="96.8" stroke="#7a7a7a" stroke-width="0.7"/><line x1="692.6" y1="99.1" x2="707.3" y2="99.1" stroke="#7a7a7a" stroke-width="0.7"/><line x1="692.6" y1="101.4" x2="707.3" y2="101.4" stroke="#7a7a7a" stroke-width="0.7"/><line x1="692.6" y1="103.7" x2="707.3" y2="103.7" stroke="#7a7a7a" stroke-width="0.7"/><line x1="692.6" y1="106" x2="707.3" y2="106" stroke="#7a7a7a" stroke-width="0.7"/><line x1="692.6" y1="108.3" x2="707.3" y2="108.3" stroke="#7a7a7a" stroke-width="0.7"/><line x1="692.6" y1="110.6" x2="707.3" y2="110.6" stroke="#7a7a7a" stroke-width="0.7"/><rect x="699.2" y="93" width="1.2" height="20.5" fill="none" stroke="#a0a0a0" stroke-width="0.6"/><rect x="694" y="89" width="5" height="5" fill="none" stroke="#7a7a7a" stroke-width="0.6"/><line x1="694" y1="116.5" x2="702" y2="116.5" stroke="#ff80ff" stroke-width="1.3"/><polygon points="695,118 700.5,118 697.7,121.5" fill="none" stroke="#7a7a7a" stroke-width="0.6"/><polygon points="695,127 700.5,127 697.7,130.5" fill="none" stroke="#7a7a7a" stroke-width="0.6"/><path d="M696 123.66h1.41v1.78h-1.41zM698.93 123.92h0.73v1.54h-0.73zM701.71 123.51h1.53v1.49h-1.53z" fill="#b0b0b0" opacity="0.8"/><line x1="702.5" y1="112" x2="702.5" y2="131" stroke="#7a7a7a" stroke-width="0.7"/><line x1="705" y1="112" x2="705" y2="122" stroke="#7a7a7a" stroke-width="0.7"/><rect x="709.6" y="87" width="9.3" height="8.7" fill="none" stroke="#7a7a7a" stroke-width="0.8"/><line x1="709.6" y1="87" x2="718.9" y2="95.7" stroke="#7a7a7a" stroke-width="0.6"/><line x1="718.9" y1="87" x2="709.6" y2="95.7" stroke="#7a7a7a" stroke-width="0.6"/><rect x="709.6" y="99.7" width="9.3" height="8.7" fill="none" stroke="#7a7a7a" stroke-width="0.8"/><line x1="709.6" y1="99.7" x2="718.9" y2="108.4" stroke="#7a7a7a" stroke-width="0.6"/><line x1="718.9" y1="99.7" x2="709.6" y2="108.4" stroke="#7a7a7a" stroke-width="0.6"/><rect x="709.6" y="111" width="9.3" height="10" fill="none" stroke="#7a7a7a" stroke-width="0.7"/><rect x="709.6" y="121" width="9.3" height="10" fill="none" stroke="#7a7a7a" stroke-width="0.7"/><line x1="714" y1="111" x2="714" y2="131" stroke="#7a7a7a" stroke-width="0.6"/><line x1="718.9" y1="111.5" x2="721.2" y2="111.5" stroke="#a0a0a0" stroke-width="0.6"/><line x1="718.9" y1="113.3" x2="721.2" y2="113.3" stroke="#a0a0a0" stroke-width="0.6"/><line x1="718.9" y1="115.1" x2="721.2" y2="115.1" stroke="#a0a0a0" stroke-width="0.6"/><line x1="718.9" y1="116.9" x2="721.2" y2="116.9" stroke="#a0a0a0" stroke-width="0.6"/><line x1="718.9" y1="118.7" x2="721.2" y2="118.7" stroke="#a0a0a0" stroke-width="0.6"/><line x1="718.9" y1="120.5" x2="721.2" y2="120.5" stroke="#a0a0a0" stroke-width="0.6"/><line x1="718.9" y1="122.3" x2="721.2" y2="122.3" stroke="#a0a0a0" stroke-width="0.6"/><line x1="718.9" y1="124.1" x2="721.2" y2="124.1" stroke="#a0a0a0" stroke-width="0.6"/><line x1="718.9" y1="125.9" x2="721.2" y2="125.9" stroke="#a0a0a0" stroke-width="0.6"/><line x1="718.9" y1="127.7" x2="721.2" y2="127.7" stroke="#a0a0a0" stroke-width="0.6"/><line x1="718.9" y1="129.5" x2="721.2" y2="129.5" stroke="#a0a0a0" stroke-width="0.6"/><rect x="727.6" y="93.3" width="4" height="9.3" fill="none" stroke="#7a7a7a" stroke-width="0.7" rx="1.2"/><path d="M724 104.06h0.87v1.5h-0.87zM728.21 103.94h1.44v1.77h-1.44zM730.17 103.88h0.77v1.73h-0.77z" fill="#d0d0d0" opacity="0.8"/><path d="M724.5 107.04h0.71v1.27h-0.71zM725.73 106.64h1.11v1.61h-1.11zM728.43 106.72h1.02v1.65h-1.02zM729.99 106.89h0.51v1.42h-0.51z" fill="#909090" opacity="0.7"/><path d="M723 117A5 5 0 0 0 728 112M733 117A5 5 0 0 1 728 112" fill="none" stroke="#7a7a7a" stroke-width="0.6"/><path d="M727.75 117.87h0.71v1.47h-0.71zM728.9 117.72h1.1v1.64h-1.1z" fill="#b0b0b0" opacity="0.7"/><path d="M725.5 123.12h1.52v2.07h-1.52zM727.56 123.18h1.35v1.99h-1.35zM729.28 123.02h1.22v2.16h-1.22z" fill="#c0c0c0" opacity="0.8"/><path d="M725 126.11h0.93v1.45h-0.93zM727.73 126.09h1.54v1.71h-1.54zM729.77 126.01h0.95v1.48h-0.95z" fill="#808080" opacity="0.7"/><line x1="744.2" y1="90.5" x2="744.2" y2="109" stroke="#7a7a7a" stroke-width="0.6"/><rect x="739.2" y="92.2" width="3" height="2.8" fill="none" stroke="#a0a0a0" stroke-width="0.6"/><rect x="739.2" y="96.7" width="3" height="2.8" fill="none" stroke="#a0a0a0" stroke-width="0.6"/><rect x="739.2" y="101" width="3" height="2.8" fill="none" stroke="#a0a0a0" stroke-width="0.6"/><rect x="739.2" y="105.7" width="3" height="2.8" fill="none" stroke="#a0a0a0" stroke-width="0.6"/><line x1="751" y1="90.5" x2="751" y2="109" stroke="#7a7a7a" stroke-width="0.6"/><rect x="746" y="92.2" width="3" height="2.8" fill="none" stroke="#a0a0a0" stroke-width="0.6"/><rect x="746" y="96.7" width="3" height="2.8" fill="none" stroke="#a0a0a0" stroke-width="0.6"/><rect x="746" y="101" width="3" height="2.8" fill="none" stroke="#a0a0a0" stroke-width="0.6"/><rect x="746" y="105.7" width="3" height="2.8" fill="none" stroke="#a0a0a0" stroke-width="0.6"/><line x1="758" y1="90.5" x2="758" y2="109" stroke="#7a7a7a" stroke-width="0.6"/><rect x="753" y="92.2" width="3" height="2.8" fill="none" stroke="#a0a0a0" stroke-width="0.6"/><rect x="753" y="96.7" width="3" height="2.8" fill="none" stroke="#a0a0a0" stroke-width="0.6"/><rect x="753" y="101" width="3" height="2.8" fill="none" stroke="#a0a0a0" stroke-width="0.6"/><rect x="753" y="105.7" width="3" height="2.8" fill="none" stroke="#a0a0a0" stroke-width="0.6"/><line x1="764.8" y1="90.5" x2="764.8" y2="109" stroke="#7a7a7a" stroke-width="0.6"/><rect x="759.8" y="92.2" width="3" height="2.8" fill="none" stroke="#a0a0a0" stroke-width="0.6"/><rect x="759.8" y="96.7" width="3" height="2.8" fill="none" stroke="#a0a0a0" stroke-width="0.6"/><rect x="759.8" y="101" width="3" height="2.8" fill="none" stroke="#a0a0a0" stroke-width="0.6"/><rect x="759.8" y="105.7" width="3" height="2.8" fill="none" stroke="#a0a0a0" stroke-width="0.6"/><line x1="771.9" y1="90.5" x2="771.9" y2="109" stroke="#7a7a7a" stroke-width="0.6"/><rect x="766.9" y="92.2" width="3" height="2.8" fill="none" stroke="#a0a0a0" stroke-width="0.6"/><rect x="766.9" y="96.7" width="3" height="2.8" fill="none" stroke="#a0a0a0" stroke-width="0.6"/><rect x="766.9" y="101" width="3" height="2.8" fill="none" stroke="#a0a0a0" stroke-width="0.6"/><rect x="766.9" y="105.7" width="3" height="2.8" fill="none" stroke="#a0a0a0" stroke-width="0.6"/><line x1="778.6" y1="90.5" x2="778.6" y2="109" stroke="#7a7a7a" stroke-width="0.6"/><rect x="773.6" y="92.2" width="3" height="2.8" fill="none" stroke="#a0a0a0" stroke-width="0.6"/><rect x="773.6" y="96.7" width="3" height="2.8" fill="none" stroke="#a0a0a0" stroke-width="0.6"/><rect x="773.6" y="101" width="3" height="2.8" fill="none" stroke="#a0a0a0" stroke-width="0.6"/><rect x="773.6" y="105.7" width="3" height="2.8" fill="none" stroke="#a0a0a0" stroke-width="0.6"/><line x1="785.6" y1="90.5" x2="785.6" y2="109" stroke="#7a7a7a" stroke-width="0.6"/><rect x="780.6" y="92.2" width="3" height="2.8" fill="none" stroke="#a0a0a0" stroke-width="0.6"/><rect x="780.6" y="96.7" width="3" height="2.8" fill="none" stroke="#a0a0a0" stroke-width="0.6"/><rect x="780.6" y="101" width="3" height="2.8" fill="none" stroke="#a0a0a0" stroke-width="0.6"/><rect x="780.6" y="105.7" width="3" height="2.8" fill="none" stroke="#a0a0a0" stroke-width="0.6"/><rect x="738" y="90.3" width="48" height="18.9" fill="none" stroke="#7a7a7a" stroke-width="0.6"/><path d="M790.78 90.44h1.42v1.46h-1.42zM792.52 90.27h1.26v1.72h-1.26zM795.64 90.04h1.54v1.95h-1.54zM797.77 90.39h0.78v1.57h-0.78z" fill="#c8c8c8" opacity="0.75"/><path d="M787 94.13h0.86v1.81h-0.86zM788.36 94.01h1.38v1.55h-1.38zM790.21 94.01h0.89v1.98h-0.89zM791.54 94.06h1.29v1.82h-1.29zM793.05 94.05h0.76v1.62h-0.76zM796.89 94.24h0.79v1.65h-0.79zM798.06 94.01h1.36v1.96h-1.36z" fill="#c8c8c8" opacity="0.75"/><path d="M788.94 98.44h0.95v1.51h-0.95zM790.15 98.04h1.29v1.8h-1.29zM792.84 98.03h1.29v1.53h-1.29zM794.34 98.01h1.47v1.98h-1.47zM797.42 98.13h1.03v1.47h-1.03zM798.96 98.03h0.96v1.86h-0.96z" fill="#c8c8c8" opacity="0.75"/><path d="M787 102.24h0.9v1.62h-0.9zM788.29 102.17h1.48v1.8h-1.48zM790.06 102.24h0.73v1.47h-0.73zM791.27 102.05h0.78v1.69h-0.78zM792.35 102.2h1.1v1.44h-1.1zM793.83 102.12h1.54v1.44h-1.54zM797.67 102.02h1.47v1.97h-1.47z" fill="#c8c8c8" opacity="0.75"/><path d="M787 106.02h0.77v1.95h-0.77zM788.27 106.08h0.77v1.59h-0.77zM789.5 106h1.03v1.99h-1.03zM791.91 106.08h0.72v1.84h-0.72zM797.66 106.28h1.51v1.54h-1.51zM799.73 106.25h0.27v1.42h-0.27z" fill="#c8c8c8" opacity="0.75"/><path d="M788.31 110h1.55v1.81h-1.55zM790.43 110.28h0.91v1.71h-0.91zM793.62 110h1.45v2h-1.45zM795.36 110.12h1.57v1.64h-1.57zM797.39 110.42h0.72v1.5h-0.72zM798.31 110.18h1.25v1.67h-1.25z" fill="#c8c8c8" opacity="0.75"/><rect x="789" y="92" width="10" height="5" fill="none" stroke="#a0a0a0" stroke-width="0.6"/><rect x="789" y="101" width="10" height="5" fill="none" stroke="#a0a0a0" stroke-width="0.6"/><path d="M753.6 111.66h0.82v1.33h-0.82zM754.68 111.4h0.82v1.57h-0.82zM755.73 111.3h0.91v1.58h-0.91zM757 111.27h1.5v1.72h-1.5zM758.81 111.67h1.55v1.29h-1.55zM760.6 111.57h0.72v1.42h-0.72zM761.86 111.27h1.08v1.72h-1.08zM763.4 111.47h1.16v1.39h-1.16zM767.01 111.23h0.87v1.74h-0.87zM768.15 111.35h1.32v1.39h-1.32zM769.88 111.29h1.31v1.66h-1.31zM771.58 111.45h1.3v1.27h-1.3zM773.36 111.62h1.34v1.36h-1.34zM775.21 111.2h0.91v1.78h-0.91zM778.34 111.34h1.36v1.62h-1.36zM779.96 111.21h0.9v1.4h-0.9zM781.11 111.49h1.07v1.3h-1.07zM782.75 111.27h1.22v1.64h-1.22zM784.24 111.23h1.13v1.63h-1.13z" fill="#d8d8d8" opacity="0.8"/><line x1="746.5" y1="116" x2="801.9" y2="116" stroke="#7a7a7a" stroke-width="0.8"/><line x1="746.5" y1="116" x2="746.5" y2="131.6" stroke="#7a7a7a" stroke-width="0.8"/><line x1="757" y1="116" x2="757" y2="131.6" stroke="#7a7a7a" stroke-width="0.7"/><line x1="768" y1="116" x2="768" y2="131.6" stroke="#7a7a7a" stroke-width="0.7"/><line x1="779" y1="116" x2="779" y2="131.6" stroke="#7a7a7a" stroke-width="0.7"/><line x1="790" y1="116" x2="790" y2="131.6" stroke="#7a7a7a" stroke-width="0.7"/><rect x="747.98" y="118" width="4.63" height="2.44" fill="none" stroke="#7a7a7a" stroke-width="0.6"/><rect x="748.75" y="122.5" width="3.2" height="2.02" fill="none" stroke="#7a7a7a" stroke-width="0.6"/><rect x="748.02" y="127" width="3.7" height="3.19" fill="none" stroke="#a0a0a0" stroke-width="0.6"/><rect x="759.67" y="118" width="4.43" height="2.77" fill="none" stroke="#a0a0a0" stroke-width="0.6"/><rect x="759.27" y="122.5" width="5.6" height="2.63" fill="none" stroke="#7a7a7a" stroke-width="0.6"/><rect x="759.34" y="127" width="3.19" height="2.91" fill="none" stroke="#7a7a7a" stroke-width="0.6"/><rect x="769.6" y="118" width="3.09" height="3.04" fill="none" stroke="#a0a0a0" stroke-width="0.6"/><rect x="770.44" y="122.5" width="5.64" height="2.86" fill="none" stroke="#7a7a7a" stroke-width="0.6"/><rect x="769.79" y="127" width="5.4" height="2.53" fill="none" stroke="#7a7a7a" stroke-width="0.6"/><rect x="781.76" y="118" width="3.29" height="2.16" fill="none" stroke="#a0a0a0" stroke-width="0.6"/><rect x="781.93" y="122.5" width="4.31" height="2.75" fill="none" stroke="#a0a0a0" stroke-width="0.6"/><rect x="781.01" y="127" width="4.16" height="2.42" fill="none" stroke="#7a7a7a" stroke-width="0.6"/><rect x="792.17" y="118" width="5.71" height="2.82" fill="none" stroke="#7a7a7a" stroke-width="0.6"/><rect x="792.71" y="122.5" width="5.97" height="2.81" fill="none" stroke="#a0a0a0" stroke-width="0.6"/><rect x="792.72" y="127" width="5.89" height="3.09" fill="none" stroke="#7a7a7a" stroke-width="0.6"/><rect x="777" y="115" width="7" height="6" fill="#606060" stroke="none" stroke-width="1"/><path d="M737 124.06h1.57v1.81h-1.57zM739.02 124.35h1.33v1.44h-1.33zM740.67 124.19h0.93v1.67h-0.93zM742.16 124.3h1.23v1.34h-1.23zM743.88 124.1h0.95v1.33h-0.95zM745.3 124.3h0.7v1.48h-0.7z" fill="#ffffff" opacity="0.95"/><path d="M737 131A5 5 0 0 1 742 126" fill="none" stroke="#7a7a7a" stroke-width="0.6"/><path d="M746 131A5 5 0 0 0 741.5 126" fill="none" stroke="#7a7a7a" stroke-width="0.6"/><rect x="803.5" y="94.5" width="7" height="2.8" fill="none" stroke="#a0a0a0" stroke-width="0.7"/><rect x="805.95" y="91.7" width="2.6" height="2.4" fill="none" stroke="#a0a0a0" stroke-width="0.6"/><rect x="816.5" y="94.5" width="6.5" height="2.8" fill="none" stroke="#a0a0a0" stroke-width="0.7"/><rect x="818.77" y="91.7" width="2.6" height="2.4" fill="none" stroke="#a0a0a0" stroke-width="0.6"/><rect x="803.5" y="102.5" width="7" height="2.8" fill="none" stroke="#a0a0a0" stroke-width="0.7"/><rect x="805.95" y="99.7" width="2.6" height="2.4" fill="none" stroke="#a0a0a0" stroke-width="0.6"/><rect x="816.5" y="102.5" width="6.5" height="2.8" fill="none" stroke="#a0a0a0" stroke-width="0.7"/><rect x="818.77" y="99.7" width="2.6" height="2.4" fill="none" stroke="#a0a0a0" stroke-width="0.6"/><path d="M807.4 108.94h0.72v1.96h-0.72zM808.38 109.07h1v1.59h-1zM809.77 108.99h0.93v1.45h-0.93zM810.94 109.25h1.26v1.56h-1.26zM812.69 109.35h1.01v1.51h-1.01zM814.12 108.97h0.75v1.82h-0.75zM815.36 108.91h0.04v1.88h-0.04z" fill="#d0d0d0" opacity="0.8"/><path d="M808 111.68h0.87v1.69h-0.87zM809.16 111.63h0.78v1.57h-0.78zM810.23 111.65h1.22v1.6h-1.22zM811.75 111.6h1.08v1.65h-1.08zM813.32 111.73h0.9v1.61h-0.9zM814.67 111.85h0.33v1.43h-0.33z" fill="#909090" opacity="0.7"/><rect x="813.7" y="121" width="3.4" height="8" fill="none" stroke="#7a7a7a" stroke-width="0.7" rx="1"/><rect x="818.5" y="121" width="3.4" height="8" fill="none" stroke="#7a7a7a" stroke-width="0.7" rx="1"/><path d="M803 131A6 6 0 0 1 809 125" fill="none" stroke="#7a7a7a" stroke-width="0.6"/><rect x="822.6" y="107" width="3.4" height="4" fill="#8c8c8c" stroke="none" stroke-width="1"/><rect x="823" y="120" width="3.6" height="3.6" fill="#8c8c8c" stroke="none" stroke-width="1"/><rect x="826" y="97" width="11.5" height="2.6" fill="#5c5c5c" stroke="none" stroke-width="1"/><rect x="827" y="100" width="9.3" height="8.5" fill="none" stroke="#7a7a7a" stroke-width="0.8"/><line x1="827" y1="100" x2="836.3" y2="108.5" stroke="#7a7a7a" stroke-width="0.6"/><line x1="836.3" y1="100" x2="827" y2="108.5" stroke="#7a7a7a" stroke-width="0.6"/><line x1="838" y1="97" x2="838" y2="131.6" stroke="#7a7a7a" stroke-width="0.9"/><rect x="840.5" y="101.4" width="11" height="24.6" fill="none" stroke="#7a7a7a" stroke-width="0.7"/><rect x="844.5" y="104" width="1.5" height="20" fill="none" stroke="#a0a0a0" stroke-width="0.6"/><line x1="840.5" y1="108" x2="851.5" y2="108" stroke="#7a7a7a" stroke-width="0.6"/><line x1="840.5" y1="110.3" x2="851.5" y2="110.3" stroke="#7a7a7a" stroke-width="0.6"/><line x1="840.5" y1="112.6" x2="851.5" y2="112.6" stroke="#7a7a7a" stroke-width="0.6"/><line x1="840.5" y1="114.9" x2="851.5" y2="114.9" stroke="#7a7a7a" stroke-width="0.6"/><line x1="840.5" y1="117.2" x2="851.5" y2="117.2" stroke="#7a7a7a" stroke-width="0.6"/><line x1="840.5" y1="119.5" x2="851.5" y2="119.5" stroke="#7a7a7a" stroke-width="0.6"/><line x1="840.5" y1="121.8" x2="851.5" y2="121.8" stroke="#7a7a7a" stroke-width="0.6"/><line x1="840.5" y1="124.1" x2="851.5" y2="124.1" stroke="#7a7a7a" stroke-width="0.6"/><path d="M827 112.12h0.84v2.05h-0.84zM828.33 112.14h1.56v1.74h-1.56zM830.38 112.03h0.75v1.6h-0.75zM832.92 112.29h1.12v1.62h-1.12zM834.45 112.24h1.03v1.89h-1.03zM835.72 112.09h0.28v1.86h-0.28z" fill="#c0c0c0" opacity="0.8"/><rect x="828.5" y="117" width="3" height="8" fill="none" stroke="#7a7a7a" stroke-width="0.7"/><rect x="833" y="117" width="3" height="8" fill="none" stroke="#7a7a7a" stroke-width="0.7"/><path d="M829 131.6A5 5 0 0 1 834 126.6" fill="none" stroke="#7a7a7a" stroke-width="0.6"/><path d="M748 134.4h0.9v1.52h-0.9zM749.41 134.24h1.03v1.76h-1.03zM750.89 134.25h0.79v1.6h-0.79z" fill="#c0c0c0" opacity="0.8"/><path d="M747 137.43h1.12v1.42h-1.12zM748.62 137.59h1.39v1.31h-1.39zM750.25 137.7h1.57v1.42h-1.57zM752.07 137.64h0.8v1.35h-0.8zM753.4 137.45h0.6v1.67h-0.6z" fill="#707070" opacity="0.8"/><path d="M830 133.5h0.81v1.78h-0.81z" fill="#c0c0c0" opacity="0.8"/><polyline points="693,133.7 816.5,133.7 816.5,141.1" fill="none" stroke="#8c0000" stroke-width="1"/><line x1="669.4" y1="143.5" x2="669.4" y2="188" stroke="#7a7a7a" stroke-width="1.1"/><line x1="713.7" y1="143.5" x2="713.7" y2="188" stroke="#7a7a7a" stroke-width="1.1"/><line x1="758" y1="143.5" x2="758" y2="188" stroke="#7a7a7a" stroke-width="1.1"/><line x1="803" y1="143.5" x2="803" y2="188" stroke="#7a7a7a" stroke-width="1.1"/><line x1="666.8" y1="143.5" x2="666.8" y2="167" stroke="#7a7a7a" stroke-width="0.7"/><line x1="666.8" y1="145" x2="669.4" y2="145" stroke="#a0a0a0" stroke-width="0.6"/><line x1="666.8" y1="146.9" x2="669.4" y2="146.9" stroke="#a0a0a0" stroke-width="0.6"/><line x1="666.8" y1="148.8" x2="669.4" y2="148.8" stroke="#a0a0a0" stroke-width="0.6"/><line x1="666.8" y1="150.7" x2="669.4" y2="150.7" stroke="#a0a0a0" stroke-width="0.6"/><line x1="666.8" y1="152.6" x2="669.4" y2="152.6" stroke="#a0a0a0" stroke-width="0.6"/><line x1="666.8" y1="154.5" x2="669.4" y2="154.5" stroke="#a0a0a0" stroke-width="0.6"/><line x1="666.8" y1="156.4" x2="669.4" y2="156.4" stroke="#a0a0a0" stroke-width="0.6"/><line x1="666.8" y1="158.3" x2="669.4" y2="158.3" stroke="#a0a0a0" stroke-width="0.6"/><line x1="666.8" y1="160.2" x2="669.4" y2="160.2" stroke="#a0a0a0" stroke-width="0.6"/><line x1="666.8" y1="162.1" x2="669.4" y2="162.1" stroke="#a0a0a0" stroke-width="0.6"/><line x1="666.8" y1="164" x2="669.4" y2="164" stroke="#a0a0a0" stroke-width="0.6"/><line x1="666.8" y1="165.9" x2="669.4" y2="165.9" stroke="#a0a0a0" stroke-width="0.6"/><path d="M661.4 143.8A4.6 4.6 0 0 0 666 148.4" fill="none" stroke="#7a7a7a" stroke-width="0.6"/><rect x="652.4" y="146" width="4.4" height="6.8" fill="none" stroke="#7a7a7a" stroke-width="0.7" rx="1.2"/><rect x="648.8" y="145.6" width="2.6" height="7.6" fill="none" stroke="#7a7a7a" stroke-width="0.6" rx="0.8"/><polygon points="649.1,160 655.8,160 656.4,163.2 648.5,163.2" fill="none" stroke="#a0a0a0" stroke-width="0.7"/><rect x="651.03" y="163.6" width="2.8" height="2.4" fill="none" stroke="#a0a0a0" stroke-width="0.6"/><line x1="650.08" y1="161.4" x2="652.85" y2="161.4" stroke="#7a7a7a" stroke-width="0.5"/><line x1="649.3" y1="167.3" x2="655.6" y2="167.3" stroke="#7a7a7a" stroke-width="0.6" stroke-opacity="0.75"/><polygon points="649.1,169 655.8,169 656.4,172.2 648.5,172.2" fill="none" stroke="#a0a0a0" stroke-width="0.7"/><rect x="651.03" y="172.6" width="2.8" height="2.4" fill="none" stroke="#a0a0a0" stroke-width="0.6"/><line x1="650.08" y1="170.4" x2="652.85" y2="170.4" stroke="#7a7a7a" stroke-width="0.5"/><line x1="649.3" y1="176.3" x2="655.6" y2="176.3" stroke="#7a7a7a" stroke-width="0.6" stroke-opacity="0.75"/><polygon points="649.1,177.8 655.8,177.8 656.4,181 648.5,181" fill="none" stroke="#a0a0a0" stroke-width="0.7"/><rect x="651.03" y="181.4" width="2.8" height="2.4" fill="none" stroke="#a0a0a0" stroke-width="0.6"/><line x1="650.08" y1="179.2" x2="652.85" y2="179.2" stroke="#7a7a7a" stroke-width="0.5"/><line x1="649.3" y1="185.1" x2="655.6" y2="185.1" stroke="#7a7a7a" stroke-width="0.6" stroke-opacity="0.75"/><polygon points="659.8,169 666.5,169 667.1,172.2 659.2,172.2" fill="none" stroke="#a0a0a0" stroke-width="0.7"/><rect x="661.73" y="172.6" width="2.8" height="2.4" fill="none" stroke="#a0a0a0" stroke-width="0.6"/><line x1="660.78" y1="170.4" x2="663.54" y2="170.4" stroke="#7a7a7a" stroke-width="0.5"/><line x1="660" y1="176.3" x2="666.3" y2="176.3" stroke="#7a7a7a" stroke-width="0.6" stroke-opacity="0.75"/><polygon points="659.8,177.8 666.5,177.8 667.1,181 659.2,181" fill="none" stroke="#a0a0a0" stroke-width="0.7"/><rect x="661.73" y="181.4" width="2.8" height="2.4" fill="none" stroke="#a0a0a0" stroke-width="0.6"/><line x1="660.78" y1="179.2" x2="663.54" y2="179.2" stroke="#7a7a7a" stroke-width="0.5"/><line x1="660" y1="185.1" x2="666.3" y2="185.1" stroke="#7a7a7a" stroke-width="0.6" stroke-opacity="0.75"/><path d="M655.9 170.31h0.96v1.65h-0.96zM658.23 170.3h1.43v1.39h-1.43zM660.05 170.23h0.45v1.72h-0.45z" fill="#d8d8d8" opacity="0.8"/><line x1="658.3" y1="167.5" x2="658.3" y2="186" stroke="#7a7a7a" stroke-width="0.6"/><line x1="672" y1="143.5" x2="672" y2="167" stroke="#7a7a7a" stroke-width="0.7"/><line x1="669.4" y1="145" x2="672" y2="145" stroke="#a0a0a0" stroke-width="0.6"/><line x1="669.4" y1="146.9" x2="672" y2="146.9" stroke="#a0a0a0" stroke-width="0.6"/><line x1="669.4" y1="148.8" x2="672" y2="148.8" stroke="#a0a0a0" stroke-width="0.6"/><line x1="669.4" y1="150.7" x2="672" y2="150.7" stroke="#a0a0a0" stroke-width="0.6"/><line x1="669.4" y1="152.6" x2="672" y2="152.6" stroke="#a0a0a0" stroke-width="0.6"/><line x1="669.4" y1="154.5" x2="672" y2="154.5" stroke="#a0a0a0" stroke-width="0.6"/><line x1="669.4" y1="156.4" x2="672" y2="156.4" stroke="#a0a0a0" stroke-width="0.6"/><line x1="669.4" y1="158.3" x2="672" y2="158.3" stroke="#a0a0a0" stroke-width="0.6"/><line x1="669.4" y1="160.2" x2="672" y2="160.2" stroke="#a0a0a0" stroke-width="0.6"/><line x1="669.4" y1="162.1" x2="672" y2="162.1" stroke="#a0a0a0" stroke-width="0.6"/><line x1="669.4" y1="164" x2="672" y2="164" stroke="#a0a0a0" stroke-width="0.6"/><line x1="669.4" y1="165.9" x2="672" y2="165.9" stroke="#a0a0a0" stroke-width="0.6"/><path d="M677.4 143.8A4.6 4.6 0 0 1 672.8 148.4" fill="none" stroke="#7a7a7a" stroke-width="0.6"/><rect x="681.9" y="146" width="4.4" height="6.8" fill="none" stroke="#7a7a7a" stroke-width="0.7" rx="1.2"/><rect x="686.9" y="145.6" width="2.6" height="7.6" fill="none" stroke="#7a7a7a" stroke-width="0.6" rx="0.8"/><polygon points="671.3,169 677.95,169 678.55,172.2 670.7,172.2" fill="none" stroke="#a0a0a0" stroke-width="0.7"/><rect x="673.21" y="172.6" width="2.8" height="2.4" fill="none" stroke="#a0a0a0" stroke-width="0.6"/><line x1="672.27" y1="170.4" x2="675.02" y2="170.4" stroke="#7a7a7a" stroke-width="0.5"/><line x1="671.5" y1="176.3" x2="677.75" y2="176.3" stroke="#7a7a7a" stroke-width="0.6" stroke-opacity="0.75"/><polygon points="671.3,177.8 677.95,177.8 678.55,181 670.7,181" fill="none" stroke="#a0a0a0" stroke-width="0.7"/><rect x="673.21" y="181.4" width="2.8" height="2.4" fill="none" stroke="#a0a0a0" stroke-width="0.6"/><line x1="672.27" y1="179.2" x2="675.02" y2="179.2" stroke="#7a7a7a" stroke-width="0.5"/><line x1="671.5" y1="185.1" x2="677.75" y2="185.1" stroke="#7a7a7a" stroke-width="0.6" stroke-opacity="0.75"/><polygon points="681.95,160 688.6,160 689.2,163.2 681.35,163.2" fill="none" stroke="#a0a0a0" stroke-width="0.7"/><rect x="683.86" y="163.6" width="2.8" height="2.4" fill="none" stroke="#a0a0a0" stroke-width="0.6"/><line x1="682.92" y1="161.4" x2="685.67" y2="161.4" stroke="#7a7a7a" stroke-width="0.5"/><line x1="682.15" y1="167.3" x2="688.4" y2="167.3" stroke="#7a7a7a" stroke-width="0.6" stroke-opacity="0.75"/><polygon points="681.95,169 688.6,169 689.2,172.2 681.35,172.2" fill="none" stroke="#a0a0a0" stroke-width="0.7"/><rect x="683.86" y="172.6" width="2.8" height="2.4" fill="none" stroke="#a0a0a0" stroke-width="0.6"/><line x1="682.92" y1="170.4" x2="685.67" y2="170.4" stroke="#7a7a7a" stroke-width="0.5"/><line x1="682.15" y1="176.3" x2="688.4" y2="176.3" stroke="#7a7a7a" stroke-width="0.6" stroke-opacity="0.75"/><polygon points="681.95,177.8 688.6,177.8 689.2,181 681.35,181" fill="none" stroke="#a0a0a0" stroke-width="0.7"/><rect x="683.86" y="181.4" width="2.8" height="2.4" fill="none" stroke="#a0a0a0" stroke-width="0.6"/><line x1="682.92" y1="179.2" x2="685.67" y2="179.2" stroke="#7a7a7a" stroke-width="0.5"/><line x1="682.15" y1="185.1" x2="688.4" y2="185.1" stroke="#7a7a7a" stroke-width="0.6" stroke-opacity="0.75"/><path d="M678.05 170.38h1.37v1.36h-1.37zM679.95 170.61h1.48v1.27h-1.48z" fill="#d8d8d8" opacity="0.8"/><line x1="680.45" y1="167.5" x2="680.45" y2="186" stroke="#7a7a7a" stroke-width="0.6"/><line x1="711.1" y1="143.5" x2="711.1" y2="167" stroke="#7a7a7a" stroke-width="0.7"/><line x1="711.1" y1="145" x2="713.7" y2="145" stroke="#a0a0a0" stroke-width="0.6"/><line x1="711.1" y1="146.9" x2="713.7" y2="146.9" stroke="#a0a0a0" stroke-width="0.6"/><line x1="711.1" y1="148.8" x2="713.7" y2="148.8" stroke="#a0a0a0" stroke-width="0.6"/><line x1="711.1" y1="150.7" x2="713.7" y2="150.7" stroke="#a0a0a0" stroke-width="0.6"/><line x1="711.1" y1="152.6" x2="713.7" y2="152.6" stroke="#a0a0a0" stroke-width="0.6"/><line x1="711.1" y1="154.5" x2="713.7" y2="154.5" stroke="#a0a0a0" stroke-width="0.6"/><line x1="711.1" y1="156.4" x2="713.7" y2="156.4" stroke="#a0a0a0" stroke-width="0.6"/><line x1="711.1" y1="158.3" x2="713.7" y2="158.3" stroke="#a0a0a0" stroke-width="0.6"/><line x1="711.1" y1="160.2" x2="713.7" y2="160.2" stroke="#a0a0a0" stroke-width="0.6"/><line x1="711.1" y1="162.1" x2="713.7" y2="162.1" stroke="#a0a0a0" stroke-width="0.6"/><line x1="711.1" y1="164" x2="713.7" y2="164" stroke="#a0a0a0" stroke-width="0.6"/><line x1="711.1" y1="165.9" x2="713.7" y2="165.9" stroke="#a0a0a0" stroke-width="0.6"/><path d="M705.7 143.8A4.6 4.6 0 0 0 710.3 148.4" fill="none" stroke="#7a7a7a" stroke-width="0.6"/><rect x="696.7" y="146" width="4.4" height="6.8" fill="none" stroke="#7a7a7a" stroke-width="0.7" rx="1.2"/><rect x="693.1" y="145.6" width="2.6" height="7.6" fill="none" stroke="#7a7a7a" stroke-width="0.6" rx="0.8"/><polygon points="693.4,160 700.1,160 700.7,163.2 692.8,163.2" fill="none" stroke="#a0a0a0" stroke-width="0.7"/><rect x="695.33" y="163.6" width="2.8" height="2.4" fill="none" stroke="#a0a0a0" stroke-width="0.6"/><line x1="694.38" y1="161.4" x2="697.14" y2="161.4" stroke="#7a7a7a" stroke-width="0.5"/><line x1="693.6" y1="167.3" x2="699.9" y2="167.3" stroke="#7a7a7a" stroke-width="0.6" stroke-opacity="0.75"/><polygon points="693.4,169 700.1,169 700.7,172.2 692.8,172.2" fill="none" stroke="#a0a0a0" stroke-width="0.7"/><rect x="695.33" y="172.6" width="2.8" height="2.4" fill="none" stroke="#a0a0a0" stroke-width="0.6"/><line x1="694.38" y1="170.4" x2="697.14" y2="170.4" stroke="#7a7a7a" stroke-width="0.5"/><line x1="693.6" y1="176.3" x2="699.9" y2="176.3" stroke="#7a7a7a" stroke-width="0.6" stroke-opacity="0.75"/><polygon points="693.4,177.8 700.1,177.8 700.7,181 692.8,181" fill="none" stroke="#a0a0a0" stroke-width="0.7"/><rect x="695.33" y="181.4" width="2.8" height="2.4" fill="none" stroke="#a0a0a0" stroke-width="0.6"/><line x1="694.38" y1="179.2" x2="697.14" y2="179.2" stroke="#7a7a7a" stroke-width="0.5"/><line x1="693.6" y1="185.1" x2="699.9" y2="185.1" stroke="#7a7a7a" stroke-width="0.6" stroke-opacity="0.75"/><polygon points="704.1,169 710.8,169 711.4,172.2 703.5,172.2" fill="none" stroke="#a0a0a0" stroke-width="0.7"/><rect x="706.03" y="172.6" width="2.8" height="2.4" fill="none" stroke="#a0a0a0" stroke-width="0.6"/><line x1="705.08" y1="170.4" x2="707.85" y2="170.4" stroke="#7a7a7a" stroke-width="0.5"/><line x1="704.3" y1="176.3" x2="710.6" y2="176.3" stroke="#7a7a7a" stroke-width="0.6" stroke-opacity="0.75"/><polygon points="704.1,177.8 710.8,177.8 711.4,181 703.5,181" fill="none" stroke="#a0a0a0" stroke-width="0.7"/><rect x="706.03" y="181.4" width="2.8" height="2.4" fill="none" stroke="#a0a0a0" stroke-width="0.6"/><line x1="705.08" y1="179.2" x2="707.85" y2="179.2" stroke="#7a7a7a" stroke-width="0.5"/><line x1="704.3" y1="185.1" x2="710.6" y2="185.1" stroke="#7a7a7a" stroke-width="0.6" stroke-opacity="0.75"/><path d="M700.2 170.35h1.46v1.4h-1.46zM702.01 170.31h1.02v1.32h-1.02zM703.59 170.25h1.07v1.74h-1.07z" fill="#d8d8d8" opacity="0.8"/><line x1="702.6" y1="167.5" x2="702.6" y2="186" stroke="#7a7a7a" stroke-width="0.6"/><line x1="716.3" y1="143.5" x2="716.3" y2="167" stroke="#7a7a7a" stroke-width="0.7"/><line x1="713.7" y1="145" x2="716.3" y2="145" stroke="#a0a0a0" stroke-width="0.6"/><line x1="713.7" y1="146.9" x2="716.3" y2="146.9" stroke="#a0a0a0" stroke-width="0.6"/><line x1="713.7" y1="148.8" x2="716.3" y2="148.8" stroke="#a0a0a0" stroke-width="0.6"/><line x1="713.7" y1="150.7" x2="716.3" y2="150.7" stroke="#a0a0a0" stroke-width="0.6"/><line x1="713.7" y1="152.6" x2="716.3" y2="152.6" stroke="#a0a0a0" stroke-width="0.6"/><line x1="713.7" y1="154.5" x2="716.3" y2="154.5" stroke="#a0a0a0" stroke-width="0.6"/><line x1="713.7" y1="156.4" x2="716.3" y2="156.4" stroke="#a0a0a0" stroke-width="0.6"/><line x1="713.7" y1="158.3" x2="716.3" y2="158.3" stroke="#a0a0a0" stroke-width="0.6"/><line x1="713.7" y1="160.2" x2="716.3" y2="160.2" stroke="#a0a0a0" stroke-width="0.6"/><line x1="713.7" y1="162.1" x2="716.3" y2="162.1" stroke="#a0a0a0" stroke-width="0.6"/><line x1="713.7" y1="164" x2="716.3" y2="164" stroke="#a0a0a0" stroke-width="0.6"/><line x1="713.7" y1="165.9" x2="716.3" y2="165.9" stroke="#a0a0a0" stroke-width="0.6"/><path d="M721.7 143.8A4.6 4.6 0 0 1 717.1 148.4" fill="none" stroke="#7a7a7a" stroke-width="0.6"/><rect x="726.2" y="146" width="4.4" height="6.8" fill="none" stroke="#7a7a7a" stroke-width="0.7" rx="1.2"/><rect x="731.2" y="145.6" width="2.6" height="7.6" fill="none" stroke="#7a7a7a" stroke-width="0.6" rx="0.8"/><polygon points="715.6,169 722.25,169 722.85,172.2 715,172.2" fill="none" stroke="#a0a0a0" stroke-width="0.7"/><rect x="717.51" y="172.6" width="2.8" height="2.4" fill="none" stroke="#a0a0a0" stroke-width="0.6"/><line x1="716.57" y1="170.4" x2="719.32" y2="170.4" stroke="#7a7a7a" stroke-width="0.5"/><line x1="715.8" y1="176.3" x2="722.05" y2="176.3" stroke="#7a7a7a" stroke-width="0.6" stroke-opacity="0.75"/><polygon points="715.6,177.8 722.25,177.8 722.85,181 715,181" fill="none" stroke="#a0a0a0" stroke-width="0.7"/><rect x="717.51" y="181.4" width="2.8" height="2.4" fill="none" stroke="#a0a0a0" stroke-width="0.6"/><line x1="716.57" y1="179.2" x2="719.32" y2="179.2" stroke="#7a7a7a" stroke-width="0.5"/><line x1="715.8" y1="185.1" x2="722.05" y2="185.1" stroke="#7a7a7a" stroke-width="0.6" stroke-opacity="0.75"/><polygon points="726.25,160 732.9,160 733.5,163.2 725.65,163.2" fill="none" stroke="#a0a0a0" stroke-width="0.7"/><rect x="728.16" y="163.6" width="2.8" height="2.4" fill="none" stroke="#a0a0a0" stroke-width="0.6"/><line x1="727.22" y1="161.4" x2="729.97" y2="161.4" stroke="#7a7a7a" stroke-width="0.5"/><line x1="726.45" y1="167.3" x2="732.7" y2="167.3" stroke="#7a7a7a" stroke-width="0.6" stroke-opacity="0.75"/><polygon points="726.25,169 732.9,169 733.5,172.2 725.65,172.2" fill="none" stroke="#a0a0a0" stroke-width="0.7"/><rect x="728.16" y="172.6" width="2.8" height="2.4" fill="none" stroke="#a0a0a0" stroke-width="0.6"/><line x1="727.22" y1="170.4" x2="729.97" y2="170.4" stroke="#7a7a7a" stroke-width="0.5"/><line x1="726.45" y1="176.3" x2="732.7" y2="176.3" stroke="#7a7a7a" stroke-width="0.6" stroke-opacity="0.75"/><polygon points="726.25,177.8 732.9,177.8 733.5,181 725.65,181" fill="none" stroke="#a0a0a0" stroke-width="0.7"/><rect x="728.16" y="181.4" width="2.8" height="2.4" fill="none" stroke="#a0a0a0" stroke-width="0.6"/><line x1="727.22" y1="179.2" x2="729.97" y2="179.2" stroke="#7a7a7a" stroke-width="0.5"/><line x1="726.45" y1="185.1" x2="732.7" y2="185.1" stroke="#7a7a7a" stroke-width="0.6" stroke-opacity="0.75"/><path d="M722.35 170.2h1.53v1.79h-1.53zM724.38 170.27h1.43v1.61h-1.43zM726.35 170.49h0.6v1.44h-0.6z" fill="#d8d8d8" opacity="0.8"/><line x1="724.75" y1="167.5" x2="724.75" y2="186" stroke="#7a7a7a" stroke-width="0.6"/><line x1="755.4" y1="143.5" x2="755.4" y2="167" stroke="#7a7a7a" stroke-width="0.7"/><line x1="755.4" y1="145" x2="758" y2="145" stroke="#a0a0a0" stroke-width="0.6"/><line x1="755.4" y1="146.9" x2="758" y2="146.9" stroke="#a0a0a0" stroke-width="0.6"/><line x1="755.4" y1="148.8" x2="758" y2="148.8" stroke="#a0a0a0" stroke-width="0.6"/><line x1="755.4" y1="150.7" x2="758" y2="150.7" stroke="#a0a0a0" stroke-width="0.6"/><line x1="755.4" y1="152.6" x2="758" y2="152.6" stroke="#a0a0a0" stroke-width="0.6"/><line x1="755.4" y1="154.5" x2="758" y2="154.5" stroke="#a0a0a0" stroke-width="0.6"/><line x1="755.4" y1="156.4" x2="758" y2="156.4" stroke="#a0a0a0" stroke-width="0.6"/><line x1="755.4" y1="158.3" x2="758" y2="158.3" stroke="#a0a0a0" stroke-width="0.6"/><line x1="755.4" y1="160.2" x2="758" y2="160.2" stroke="#a0a0a0" stroke-width="0.6"/><line x1="755.4" y1="162.1" x2="758" y2="162.1" stroke="#a0a0a0" stroke-width="0.6"/><line x1="755.4" y1="164" x2="758" y2="164" stroke="#a0a0a0" stroke-width="0.6"/><line x1="755.4" y1="165.9" x2="758" y2="165.9" stroke="#a0a0a0" stroke-width="0.6"/><path d="M750 143.8A4.6 4.6 0 0 0 754.6 148.4" fill="none" stroke="#7a7a7a" stroke-width="0.6"/><rect x="741" y="146" width="4.4" height="6.8" fill="none" stroke="#7a7a7a" stroke-width="0.7" rx="1.2"/><rect x="737.4" y="145.6" width="2.6" height="7.6" fill="none" stroke="#7a7a7a" stroke-width="0.6" rx="0.8"/><polygon points="737.7,160 744.4,160 745,163.2 737.1,163.2" fill="none" stroke="#a0a0a0" stroke-width="0.7"/><rect x="739.63" y="163.6" width="2.8" height="2.4" fill="none" stroke="#a0a0a0" stroke-width="0.6"/><line x1="738.68" y1="161.4" x2="741.44" y2="161.4" stroke="#7a7a7a" stroke-width="0.5"/><line x1="737.9" y1="167.3" x2="744.2" y2="167.3" stroke="#7a7a7a" stroke-width="0.6" stroke-opacity="0.75"/><polygon points="737.7,169 744.4,169 745,172.2 737.1,172.2" fill="none" stroke="#a0a0a0" stroke-width="0.7"/><rect x="739.63" y="172.6" width="2.8" height="2.4" fill="none" stroke="#a0a0a0" stroke-width="0.6"/><line x1="738.68" y1="170.4" x2="741.44" y2="170.4" stroke="#7a7a7a" stroke-width="0.5"/><line x1="737.9" y1="176.3" x2="744.2" y2="176.3" stroke="#7a7a7a" stroke-width="0.6" stroke-opacity="0.75"/><polygon points="737.7,177.8 744.4,177.8 745,181 737.1,181" fill="none" stroke="#a0a0a0" stroke-width="0.7"/><rect x="739.63" y="181.4" width="2.8" height="2.4" fill="none" stroke="#a0a0a0" stroke-width="0.6"/><line x1="738.68" y1="179.2" x2="741.44" y2="179.2" stroke="#7a7a7a" stroke-width="0.5"/><line x1="737.9" y1="185.1" x2="744.2" y2="185.1" stroke="#7a7a7a" stroke-width="0.6" stroke-opacity="0.75"/><polygon points="748.4,169 755.1,169 755.7,172.2 747.8,172.2" fill="none" stroke="#a0a0a0" stroke-width="0.7"/><rect x="750.33" y="172.6" width="2.8" height="2.4" fill="none" stroke="#a0a0a0" stroke-width="0.6"/><line x1="749.38" y1="170.4" x2="752.14" y2="170.4" stroke="#7a7a7a" stroke-width="0.5"/><line x1="748.6" y1="176.3" x2="754.9" y2="176.3" stroke="#7a7a7a" stroke-width="0.6" stroke-opacity="0.75"/><polygon points="748.4,177.8 755.1,177.8 755.7,181 747.8,181" fill="none" stroke="#a0a0a0" stroke-width="0.7"/><rect x="750.33" y="181.4" width="2.8" height="2.4" fill="none" stroke="#a0a0a0" stroke-width="0.6"/><line x1="749.38" y1="179.2" x2="752.14" y2="179.2" stroke="#7a7a7a" stroke-width="0.5"/><line x1="748.6" y1="185.1" x2="754.9" y2="185.1" stroke="#7a7a7a" stroke-width="0.6" stroke-opacity="0.75"/><path d="M744.5 170.21h1.46v1.73h-1.46zM746.53 170.21h1.37v1.61h-1.37zM748.45 170.48h0.65v1.44h-0.65z" fill="#d8d8d8" opacity="0.8"/><line x1="746.9" y1="167.5" x2="746.9" y2="186" stroke="#7a7a7a" stroke-width="0.6"/><line x1="760.6" y1="143.5" x2="760.6" y2="167" stroke="#7a7a7a" stroke-width="0.7"/><line x1="758" y1="145" x2="760.6" y2="145" stroke="#a0a0a0" stroke-width="0.6"/><line x1="758" y1="146.9" x2="760.6" y2="146.9" stroke="#a0a0a0" stroke-width="0.6"/><line x1="758" y1="148.8" x2="760.6" y2="148.8" stroke="#a0a0a0" stroke-width="0.6"/><line x1="758" y1="150.7" x2="760.6" y2="150.7" stroke="#a0a0a0" stroke-width="0.6"/><line x1="758" y1="152.6" x2="760.6" y2="152.6" stroke="#a0a0a0" stroke-width="0.6"/><line x1="758" y1="154.5" x2="760.6" y2="154.5" stroke="#a0a0a0" stroke-width="0.6"/><line x1="758" y1="156.4" x2="760.6" y2="156.4" stroke="#a0a0a0" stroke-width="0.6"/><line x1="758" y1="158.3" x2="760.6" y2="158.3" stroke="#a0a0a0" stroke-width="0.6"/><line x1="758" y1="160.2" x2="760.6" y2="160.2" stroke="#a0a0a0" stroke-width="0.6"/><line x1="758" y1="162.1" x2="760.6" y2="162.1" stroke="#a0a0a0" stroke-width="0.6"/><line x1="758" y1="164" x2="760.6" y2="164" stroke="#a0a0a0" stroke-width="0.6"/><line x1="758" y1="165.9" x2="760.6" y2="165.9" stroke="#a0a0a0" stroke-width="0.6"/><path d="M766 143.8A4.6 4.6 0 0 1 761.4 148.4" fill="none" stroke="#7a7a7a" stroke-width="0.6"/><polygon points="759.9,160 766.6,160 767.2,163.2 759.3,163.2" fill="none" stroke="#a0a0a0" stroke-width="0.7"/><rect x="761.83" y="163.6" width="2.8" height="2.4" fill="none" stroke="#a0a0a0" stroke-width="0.6"/><line x1="760.88" y1="161.4" x2="763.64" y2="161.4" stroke="#7a7a7a" stroke-width="0.5"/><line x1="760.1" y1="167.3" x2="766.4" y2="167.3" stroke="#7a7a7a" stroke-width="0.6" stroke-opacity="0.75"/><polygon points="759.9,169 766.6,169 767.2,172.2 759.3,172.2" fill="none" stroke="#a0a0a0" stroke-width="0.7"/><rect x="761.83" y="172.6" width="2.8" height="2.4" fill="none" stroke="#a0a0a0" stroke-width="0.6"/><line x1="760.88" y1="170.4" x2="763.64" y2="170.4" stroke="#7a7a7a" stroke-width="0.5"/><line x1="760.1" y1="176.3" x2="766.4" y2="176.3" stroke="#7a7a7a" stroke-width="0.6" stroke-opacity="0.75"/><polygon points="759.9,177.8 766.6,177.8 767.2,181 759.3,181" fill="none" stroke="#a0a0a0" stroke-width="0.7"/><rect x="761.83" y="181.4" width="2.8" height="2.4" fill="none" stroke="#a0a0a0" stroke-width="0.6"/><line x1="760.88" y1="179.2" x2="763.64" y2="179.2" stroke="#7a7a7a" stroke-width="0.5"/><line x1="760.1" y1="185.1" x2="766.4" y2="185.1" stroke="#7a7a7a" stroke-width="0.6" stroke-opacity="0.75"/><polygon points="770.6,160 777.3,160 777.9,163.2 770,163.2" fill="none" stroke="#a0a0a0" stroke-width="0.7"/><rect x="772.53" y="163.6" width="2.8" height="2.4" fill="none" stroke="#a0a0a0" stroke-width="0.6"/><line x1="771.58" y1="161.4" x2="774.35" y2="161.4" stroke="#7a7a7a" stroke-width="0.5"/><line x1="770.8" y1="167.3" x2="777.1" y2="167.3" stroke="#7a7a7a" stroke-width="0.6" stroke-opacity="0.75"/><polygon points="770.6,169 777.3,169 777.9,172.2 770,172.2" fill="none" stroke="#a0a0a0" stroke-width="0.7"/><rect x="772.53" y="172.6" width="2.8" height="2.4" fill="none" stroke="#a0a0a0" stroke-width="0.6"/><line x1="771.58" y1="170.4" x2="774.35" y2="170.4" stroke="#7a7a7a" stroke-width="0.5"/><line x1="770.8" y1="176.3" x2="777.1" y2="176.3" stroke="#7a7a7a" stroke-width="0.6" stroke-opacity="0.75"/><polygon points="770.6,177.8 777.3,177.8 777.9,181 770,181" fill="none" stroke="#a0a0a0" stroke-width="0.7"/><rect x="772.53" y="181.4" width="2.8" height="2.4" fill="none" stroke="#a0a0a0" stroke-width="0.6"/><line x1="771.58" y1="179.2" x2="774.35" y2="179.2" stroke="#7a7a7a" stroke-width="0.5"/><line x1="770.8" y1="185.1" x2="777.1" y2="185.1" stroke="#7a7a7a" stroke-width="0.6" stroke-opacity="0.75"/><path d="M766.7 170.29h1.48v1.44h-1.48zM768.42 170.22h0.99v1.69h-0.99zM769.65 170.4h0.76v1.37h-0.76z" fill="#d8d8d8" opacity="0.8"/><line x1="769.1" y1="167.5" x2="769.1" y2="186" stroke="#7a7a7a" stroke-width="0.6"/><polygon points="782.1,160 789.1,160 789.7,163.2 781.5,163.2" fill="none" stroke="#a0a0a0" stroke-width="0.7"/><rect x="784.12" y="163.6" width="2.8" height="2.4" fill="none" stroke="#a0a0a0" stroke-width="0.6"/><line x1="783.14" y1="161.4" x2="786.01" y2="161.4" stroke="#7a7a7a" stroke-width="0.5"/><line x1="782.3" y1="167.3" x2="788.9" y2="167.3" stroke="#7a7a7a" stroke-width="0.6" stroke-opacity="0.75"/><polygon points="782.1,169 789.1,169 789.7,172.2 781.5,172.2" fill="none" stroke="#a0a0a0" stroke-width="0.7"/><rect x="784.12" y="172.6" width="2.8" height="2.4" fill="none" stroke="#a0a0a0" stroke-width="0.6"/><line x1="783.14" y1="170.4" x2="786.01" y2="170.4" stroke="#7a7a7a" stroke-width="0.5"/><line x1="782.3" y1="176.3" x2="788.9" y2="176.3" stroke="#7a7a7a" stroke-width="0.6" stroke-opacity="0.75"/><polygon points="782.1,177.8 789.1,177.8 789.7,181 781.5,181" fill="none" stroke="#a0a0a0" stroke-width="0.7"/><rect x="784.12" y="181.4" width="2.8" height="2.4" fill="none" stroke="#a0a0a0" stroke-width="0.6"/><line x1="783.14" y1="179.2" x2="786.01" y2="179.2" stroke="#7a7a7a" stroke-width="0.5"/><line x1="782.3" y1="185.1" x2="788.9" y2="185.1" stroke="#7a7a7a" stroke-width="0.6" stroke-opacity="0.75"/><polygon points="793.1,160 800.1,160 800.7,163.2 792.5,163.2" fill="none" stroke="#a0a0a0" stroke-width="0.7"/><rect x="795.12" y="163.6" width="2.8" height="2.4" fill="none" stroke="#a0a0a0" stroke-width="0.6"/><line x1="794.14" y1="161.4" x2="797.01" y2="161.4" stroke="#7a7a7a" stroke-width="0.5"/><line x1="793.3" y1="167.3" x2="799.9" y2="167.3" stroke="#7a7a7a" stroke-width="0.6" stroke-opacity="0.75"/><polygon points="793.1,169 800.1,169 800.7,172.2 792.5,172.2" fill="none" stroke="#a0a0a0" stroke-width="0.7"/><rect x="795.12" y="172.6" width="2.8" height="2.4" fill="none" stroke="#a0a0a0" stroke-width="0.6"/><line x1="794.14" y1="170.4" x2="797.01" y2="170.4" stroke="#7a7a7a" stroke-width="0.5"/><line x1="793.3" y1="176.3" x2="799.9" y2="176.3" stroke="#7a7a7a" stroke-width="0.6" stroke-opacity="0.75"/><polygon points="793.1,177.8 800.1,177.8 800.7,181 792.5,181" fill="none" stroke="#a0a0a0" stroke-width="0.7"/><rect x="795.12" y="181.4" width="2.8" height="2.4" fill="none" stroke="#a0a0a0" stroke-width="0.6"/><line x1="794.14" y1="179.2" x2="797.01" y2="179.2" stroke="#7a7a7a" stroke-width="0.5"/><line x1="793.3" y1="185.1" x2="799.9" y2="185.1" stroke="#7a7a7a" stroke-width="0.6" stroke-opacity="0.75"/><path d="M790.86 170.52h1.51v1.43h-1.51zM792.8 170.25h0.8v1.71h-0.8z" fill="#d8d8d8" opacity="0.8"/><line x1="791.6" y1="167.5" x2="791.6" y2="186" stroke="#7a7a7a" stroke-width="0.6"/><line x1="690.5" y1="143.5" x2="690.5" y2="188" stroke="#7a7a7a" stroke-width="0.6"/><line x1="692.5" y1="143.5" x2="692.5" y2="188" stroke="#7a7a7a" stroke-width="0.6"/><line x1="734.8" y1="143.5" x2="734.8" y2="188" stroke="#7a7a7a" stroke-width="0.6"/><line x1="736.8" y1="143.5" x2="736.8" y2="188" stroke="#7a7a7a" stroke-width="0.6"/><rect x="768" y="146" width="9" height="2.5" fill="none" stroke="#7a7a7a" stroke-width="0.6"/><rect x="782" y="146" width="9" height="2.5" fill="none" stroke="#7a7a7a" stroke-width="0.6"/><rect x="770" y="150" width="5" height="2.5" fill="none" stroke="#7a7a7a" stroke-width="0.6" rx="1"/><rect x="784" y="150" width="5" height="2.5" fill="none" stroke="#7a7a7a" stroke-width="0.6" rx="1"/><rect x="778" y="154.5" width="4.4" height="4.8" fill="#8c8c8c" stroke="none" stroke-width="1"/><path d="M785.54 156.4h0.89v1.78h-0.89zM787.93 156.08h1.23v2.01h-1.23zM789.4 156.05h1.17v2.06h-1.17zM790.86 156.46h1.14v1.68h-1.14z" fill="#b0b0b0" opacity="0.7"/><line x1="803" y1="143.5" x2="803" y2="188" stroke="#7a7a7a" stroke-width="1.2"/><line x1="815" y1="155.3" x2="815" y2="177.5" stroke="#a00000" stroke-width="1"/><line x1="840.2" y1="155.3" x2="840.2" y2="177.5" stroke="#a00000" stroke-width="1"/><line x1="815" y1="177.5" x2="840.2" y2="177.5" stroke="#a00000" stroke-width="1"/><line x1="807" y1="144.5" x2="815" y2="155.3" stroke="#a00000" stroke-width="1"/><line x1="845" y1="144.5" x2="840.2" y2="155.3" stroke="#a00000" stroke-width="1"/><line x1="804.3" y1="155.3" x2="815" y2="155.3" stroke="#a00000" stroke-width="1"/><line x1="840.2" y1="166" x2="850.5" y2="166" stroke="#a00000" stroke-width="1"/><rect x="813.2" y="153.5" width="3.6" height="3.6" fill="#000" stroke="none" stroke-width="1"/><rect x="813.2" y="153.5" width="3.6" height="3.6" fill="none" stroke="#00c000" stroke-width="0.8" rx="0.6"/><line x1="815" y1="154.3" x2="815" y2="156.3" stroke="#00c000" stroke-width="0.6"/><rect x="813.2" y="164.2" width="3.6" height="3.6" fill="#000" stroke="none" stroke-width="1"/><rect x="813.2" y="164.2" width="3.6" height="3.6" fill="none" stroke="#00c000" stroke-width="0.8" rx="0.6"/><line x1="815" y1="165" x2="815" y2="167" stroke="#00c000" stroke-width="0.6"/><rect x="813.2" y="175.7" width="3.6" height="3.6" fill="#000" stroke="none" stroke-width="1"/><rect x="813.2" y="175.7" width="3.6" height="3.6" fill="none" stroke="#00c000" stroke-width="0.8" rx="0.6"/><line x1="815" y1="176.5" x2="815" y2="178.5" stroke="#00c000" stroke-width="0.6"/><rect x="838.4" y="153.5" width="3.6" height="3.6" fill="#000" stroke="none" stroke-width="1"/><rect x="838.4" y="153.5" width="3.6" height="3.6" fill="none" stroke="#00c000" stroke-width="0.8" rx="0.6"/><line x1="840.2" y1="154.3" x2="840.2" y2="156.3" stroke="#00c000" stroke-width="0.6"/><rect x="838.4" y="164.2" width="3.6" height="3.6" fill="#000" stroke="none" stroke-width="1"/><rect x="838.4" y="164.2" width="3.6" height="3.6" fill="none" stroke="#00c000" stroke-width="0.8" rx="0.6"/><line x1="840.2" y1="165" x2="840.2" y2="167" stroke="#00c000" stroke-width="0.6"/><rect x="838.4" y="175.7" width="3.6" height="3.6" fill="#000" stroke="none" stroke-width="1"/><rect x="838.4" y="175.7" width="3.6" height="3.6" fill="none" stroke="#00c000" stroke-width="0.8" rx="0.6"/><line x1="840.2" y1="176.5" x2="840.2" y2="178.5" stroke="#00c000" stroke-width="0.6"/><rect x="802.4" y="153.3" width="4" height="4" fill="#00d800" stroke="none" stroke-width="1"/><rect x="848.6" y="164" width="4" height="4" fill="#00d800" stroke="none" stroke-width="1"/><line x1="805.4" y1="158" x2="813.3" y2="158" stroke="#ff80ff" stroke-width="1"/><line x1="840.7" y1="169.1" x2="849" y2="169.1" stroke="#ff80ff" stroke-width="1"/><rect x="822.8" y="154.9" width="4" height="4.4" fill="#8c8c8c" stroke="none" stroke-width="1"/><path d="M821 169.76h1.09v1.83h-1.09zM822.37 169.63h0.97v1.84h-0.97zM823.76 170.09h1.15v1.49h-1.15zM825.51 170.05h1.2v1.51h-1.2zM828.87 169.89h1.53v1.41h-1.53z" fill="#d8d8d8" opacity="0.85"/><path d="M824.41 172.69h1.54v1.34h-1.54zM826.48 172.51h1.08v1.4h-1.08zM827.93 172.4h1.16v1.31h-1.16zM829.42 172.51h0.58v1.39h-0.58z" fill="#808080" opacity="0.8"/><rect x="804.6" y="141" width="3.9" height="3.6" fill="#00c800" stroke="none" stroke-width="1"/><circle cx="806.5" cy="140.5" r="1.2" fill="none" stroke="#00c800" stroke-width="0.7"/><rect x="809" y="141" width="10" height="2.2" fill="none" stroke="#00c000" stroke-width="0.8"/><line x1="811" y1="142" x2="818" y2="142" stroke="#00c000" stroke-width="0.6"/><polyline points="827.5,143.5 831.5,140.5 833,140.5" fill="none" stroke="#c0c000" stroke-width="0.8"/><path d="M833 138.82h0.86v2.53h-0.86zM834.29 138.96h1.35v2.38h-1.35zM835.95 139.5h1.45v1.86h-1.45zM837.78 138.91h0.78v2.44h-0.78zM838.82 138.8h1.11v2.6h-1.11zM840.44 139.07h0.56v1.95h-0.56z" fill="#ffffff" opacity="0.95"/><rect x="827" y="142.6" width="3" height="1.4" fill="#00c800" stroke="none" stroke-width="1"/><polygon points="843.4,140.8 846.6,140.8 845,144.5" fill="none" stroke="#00c000" stroke-width="0.8"/><rect x="849.8" y="146" width="3.2" height="4" fill="none" stroke="#a0a0a0" stroke-width="0.6"/><rect x="849.8" y="151" width="3.2" height="4" fill="none" stroke="#a0a0a0" stroke-width="0.6"/><path d="M736.8 225.96h0.97v2.37h-0.97zM738.05 226.26h0.98v2.34h-0.98zM739.41 225.92h1.58v3.05h-1.58zM741.27 225.96h1.23v2.33h-1.23zM742.98 226.16h1.02v2.5h-1.02z" fill="#ffffff" opacity="0.95"/><line x1="736" y1="230.2" x2="745" y2="230.2" stroke="#00c000" stroke-width="1"/></g></svg></body></html>
